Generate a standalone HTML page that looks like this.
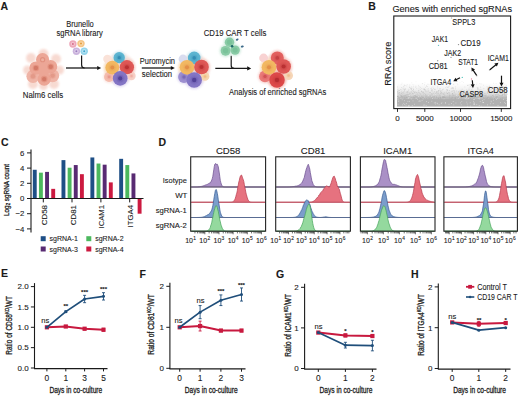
<!DOCTYPE html>
<html><head><meta charset="utf-8"><style>
html,body{margin:0;padding:0;background:#fff;}
svg{display:block;}
text{font-family:"Liberation Sans", sans-serif;fill:#1a1a1a;stroke:#1a1a1a;stroke-width:0.1px;}
.th{stroke:#222;stroke-width:0.3px;}
</style></head><body>
<svg width="520" height="396" viewBox="0 0 520 396">
<defs>
<filter id="soft" x="-50%" y="-50%" width="200%" height="200%"><feGaussianBlur stdDeviation="1.2"/></filter>
<filter id="soft1" x="-50%" y="-50%" width="200%" height="200%"><feGaussianBlur stdDeviation="0.45"/></filter>
<filter id="soft2" x="-50%" y="-50%" width="200%" height="200%"><feGaussianBlur stdDeviation="0.8"/></filter>
</defs>
<rect width="520" height="396" fill="#fff"/>
<text x="0.60" y="9.60" font-size="10.5" text-anchor="start" font-weight="bold" fill="#000">A</text>
<text x="368.30" y="10.20" font-size="10.5" text-anchor="start" font-weight="bold" fill="#000">B</text>
<text x="1.00" y="146.20" font-size="10.5" text-anchor="start" font-weight="bold" fill="#000">C</text>
<text x="158.60" y="145.60" font-size="10.5" text-anchor="start" font-weight="bold" fill="#000">D</text>
<text x="1.00" y="277.40" font-size="10.5" text-anchor="start" font-weight="bold" fill="#000">E</text>
<text x="139.60" y="278.30" font-size="10.5" text-anchor="start" font-weight="bold" fill="#000">F</text>
<text x="276.00" y="278.30" font-size="10.5" text-anchor="start" font-weight="bold" fill="#000">G</text>
<text x="411.00" y="278.30" font-size="10.5" text-anchor="start" font-weight="bold" fill="#000">H</text>
<circle cx="31" cy="58" r="5" fill="#f7d6cd" opacity="0.9" filter="url(#soft2)"/>
<circle cx="56" cy="59" r="5" fill="#f7d6cd" opacity="0.9" filter="url(#soft2)"/>
<circle cx="27.5" cy="70" r="4.5" fill="#f7d6cd" opacity="0.9" filter="url(#soft2)"/>
<circle cx="59.5" cy="70" r="4.5" fill="#f7d6cd" opacity="0.9" filter="url(#soft2)"/>
<circle cx="33" cy="84" r="5" fill="#f7d6cd" opacity="0.9" filter="url(#soft2)"/>
<circle cx="54" cy="84" r="5" fill="#f7d6cd" opacity="0.9" filter="url(#soft2)"/>
<circle cx="43.5" cy="54" r="5" fill="#f7d6cd" opacity="0.9" filter="url(#soft2)"/>
<circle cx="43.5" cy="85.5" r="4.5" fill="#f7d6cd" opacity="0.9" filter="url(#soft2)"/>
<circle cx="33.00" cy="76.30" r="6.60" fill="#efb4a6" filter="url(#soft1)"/>
<circle cx="52.60" cy="75.60" r="6.60" fill="#efb4a6" filter="url(#soft1)"/>
<circle cx="42.60" cy="59.70" r="6.60" fill="#eca696" filter="url(#soft1)"/>
<circle cx="35.90" cy="68.00" r="6.60" fill="#eca696" filter="url(#soft1)"/>
<circle cx="50.70" cy="66.70" r="6.60" fill="#eca696" filter="url(#soft1)"/>
<circle cx="44.20" cy="79.10" r="6.60" fill="#eca696" filter="url(#soft1)"/>
<circle cx="43.50" cy="69.50" r="6.60" fill="#eca696" filter="url(#soft1)"/>
<circle cx="42.60" cy="59.70" r="2.60" fill="#e08e7c" opacity="0.9"/>
<circle cx="42.60" cy="59.70" r="1.50" fill="#eeb0a0"/>
<circle cx="35.90" cy="68.00" r="3.30" fill="#e3907e" opacity="0.80" filter="url(#soft1)"/>
<circle cx="35.90" cy="68.00" r="2.20" fill="#d47a68" opacity="1.00"/>
<circle cx="50.70" cy="66.70" r="3.30" fill="#e3907e" opacity="0.80" filter="url(#soft1)"/>
<circle cx="50.70" cy="66.70" r="2.20" fill="#d47a68" opacity="1.00"/>
<circle cx="44.20" cy="79.10" r="3.30" fill="#e3907e" opacity="0.80" filter="url(#soft1)"/>
<circle cx="44.20" cy="79.10" r="2.20" fill="#d47a68" opacity="1.00"/>
<circle cx="33.00" cy="76.30" r="3.30" fill="#e3907e" opacity="0.28" filter="url(#soft1)"/>
<circle cx="33.00" cy="76.30" r="2.20" fill="#d47a68" opacity="0.35"/>
<circle cx="52.60" cy="75.60" r="3.30" fill="#e3907e" opacity="0.28" filter="url(#soft1)"/>
<circle cx="52.60" cy="75.60" r="2.20" fill="#d47a68" opacity="0.35"/>
<text x="43.00" y="97.80" font-size="8.4" text-anchor="middle" textLength="40.40" lengthAdjust="spacingAndGlyphs">Nalm6 cells</text>
<line x1="66.00" y1="68.00" x2="97.70" y2="68.00" stroke="#1a1a1a" stroke-width="1.3"/>
<path d="M101.20,68.00 L97.20,65.90 L97.20,70.10 Z" fill="#111"/>
<path d="M81.6,55.5 L81.6,65.0 Q81.6,68.0 84.6,68.0" fill="none" stroke="#1a1a1a" stroke-width="1.2"/>
<circle cx="72.90" cy="44.00" r="3.70" fill="#eda3b6" opacity="0.95" filter="url(#soft1)"/>
<circle cx="72.90" cy="44.00" r="2.10" fill="#ffffff" opacity="0.35"/>
<circle cx="72.90" cy="44.00" r="1.00" fill="#d56f8a"/>
<circle cx="81.00" cy="43.60" r="3.70" fill="#f6c27e" opacity="0.95" filter="url(#soft1)"/>
<circle cx="81.00" cy="43.60" r="2.10" fill="#ffffff" opacity="0.35"/>
<circle cx="81.00" cy="43.60" r="1.00" fill="#e39a3a"/>
<circle cx="76.40" cy="51.20" r="3.70" fill="#c9b0dc" opacity="0.95" filter="url(#soft1)"/>
<circle cx="76.40" cy="51.20" r="2.10" fill="#ffffff" opacity="0.35"/>
<circle cx="76.40" cy="51.20" r="1.00" fill="#9b7cc0"/>
<circle cx="84.20" cy="51.20" r="3.70" fill="#8fd3ea" opacity="0.95" filter="url(#soft1)"/>
<circle cx="84.20" cy="51.20" r="2.10" fill="#ffffff" opacity="0.35"/>
<circle cx="84.20" cy="51.20" r="1.00" fill="#44a9cf"/>
<text x="80.00" y="27.00" font-size="8.3" text-anchor="middle" textLength="27.60" lengthAdjust="spacingAndGlyphs">Brunello</text>
<text x="79.60" y="35.70" font-size="8.3" text-anchor="middle" textLength="46.20" lengthAdjust="spacingAndGlyphs">sgRNA library</text>
<circle cx="119.45" cy="68.55" r="15.5" fill="#f7e4dc" opacity="0.8" filter="url(#soft)"/>
<circle cx="109.10" cy="76.90" r="6.00" fill="#f9dcd4" opacity="0.7" filter="url(#soft2)"/>
<circle cx="119.20" cy="57.70" r="6.75" fill="#c0e4f0" opacity="0.7" filter="url(#soft2)"/>
<circle cx="112.30" cy="67.60" r="8.25" fill="#fadcae" opacity="0.7" filter="url(#soft2)"/>
<circle cx="126.90" cy="67.20" r="8.50" fill="#f5c4be" opacity="0.7" filter="url(#soft2)"/>
<circle cx="120.20" cy="78.40" r="8.75" fill="#d6cef0" opacity="0.7" filter="url(#soft2)"/>
<circle cx="107.40" cy="59.00" r="4.20" fill="#fae2d8" filter="url(#soft1)"/>
<circle cx="109.10" cy="76.90" r="5.04" fill="#f4bcae" filter="url(#soft1)"/>
<circle cx="109.10" cy="76.90" r="2.88" fill="#f4bcae" opacity="0.5" stroke="#e8958a" stroke-opacity="0.25" stroke-width="0.6"/>
<circle cx="109.10" cy="76.90" r="2.30" fill="#e8958a" opacity="0.25"/>
<circle cx="109.10" cy="76.90" r="1.44" fill="#e8958a" opacity="0.85"/>
<circle cx="131.50" cy="76.00" r="4.20" fill="#f7d0c6" filter="url(#soft1)"/>
<circle cx="131.50" cy="76.00" r="2.40" fill="#f7d0c6" opacity="0.5" stroke="#eeaaa0" stroke-opacity="0.25" stroke-width="0.6"/>
<circle cx="131.50" cy="76.00" r="1.92" fill="#eeaaa0" opacity="0.25"/>
<circle cx="131.50" cy="76.00" r="1.20" fill="#eeaaa0" opacity="0.85"/>
<circle cx="119.20" cy="57.70" r="5.67" fill="#5cb4d0" filter="url(#soft1)"/>
<circle cx="119.20" cy="57.70" r="3.24" fill="#5cb4d0" opacity="0.5" stroke="#2f88b0" stroke-opacity="0.25" stroke-width="0.6"/>
<circle cx="119.20" cy="57.70" r="2.59" fill="#2f88b0" opacity="0.25"/>
<circle cx="119.20" cy="57.70" r="1.62" fill="#2f88b0" opacity="0.85"/>
<circle cx="112.30" cy="67.60" r="6.93" fill="#f2b862" filter="url(#soft1)"/>
<circle cx="112.30" cy="67.60" r="3.96" fill="#f2b862" opacity="0.5" stroke="#e08a44" stroke-opacity="0.25" stroke-width="0.6"/>
<circle cx="112.30" cy="67.60" r="3.17" fill="#e08a44" opacity="0.25"/>
<circle cx="112.30" cy="67.60" r="1.98" fill="#e08a44" opacity="0.85"/>
<circle cx="126.90" cy="67.20" r="7.14" fill="#de5856" filter="url(#soft1)"/>
<circle cx="126.90" cy="67.20" r="4.08" fill="#de5856" opacity="0.5" stroke="#b52c2e" stroke-opacity="0.25" stroke-width="0.6"/>
<circle cx="126.90" cy="67.20" r="3.26" fill="#b52c2e" opacity="0.25"/>
<circle cx="126.90" cy="67.20" r="2.04" fill="#b52c2e" opacity="0.85"/>
<circle cx="120.20" cy="78.40" r="7.35" fill="#8374c4" filter="url(#soft1)"/>
<circle cx="120.20" cy="78.40" r="4.20" fill="#8374c4" opacity="0.5" stroke="#4b3b92" stroke-opacity="0.25" stroke-width="0.6"/>
<circle cx="120.20" cy="78.40" r="3.36" fill="#4b3b92" opacity="0.25"/>
<circle cx="120.20" cy="78.40" r="2.10" fill="#4b3b92" opacity="0.85"/>
<line x1="141.80" y1="68.00" x2="171.30" y2="68.00" stroke="#1a1a1a" stroke-width="1.3"/>
<path d="M174.80,68.00 L170.80,65.90 L170.80,70.10 Z" fill="#111"/>
<text x="157.40" y="63.90" font-size="8.5" text-anchor="middle" textLength="35.20" lengthAdjust="spacingAndGlyphs">Puromycin</text>
<text x="157.00" y="76.60" font-size="8.5" text-anchor="middle" textLength="30.30" lengthAdjust="spacingAndGlyphs">selection</text>
<circle cx="194.00" cy="69.45" r="15.5" fill="#f7e4dc" opacity="0.8" filter="url(#soft)"/>
<circle cx="184.00" cy="77.00" r="7.00" fill="#d6cfee" opacity="0.7" filter="url(#soft2)"/>
<circle cx="194.20" cy="57.90" r="7.50" fill="#c0e4f0" opacity="0.7" filter="url(#soft2)"/>
<circle cx="187.00" cy="67.30" r="8.75" fill="#fadcae" opacity="0.7" filter="url(#soft2)"/>
<circle cx="201.50" cy="67.00" r="8.75" fill="#f5c4be" opacity="0.7" filter="url(#soft2)"/>
<circle cx="194.20" cy="80.00" r="9.25" fill="#d6cef0" opacity="0.7" filter="url(#soft2)"/>
<circle cx="183.00" cy="59.00" r="4.41" fill="#d9dcef" filter="url(#soft1)"/>
<circle cx="205.00" cy="76.40" r="4.41" fill="#f6d6b0" filter="url(#soft1)"/>
<circle cx="205.00" cy="76.40" r="2.52" fill="#f6d6b0" opacity="0.5" stroke="#eebb80" stroke-opacity="0.25" stroke-width="0.6"/>
<circle cx="205.00" cy="76.40" r="2.02" fill="#eebb80" opacity="0.25"/>
<circle cx="205.00" cy="76.40" r="1.26" fill="#eebb80" opacity="0.85"/>
<circle cx="184.00" cy="77.00" r="5.88" fill="#9d8fd0" filter="url(#soft1)"/>
<circle cx="184.00" cy="77.00" r="3.36" fill="#9d8fd0" opacity="0.5" stroke="#7464b4" stroke-opacity="0.25" stroke-width="0.6"/>
<circle cx="184.00" cy="77.00" r="2.69" fill="#7464b4" opacity="0.25"/>
<circle cx="184.00" cy="77.00" r="1.68" fill="#7464b4" opacity="0.85"/>
<circle cx="194.20" cy="57.90" r="6.30" fill="#5cb4d0" filter="url(#soft1)"/>
<circle cx="194.20" cy="57.90" r="3.60" fill="#5cb4d0" opacity="0.5" stroke="#2f88b0" stroke-opacity="0.25" stroke-width="0.6"/>
<circle cx="194.20" cy="57.90" r="2.88" fill="#2f88b0" opacity="0.25"/>
<circle cx="194.20" cy="57.90" r="1.80" fill="#2f88b0" opacity="0.85"/>
<circle cx="187.00" cy="67.30" r="7.35" fill="#f2b862" filter="url(#soft1)"/>
<circle cx="187.00" cy="67.30" r="4.20" fill="#f2b862" opacity="0.5" stroke="#e08a44" stroke-opacity="0.25" stroke-width="0.6"/>
<circle cx="187.00" cy="67.30" r="3.36" fill="#e08a44" opacity="0.25"/>
<circle cx="187.00" cy="67.30" r="2.10" fill="#e08a44" opacity="0.85"/>
<circle cx="201.50" cy="67.00" r="7.35" fill="#de5856" filter="url(#soft1)"/>
<circle cx="201.50" cy="67.00" r="4.20" fill="#de5856" opacity="0.5" stroke="#b52c2e" stroke-opacity="0.25" stroke-width="0.6"/>
<circle cx="201.50" cy="67.00" r="3.36" fill="#b52c2e" opacity="0.25"/>
<circle cx="201.50" cy="67.00" r="2.10" fill="#b52c2e" opacity="0.85"/>
<circle cx="194.20" cy="80.00" r="7.77" fill="#8374c4" filter="url(#soft1)"/>
<circle cx="194.20" cy="80.00" r="4.44" fill="#8374c4" opacity="0.5" stroke="#4b3b92" stroke-opacity="0.25" stroke-width="0.6"/>
<circle cx="194.20" cy="80.00" r="3.55" fill="#4b3b92" opacity="0.25"/>
<circle cx="194.20" cy="80.00" r="2.22" fill="#4b3b92" opacity="0.85"/>
<line x1="215.30" y1="68.40" x2="247.70" y2="68.40" stroke="#1a1a1a" stroke-width="1.3"/>
<path d="M251.20,68.40 L247.20,66.30 L247.20,70.50 Z" fill="#111"/>
<path d="M231.2,55.8 L231.2,65.4 Q231.2,68.4 234.2,68.4" fill="none" stroke="#1a1a1a" stroke-width="1.2"/>
<circle cx="229.5" cy="42.2" r="5.88" fill="#cdeadb" opacity="0.9" filter="url(#soft2)"/>
<circle cx="225.6" cy="50.8" r="6.12" fill="#cdeadb" opacity="0.9" filter="url(#soft2)"/>
<circle cx="235.1" cy="50.1" r="5.88" fill="#cdeadb" opacity="0.9" filter="url(#soft2)"/>
<circle cx="229.50" cy="42.20" r="4.70" fill="#8acba6" filter="url(#soft1)"/>
<circle cx="229.50" cy="42.20" r="2.59" fill="#74bd96" opacity="0.7"/>
<circle cx="225.60" cy="50.80" r="4.90" fill="#8acba6" filter="url(#soft1)"/>
<circle cx="225.60" cy="50.80" r="2.70" fill="#74bd96" opacity="0.7"/>
<circle cx="235.10" cy="50.10" r="4.70" fill="#8acba6" filter="url(#soft1)"/>
<circle cx="235.10" cy="50.10" r="2.59" fill="#74bd96" opacity="0.7"/>
<circle cx="232.10" cy="46.20" r="1.30" fill="#1f6a6a"/>
<ellipse cx="237.2" cy="39.6" rx="1.5" ry="1.0" fill="#3d6a8a" transform="rotate(-30 237.2 39.6)"/>
<ellipse cx="242.3" cy="46.6" rx="1.5" ry="1.0" fill="#3d6a8a" transform="rotate(-10 242.3 46.6)"/>
<text x="235.00" y="36.20" font-size="8.3" text-anchor="middle" textLength="62.60" lengthAdjust="spacingAndGlyphs">CD19 CAR T cells</text>
<circle cx="276.10" cy="69.45" r="15.5" fill="#f7e4dc" opacity="0.8" filter="url(#soft)"/>
<circle cx="265.00" cy="76.40" r="7.00" fill="#f6c0bc" opacity="0.7" filter="url(#soft2)"/>
<circle cx="277.30" cy="57.90" r="7.75" fill="#f4b0aa" opacity="0.7" filter="url(#soft2)"/>
<circle cx="269.00" cy="67.30" r="8.75" fill="#fadcae" opacity="0.7" filter="url(#soft2)"/>
<circle cx="283.60" cy="66.50" r="8.75" fill="#f5c4be" opacity="0.7" filter="url(#soft2)"/>
<circle cx="277.00" cy="80.00" r="9.25" fill="#f2a8a0" opacity="0.7" filter="url(#soft2)"/>
<circle cx="263.60" cy="58.00" r="4.41" fill="#f8d2d2" filter="url(#soft1)"/>
<circle cx="288.60" cy="75.60" r="4.41" fill="#f6d6b8" filter="url(#soft1)"/>
<circle cx="288.60" cy="75.60" r="2.52" fill="#f6d6b8" opacity="0.5" stroke="#eebb88" stroke-opacity="0.25" stroke-width="0.6"/>
<circle cx="288.60" cy="75.60" r="2.02" fill="#eebb88" opacity="0.25"/>
<circle cx="288.60" cy="75.60" r="1.26" fill="#eebb88" opacity="0.85"/>
<circle cx="265.00" cy="76.40" r="5.88" fill="#e97a78" filter="url(#soft1)"/>
<circle cx="265.00" cy="76.40" r="3.36" fill="#e97a78" opacity="0.5" stroke="#cf4d50" stroke-opacity="0.25" stroke-width="0.6"/>
<circle cx="265.00" cy="76.40" r="2.69" fill="#cf4d50" opacity="0.25"/>
<circle cx="265.00" cy="76.40" r="1.68" fill="#cf4d50" opacity="0.85"/>
<circle cx="277.30" cy="57.90" r="6.51" fill="#e2605e" filter="url(#soft1)"/>
<circle cx="277.30" cy="57.90" r="3.72" fill="#e2605e" opacity="0.5" stroke="#c03c3e" stroke-opacity="0.25" stroke-width="0.6"/>
<circle cx="277.30" cy="57.90" r="2.98" fill="#c03c3e" opacity="0.25"/>
<circle cx="277.30" cy="57.90" r="1.86" fill="#c03c3e" opacity="0.85"/>
<circle cx="269.00" cy="67.30" r="7.35" fill="#f2b862" filter="url(#soft1)"/>
<circle cx="269.00" cy="67.30" r="4.20" fill="#f2b862" opacity="0.5" stroke="#e08a44" stroke-opacity="0.25" stroke-width="0.6"/>
<circle cx="269.00" cy="67.30" r="3.36" fill="#e08a44" opacity="0.25"/>
<circle cx="269.00" cy="67.30" r="2.10" fill="#e08a44" opacity="0.85"/>
<circle cx="283.60" cy="66.50" r="7.35" fill="#de5856" filter="url(#soft1)"/>
<circle cx="283.60" cy="66.50" r="4.20" fill="#de5856" opacity="0.5" stroke="#b52c2e" stroke-opacity="0.25" stroke-width="0.6"/>
<circle cx="283.60" cy="66.50" r="3.36" fill="#b52c2e" opacity="0.25"/>
<circle cx="283.60" cy="66.50" r="2.10" fill="#b52c2e" opacity="0.85"/>
<circle cx="277.00" cy="80.00" r="7.77" fill="#dc4a48" filter="url(#soft1)"/>
<circle cx="277.00" cy="80.00" r="4.44" fill="#dc4a48" opacity="0.5" stroke="#b02a2e" stroke-opacity="0.25" stroke-width="0.6"/>
<circle cx="277.00" cy="80.00" r="3.55" fill="#b02a2e" opacity="0.25"/>
<circle cx="277.00" cy="80.00" r="2.22" fill="#b02a2e" opacity="0.85"/>
<text x="277.70" y="95.30" font-size="8.3" text-anchor="middle" textLength="97.40" lengthAdjust="spacingAndGlyphs">Analysis of enriched sgRNAs</text>
<defs><linearGradient id="gsc" x1="0" y1="0" x2="0" y2="1"><stop offset="0" stop-color="#c4c4c4" stop-opacity="0"/><stop offset="0.4" stop-color="#c4c4c4" stop-opacity="0.22"/><stop offset="0.75" stop-color="#bcbcbc" stop-opacity="0.6"/><stop offset="1" stop-color="#b4b4b4" stop-opacity="1"/></linearGradient></defs>
<rect x="397.00" y="83.00" width="110.00" height="15.50" fill="url(#gsc)"/>
<rect x="397.00" y="98.30" width="110.00" height="8.30" fill="#b1b1b1"/>
<rect x="432.6" y="86.6" width="0.8" height="0.8" fill="#a8a8a8" opacity="0.31"/>
<rect x="468.6" y="84.6" width="0.8" height="0.8" fill="#a8a8a8" opacity="0.25"/>
<rect x="455.9" y="90.6" width="0.8" height="0.8" fill="#a8a8a8" opacity="0.42"/>
<rect x="403.4" y="92.6" width="0.8" height="0.8" fill="#a8a8a8" opacity="0.48"/>
<rect x="401.1" y="91.6" width="0.8" height="0.8" fill="#a8a8a8" opacity="0.45"/>
<rect x="404.7" y="85.1" width="0.8" height="0.8" fill="#a8a8a8" opacity="0.27"/>
<rect x="443.7" y="96.6" width="0.8" height="0.8" fill="#a8a8a8" opacity="0.60"/>
<rect x="410.6" y="88.1" width="0.8" height="0.8" fill="#a8a8a8" opacity="0.35"/>
<rect x="466.0" y="97.9" width="0.8" height="0.8" fill="#a8a8a8" opacity="0.63"/>
<rect x="460.5" y="91.0" width="0.8" height="0.8" fill="#a8a8a8" opacity="0.44"/>
<rect x="504.4" y="83.8" width="0.8" height="0.8" fill="#a8a8a8" opacity="0.23"/>
<rect x="491.4" y="89.3" width="0.8" height="0.8" fill="#a8a8a8" opacity="0.39"/>
<rect x="412.9" y="85.8" width="0.8" height="0.8" fill="#a8a8a8" opacity="0.29"/>
<rect x="430.9" y="96.5" width="0.8" height="0.8" fill="#a8a8a8" opacity="0.59"/>
<rect x="416.9" y="93.6" width="0.8" height="0.8" fill="#a8a8a8" opacity="0.51"/>
<rect x="467.3" y="90.7" width="0.8" height="0.8" fill="#a8a8a8" opacity="0.43"/>
<rect x="457.3" y="84.3" width="0.8" height="0.8" fill="#a8a8a8" opacity="0.24"/>
<rect x="403.6" y="87.8" width="0.8" height="0.8" fill="#a8a8a8" opacity="0.34"/>
<rect x="471.8" y="91.5" width="0.8" height="0.8" fill="#a8a8a8" opacity="0.45"/>
<rect x="431.6" y="93.7" width="0.8" height="0.8" fill="#a8a8a8" opacity="0.51"/>
<rect x="446.9" y="89.5" width="0.8" height="0.8" fill="#a8a8a8" opacity="0.39"/>
<rect x="484.4" y="95.1" width="0.8" height="0.8" fill="#a8a8a8" opacity="0.55"/>
<rect x="423.9" y="93.5" width="0.8" height="0.8" fill="#a8a8a8" opacity="0.51"/>
<rect x="454.8" y="97.2" width="0.8" height="0.8" fill="#a8a8a8" opacity="0.61"/>
<rect x="477.2" y="89.3" width="0.8" height="0.8" fill="#a8a8a8" opacity="0.39"/>
<rect x="504.8" y="85.9" width="0.8" height="0.8" fill="#a8a8a8" opacity="0.29"/>
<rect x="443.0" y="95.8" width="0.8" height="0.8" fill="#a8a8a8" opacity="0.57"/>
<rect x="413.7" y="92.4" width="0.8" height="0.8" fill="#a8a8a8" opacity="0.48"/>
<rect x="401.3" y="94.7" width="0.8" height="0.8" fill="#a8a8a8" opacity="0.54"/>
<rect x="481.1" y="93.5" width="0.8" height="0.8" fill="#a8a8a8" opacity="0.51"/>
<rect x="493.3" y="89.7" width="0.8" height="0.8" fill="#a8a8a8" opacity="0.40"/>
<rect x="473.5" y="93.8" width="0.8" height="0.8" fill="#a8a8a8" opacity="0.52"/>
<rect x="460.8" y="91.9" width="0.8" height="0.8" fill="#a8a8a8" opacity="0.46"/>
<rect x="489.4" y="97.9" width="0.8" height="0.8" fill="#a8a8a8" opacity="0.63"/>
<rect x="449.2" y="94.7" width="0.8" height="0.8" fill="#a8a8a8" opacity="0.54"/>
<rect x="403.7" y="95.1" width="0.8" height="0.8" fill="#a8a8a8" opacity="0.55"/>
<rect x="468.2" y="98.4" width="0.8" height="0.8" fill="#a8a8a8" opacity="0.65"/>
<rect x="487.4" y="89.2" width="0.8" height="0.8" fill="#a8a8a8" opacity="0.39"/>
<rect x="439.4" y="94.7" width="0.8" height="0.8" fill="#a8a8a8" opacity="0.54"/>
<rect x="399.5" y="92.0" width="0.8" height="0.8" fill="#a8a8a8" opacity="0.46"/>
<rect x="415.5" y="85.8" width="0.8" height="0.8" fill="#a8a8a8" opacity="0.29"/>
<rect x="403.5" y="95.9" width="0.8" height="0.8" fill="#a8a8a8" opacity="0.58"/>
<rect x="411.2" y="88.6" width="0.8" height="0.8" fill="#a8a8a8" opacity="0.37"/>
<rect x="440.0" y="97.1" width="0.8" height="0.8" fill="#a8a8a8" opacity="0.61"/>
<rect x="405.9" y="91.8" width="0.8" height="0.8" fill="#a8a8a8" opacity="0.46"/>
<rect x="457.4" y="97.2" width="0.8" height="0.8" fill="#a8a8a8" opacity="0.61"/>
<rect x="487.1" y="97.0" width="0.8" height="0.8" fill="#a8a8a8" opacity="0.61"/>
<rect x="427.6" y="91.3" width="0.8" height="0.8" fill="#a8a8a8" opacity="0.45"/>
<rect x="436.5" y="97.3" width="0.8" height="0.8" fill="#a8a8a8" opacity="0.61"/>
<rect x="502.4" y="86.6" width="0.8" height="0.8" fill="#a8a8a8" opacity="0.31"/>
<rect x="416.4" y="88.3" width="0.8" height="0.8" fill="#a8a8a8" opacity="0.36"/>
<rect x="422.7" y="92.3" width="0.8" height="0.8" fill="#a8a8a8" opacity="0.47"/>
<rect x="461.8" y="88.8" width="0.8" height="0.8" fill="#a8a8a8" opacity="0.37"/>
<rect x="397.5" y="91.4" width="0.8" height="0.8" fill="#a8a8a8" opacity="0.45"/>
<rect x="437.6" y="93.4" width="0.8" height="0.8" fill="#a8a8a8" opacity="0.51"/>
<rect x="501.8" y="95.0" width="0.8" height="0.8" fill="#a8a8a8" opacity="0.55"/>
<rect x="453.7" y="94.1" width="0.8" height="0.8" fill="#a8a8a8" opacity="0.52"/>
<rect x="471.4" y="84.0" width="0.8" height="0.8" fill="#a8a8a8" opacity="0.24"/>
<rect x="495.9" y="96.1" width="0.8" height="0.8" fill="#a8a8a8" opacity="0.58"/>
<rect x="493.2" y="96.3" width="0.8" height="0.8" fill="#a8a8a8" opacity="0.59"/>
<rect x="440.2" y="91.1" width="0.8" height="0.8" fill="#a8a8a8" opacity="0.44"/>
<rect x="408.4" y="94.3" width="0.8" height="0.8" fill="#a8a8a8" opacity="0.53"/>
<rect x="403.8" y="84.5" width="0.8" height="0.8" fill="#a8a8a8" opacity="0.25"/>
<rect x="420.0" y="86.9" width="0.8" height="0.8" fill="#a8a8a8" opacity="0.32"/>
<rect x="434.4" y="84.0" width="0.8" height="0.8" fill="#a8a8a8" opacity="0.24"/>
<rect x="397.0" y="86.6" width="0.8" height="0.8" fill="#a8a8a8" opacity="0.31"/>
<rect x="408.2" y="90.5" width="0.8" height="0.8" fill="#a8a8a8" opacity="0.42"/>
<rect x="399.8" y="97.1" width="0.8" height="0.8" fill="#a8a8a8" opacity="0.61"/>
<rect x="464.5" y="86.6" width="0.8" height="0.8" fill="#a8a8a8" opacity="0.31"/>
<rect x="424.7" y="90.3" width="0.8" height="0.8" fill="#a8a8a8" opacity="0.42"/>
<rect x="437.1" y="86.0" width="0.8" height="0.8" fill="#a8a8a8" opacity="0.29"/>
<rect x="490.4" y="98.4" width="0.8" height="0.8" fill="#a8a8a8" opacity="0.65"/>
<rect x="448.3" y="92.3" width="0.8" height="0.8" fill="#a8a8a8" opacity="0.47"/>
<rect x="406.4" y="85.5" width="0.8" height="0.8" fill="#a8a8a8" opacity="0.28"/>
<rect x="434.7" y="88.9" width="0.8" height="0.8" fill="#a8a8a8" opacity="0.38"/>
<rect x="488.2" y="86.9" width="0.8" height="0.8" fill="#a8a8a8" opacity="0.32"/>
<rect x="399.5" y="98.0" width="0.8" height="0.8" fill="#a8a8a8" opacity="0.64"/>
<rect x="455.1" y="86.5" width="0.8" height="0.8" fill="#a8a8a8" opacity="0.31"/>
<rect x="456.7" y="83.0" width="0.8" height="0.8" fill="#a8a8a8" opacity="0.21"/>
<rect x="455.1" y="98.3" width="0.8" height="0.8" fill="#a8a8a8" opacity="0.64"/>
<rect x="492.0" y="95.1" width="0.8" height="0.8" fill="#a8a8a8" opacity="0.55"/>
<rect x="425.7" y="90.6" width="0.8" height="0.8" fill="#a8a8a8" opacity="0.42"/>
<rect x="415.4" y="96.0" width="0.8" height="0.8" fill="#a8a8a8" opacity="0.58"/>
<rect x="455.6" y="96.1" width="0.8" height="0.8" fill="#a8a8a8" opacity="0.58"/>
<rect x="433.3" y="88.1" width="0.8" height="0.8" fill="#a8a8a8" opacity="0.35"/>
<rect x="486.3" y="98.3" width="0.8" height="0.8" fill="#a8a8a8" opacity="0.65"/>
<rect x="490.8" y="96.4" width="0.8" height="0.8" fill="#a8a8a8" opacity="0.59"/>
<rect x="487.0" y="95.6" width="0.8" height="0.8" fill="#a8a8a8" opacity="0.57"/>
<rect x="421.9" y="92.8" width="0.8" height="0.8" fill="#a8a8a8" opacity="0.49"/>
<rect x="436.1" y="83.1" width="0.8" height="0.8" fill="#a8a8a8" opacity="0.21"/>
<rect x="400.1" y="89.1" width="0.8" height="0.8" fill="#a8a8a8" opacity="0.38"/>
<rect x="425.5" y="95.0" width="0.8" height="0.8" fill="#a8a8a8" opacity="0.55"/>
<rect x="502.2" y="91.8" width="0.8" height="0.8" fill="#a8a8a8" opacity="0.46"/>
<rect x="500.1" y="98.4" width="0.8" height="0.8" fill="#a8a8a8" opacity="0.65"/>
<rect x="502.1" y="90.6" width="0.8" height="0.8" fill="#a8a8a8" opacity="0.42"/>
<rect x="421.3" y="88.2" width="0.8" height="0.8" fill="#a8a8a8" opacity="0.36"/>
<rect x="418.6" y="87.7" width="0.8" height="0.8" fill="#a8a8a8" opacity="0.34"/>
<rect x="465.6" y="97.4" width="0.8" height="0.8" fill="#a8a8a8" opacity="0.62"/>
<rect x="489.4" y="92.3" width="0.8" height="0.8" fill="#a8a8a8" opacity="0.47"/>
<rect x="468.8" y="96.3" width="0.8" height="0.8" fill="#a8a8a8" opacity="0.59"/>
<rect x="406.3" y="94.6" width="0.8" height="0.8" fill="#a8a8a8" opacity="0.54"/>
<rect x="497.1" y="96.1" width="0.8" height="0.8" fill="#a8a8a8" opacity="0.58"/>
<rect x="479.5" y="92.2" width="0.8" height="0.8" fill="#a8a8a8" opacity="0.47"/>
<rect x="416.6" y="96.2" width="0.8" height="0.8" fill="#a8a8a8" opacity="0.58"/>
<rect x="433.6" y="96.3" width="0.8" height="0.8" fill="#a8a8a8" opacity="0.59"/>
<rect x="503.9" y="91.0" width="0.8" height="0.8" fill="#a8a8a8" opacity="0.44"/>
<rect x="441.2" y="97.9" width="0.8" height="0.8" fill="#a8a8a8" opacity="0.63"/>
<rect x="476.7" y="87.0" width="0.8" height="0.8" fill="#a8a8a8" opacity="0.32"/>
<rect x="411.0" y="86.6" width="0.8" height="0.8" fill="#a8a8a8" opacity="0.31"/>
<rect x="496.5" y="96.4" width="0.8" height="0.8" fill="#a8a8a8" opacity="0.59"/>
<rect x="413.1" y="96.6" width="0.8" height="0.8" fill="#a8a8a8" opacity="0.60"/>
<rect x="504.8" y="94.6" width="0.8" height="0.8" fill="#a8a8a8" opacity="0.54"/>
<rect x="435.5" y="93.2" width="0.8" height="0.8" fill="#a8a8a8" opacity="0.50"/>
<rect x="411.4" y="82.4" width="0.8" height="0.8" fill="#a8a8a8" opacity="0.19"/>
<rect x="503.8" y="94.5" width="0.8" height="0.8" fill="#a8a8a8" opacity="0.54"/>
<rect x="454.9" y="97.8" width="0.8" height="0.8" fill="#a8a8a8" opacity="0.63"/>
<rect x="444.7" y="97.1" width="0.8" height="0.8" fill="#a8a8a8" opacity="0.61"/>
<rect x="487.9" y="87.9" width="0.8" height="0.8" fill="#a8a8a8" opacity="0.35"/>
<rect x="424.7" y="89.4" width="0.8" height="0.8" fill="#a8a8a8" opacity="0.39"/>
<rect x="423.5" y="93.7" width="0.8" height="0.8" fill="#a8a8a8" opacity="0.51"/>
<rect x="425.5" y="91.4" width="0.8" height="0.8" fill="#a8a8a8" opacity="0.45"/>
<rect x="411.4" y="97.5" width="0.8" height="0.8" fill="#a8a8a8" opacity="0.62"/>
<rect x="435.9" y="92.0" width="0.8" height="0.8" fill="#a8a8a8" opacity="0.46"/>
<rect x="461.2" y="97.5" width="0.8" height="0.8" fill="#a8a8a8" opacity="0.62"/>
<rect x="443.3" y="97.6" width="0.8" height="0.8" fill="#a8a8a8" opacity="0.62"/>
<rect x="452.2" y="93.0" width="0.8" height="0.8" fill="#a8a8a8" opacity="0.49"/>
<rect x="454.6" y="82.6" width="0.8" height="0.8" fill="#a8a8a8" opacity="0.20"/>
<rect x="445.4" y="87.3" width="0.8" height="0.8" fill="#a8a8a8" opacity="0.33"/>
<rect x="397.4" y="96.3" width="0.8" height="0.8" fill="#a8a8a8" opacity="0.59"/>
<rect x="416.0" y="92.2" width="0.8" height="0.8" fill="#a8a8a8" opacity="0.47"/>
<rect x="476.8" y="93.3" width="0.8" height="0.8" fill="#a8a8a8" opacity="0.50"/>
<rect x="432.9" y="92.8" width="0.8" height="0.8" fill="#a8a8a8" opacity="0.49"/>
<rect x="458.1" y="96.1" width="0.8" height="0.8" fill="#a8a8a8" opacity="0.58"/>
<rect x="408.7" y="93.4" width="0.8" height="0.8" fill="#a8a8a8" opacity="0.50"/>
<rect x="424.3" y="89.1" width="0.8" height="0.8" fill="#a8a8a8" opacity="0.38"/>
<rect x="481.9" y="92.7" width="0.8" height="0.8" fill="#a8a8a8" opacity="0.48"/>
<rect x="458.8" y="95.8" width="0.8" height="0.8" fill="#a8a8a8" opacity="0.57"/>
<rect x="497.4" y="91.7" width="0.8" height="0.8" fill="#a8a8a8" opacity="0.46"/>
<rect x="464.4" y="92.6" width="0.8" height="0.8" fill="#a8a8a8" opacity="0.48"/>
<rect x="453.3" y="95.0" width="0.8" height="0.8" fill="#a8a8a8" opacity="0.55"/>
<rect x="446.8" y="93.0" width="0.8" height="0.8" fill="#a8a8a8" opacity="0.49"/>
<rect x="449.6" y="97.9" width="0.8" height="0.8" fill="#a8a8a8" opacity="0.63"/>
<rect x="473.9" y="97.2" width="0.8" height="0.8" fill="#a8a8a8" opacity="0.61"/>
<rect x="500.6" y="88.8" width="0.8" height="0.8" fill="#a8a8a8" opacity="0.37"/>
<rect x="458.5" y="97.9" width="0.8" height="0.8" fill="#a8a8a8" opacity="0.63"/>
<rect x="489.4" y="86.3" width="0.8" height="0.8" fill="#a8a8a8" opacity="0.30"/>
<rect x="410.4" y="91.7" width="0.8" height="0.8" fill="#a8a8a8" opacity="0.46"/>
<rect x="405.0" y="88.4" width="0.8" height="0.8" fill="#a8a8a8" opacity="0.36"/>
<rect x="405.0" y="94.8" width="0.8" height="0.8" fill="#a8a8a8" opacity="0.54"/>
<rect x="483.2" y="97.4" width="0.8" height="0.8" fill="#a8a8a8" opacity="0.62"/>
<rect x="414.0" y="95.3" width="0.8" height="0.8" fill="#a8a8a8" opacity="0.56"/>
<rect x="469.6" y="86.4" width="0.8" height="0.8" fill="#a8a8a8" opacity="0.31"/>
<rect x="494.1" y="98.2" width="0.8" height="0.8" fill="#a8a8a8" opacity="0.64"/>
<rect x="421.2" y="98.0" width="0.8" height="0.8" fill="#a8a8a8" opacity="0.64"/>
<rect x="440.8" y="92.4" width="0.8" height="0.8" fill="#a8a8a8" opacity="0.47"/>
<rect x="505.9" y="96.7" width="0.8" height="0.8" fill="#a8a8a8" opacity="0.60"/>
<rect x="414.8" y="91.6" width="0.8" height="0.8" fill="#a8a8a8" opacity="0.45"/>
<rect x="453.7" y="90.1" width="0.8" height="0.8" fill="#a8a8a8" opacity="0.41"/>
<rect x="418.5" y="89.8" width="0.8" height="0.8" fill="#a8a8a8" opacity="0.40"/>
<rect x="476.4" y="82.6" width="0.8" height="0.8" fill="#a8a8a8" opacity="0.20"/>
<rect x="457.9" y="91.7" width="0.8" height="0.8" fill="#a8a8a8" opacity="0.46"/>
<rect x="399.0" y="90.0" width="0.8" height="0.8" fill="#a8a8a8" opacity="0.41"/>
<rect x="465.6" y="92.7" width="0.8" height="0.8" fill="#a8a8a8" opacity="0.48"/>
<rect x="404.1" y="98.3" width="0.8" height="0.8" fill="#a8a8a8" opacity="0.65"/>
<rect x="483.7" y="98.2" width="0.8" height="0.8" fill="#a8a8a8" opacity="0.64"/>
<rect x="408.5" y="88.9" width="0.8" height="0.8" fill="#a8a8a8" opacity="0.38"/>
<rect x="401.4" y="96.1" width="0.8" height="0.8" fill="#a8a8a8" opacity="0.58"/>
<rect x="426.7" y="86.1" width="0.8" height="0.8" fill="#a8a8a8" opacity="0.30"/>
<rect x="443.4" y="97.6" width="0.8" height="0.8" fill="#a8a8a8" opacity="0.62"/>
<rect x="487.1" y="88.8" width="0.8" height="0.8" fill="#a8a8a8" opacity="0.37"/>
<rect x="413.4" y="97.6" width="0.8" height="0.8" fill="#a8a8a8" opacity="0.63"/>
<rect x="459.8" y="95.1" width="0.8" height="0.8" fill="#a8a8a8" opacity="0.55"/>
<rect x="406.8" y="84.2" width="0.8" height="0.8" fill="#a8a8a8" opacity="0.24"/>
<rect x="472.7" y="91.5" width="0.8" height="0.8" fill="#a8a8a8" opacity="0.45"/>
<rect x="405.0" y="97.8" width="0.8" height="0.8" fill="#a8a8a8" opacity="0.63"/>
<rect x="466.8" y="96.3" width="0.8" height="0.8" fill="#a8a8a8" opacity="0.59"/>
<rect x="406.2" y="96.9" width="0.8" height="0.8" fill="#a8a8a8" opacity="0.61"/>
<rect x="404.3" y="97.0" width="0.8" height="0.8" fill="#a8a8a8" opacity="0.61"/>
<rect x="446.9" y="90.1" width="0.8" height="0.8" fill="#a8a8a8" opacity="0.41"/>
<rect x="457.8" y="97.7" width="0.8" height="0.8" fill="#a8a8a8" opacity="0.63"/>
<rect x="426.5" y="86.1" width="0.8" height="0.8" fill="#a8a8a8" opacity="0.30"/>
<rect x="455.0" y="88.4" width="0.8" height="0.8" fill="#a8a8a8" opacity="0.36"/>
<rect x="409.0" y="86.9" width="0.8" height="0.8" fill="#a8a8a8" opacity="0.32"/>
<rect x="402.5" y="87.7" width="0.8" height="0.8" fill="#a8a8a8" opacity="0.34"/>
<rect x="431.3" y="89.6" width="0.8" height="0.8" fill="#a8a8a8" opacity="0.40"/>
<rect x="480.5" y="89.3" width="0.8" height="0.8" fill="#a8a8a8" opacity="0.39"/>
<rect x="452.0" y="87.2" width="0.8" height="0.8" fill="#a8a8a8" opacity="0.33"/>
<rect x="435.2" y="82.6" width="0.8" height="0.8" fill="#a8a8a8" opacity="0.20"/>
<rect x="424.5" y="82.4" width="0.8" height="0.8" fill="#a8a8a8" opacity="0.19"/>
<rect x="477.6" y="93.2" width="0.8" height="0.8" fill="#a8a8a8" opacity="0.50"/>
<rect x="417.8" y="92.2" width="0.8" height="0.8" fill="#a8a8a8" opacity="0.47"/>
<rect x="499.8" y="85.6" width="0.8" height="0.8" fill="#a8a8a8" opacity="0.28"/>
<rect x="487.1" y="91.6" width="0.8" height="0.8" fill="#a8a8a8" opacity="0.45"/>
<rect x="451.5" y="96.7" width="0.8" height="0.8" fill="#a8a8a8" opacity="0.60"/>
<rect x="440.2" y="92.6" width="0.8" height="0.8" fill="#a8a8a8" opacity="0.48"/>
<rect x="472.7" y="98.3" width="0.8" height="0.8" fill="#a8a8a8" opacity="0.64"/>
<rect x="434.7" y="96.7" width="0.8" height="0.8" fill="#a8a8a8" opacity="0.60"/>
<rect x="474.7" y="94.3" width="0.8" height="0.8" fill="#a8a8a8" opacity="0.53"/>
<rect x="441.5" y="90.3" width="0.8" height="0.8" fill="#a8a8a8" opacity="0.42"/>
<rect x="403.0" y="86.1" width="0.8" height="0.8" fill="#a8a8a8" opacity="0.30"/>
<rect x="404.8" y="95.6" width="0.8" height="0.8" fill="#a8a8a8" opacity="0.57"/>
<rect x="425.1" y="86.9" width="0.8" height="0.8" fill="#a8a8a8" opacity="0.32"/>
<rect x="406.3" y="96.8" width="0.8" height="0.8" fill="#a8a8a8" opacity="0.60"/>
<rect x="492.8" y="94.8" width="0.8" height="0.8" fill="#a8a8a8" opacity="0.54"/>
<rect x="428.0" y="88.5" width="0.8" height="0.8" fill="#a8a8a8" opacity="0.36"/>
<rect x="429.2" y="92.0" width="0.8" height="0.8" fill="#a8a8a8" opacity="0.46"/>
<rect x="414.3" y="91.8" width="0.8" height="0.8" fill="#a8a8a8" opacity="0.46"/>
<rect x="426.0" y="98.1" width="0.8" height="0.8" fill="#a8a8a8" opacity="0.64"/>
<rect x="504.0" y="93.2" width="0.8" height="0.8" fill="#a8a8a8" opacity="0.50"/>
<rect x="423.9" y="98.1" width="0.8" height="0.8" fill="#a8a8a8" opacity="0.64"/>
<rect x="431.1" y="90.4" width="0.8" height="0.8" fill="#a8a8a8" opacity="0.42"/>
<rect x="397.1" y="90.8" width="0.8" height="0.8" fill="#a8a8a8" opacity="0.43"/>
<rect x="449.2" y="92.6" width="0.8" height="0.8" fill="#a8a8a8" opacity="0.48"/>
<rect x="419.1" y="92.6" width="0.8" height="0.8" fill="#a8a8a8" opacity="0.48"/>
<rect x="397.5" y="88.9" width="0.8" height="0.8" fill="#a8a8a8" opacity="0.37"/>
<rect x="406.9" y="91.1" width="0.8" height="0.8" fill="#a8a8a8" opacity="0.44"/>
<rect x="401.6" y="82.8" width="0.8" height="0.8" fill="#a8a8a8" opacity="0.20"/>
<rect x="430.5" y="88.3" width="0.8" height="0.8" fill="#a8a8a8" opacity="0.36"/>
<rect x="461.4" y="92.9" width="0.8" height="0.8" fill="#a8a8a8" opacity="0.49"/>
<rect x="479.6" y="94.6" width="0.8" height="0.8" fill="#a8a8a8" opacity="0.54"/>
<rect x="475.8" y="97.2" width="0.8" height="0.8" fill="#a8a8a8" opacity="0.61"/>
<rect x="439.8" y="89.9" width="0.8" height="0.8" fill="#a8a8a8" opacity="0.41"/>
<rect x="505.3" y="86.6" width="0.8" height="0.8" fill="#a8a8a8" opacity="0.31"/>
<rect x="476.7" y="94.4" width="0.8" height="0.8" fill="#a8a8a8" opacity="0.53"/>
<rect x="401.8" y="96.7" width="0.8" height="0.8" fill="#a8a8a8" opacity="0.60"/>
<rect x="495.1" y="94.2" width="0.8" height="0.8" fill="#a8a8a8" opacity="0.53"/>
<rect x="477.7" y="96.4" width="0.8" height="0.8" fill="#a8a8a8" opacity="0.59"/>
<rect x="412.3" y="92.9" width="0.8" height="0.8" fill="#a8a8a8" opacity="0.49"/>
<rect x="452.5" y="96.7" width="0.8" height="0.8" fill="#a8a8a8" opacity="0.60"/>
<rect x="485.5" y="96.6" width="0.8" height="0.8" fill="#a8a8a8" opacity="0.60"/>
<rect x="461.2" y="97.3" width="0.8" height="0.8" fill="#a8a8a8" opacity="0.62"/>
<rect x="472.1" y="95.0" width="0.8" height="0.8" fill="#a8a8a8" opacity="0.55"/>
<rect x="422.3" y="83.2" width="0.8" height="0.8" fill="#a8a8a8" opacity="0.21"/>
<rect x="411.6" y="90.5" width="0.8" height="0.8" fill="#a8a8a8" opacity="0.42"/>
<rect x="408.5" y="96.7" width="0.8" height="0.8" fill="#a8a8a8" opacity="0.60"/>
<rect x="458.4" y="94.2" width="0.8" height="0.8" fill="#a8a8a8" opacity="0.53"/>
<rect x="465.9" y="94.9" width="0.8" height="0.8" fill="#a8a8a8" opacity="0.55"/>
<rect x="450.8" y="81.6" width="0.8" height="0.8" fill="#a8a8a8" opacity="0.17"/>
<rect x="484.7" y="95.7" width="0.8" height="0.8" fill="#a8a8a8" opacity="0.57"/>
<rect x="452.3" y="93.0" width="0.8" height="0.8" fill="#a8a8a8" opacity="0.49"/>
<rect x="469.5" y="84.4" width="0.8" height="0.8" fill="#a8a8a8" opacity="0.25"/>
<rect x="478.0" y="88.7" width="0.8" height="0.8" fill="#a8a8a8" opacity="0.37"/>
<rect x="405.2" y="88.9" width="0.8" height="0.8" fill="#a8a8a8" opacity="0.38"/>
<rect x="477.2" y="87.8" width="0.8" height="0.8" fill="#a8a8a8" opacity="0.34"/>
<rect x="478.4" y="98.2" width="0.8" height="0.8" fill="#a8a8a8" opacity="0.64"/>
<rect x="451.3" y="90.8" width="0.8" height="0.8" fill="#a8a8a8" opacity="0.43"/>
<rect x="449.7" y="94.9" width="0.8" height="0.8" fill="#a8a8a8" opacity="0.55"/>
<rect x="481.4" y="94.1" width="0.8" height="0.8" fill="#a8a8a8" opacity="0.52"/>
<rect x="467.7" y="84.8" width="0.8" height="0.8" fill="#a8a8a8" opacity="0.26"/>
<rect x="413.2" y="88.7" width="0.8" height="0.8" fill="#a8a8a8" opacity="0.37"/>
<rect x="478.8" y="89.6" width="0.8" height="0.8" fill="#a8a8a8" opacity="0.39"/>
<rect x="459.5" y="82.3" width="0.8" height="0.8" fill="#a8a8a8" opacity="0.19"/>
<rect x="403.7" y="89.0" width="0.8" height="0.8" fill="#a8a8a8" opacity="0.38"/>
<rect x="470.9" y="95.0" width="0.8" height="0.8" fill="#a8a8a8" opacity="0.55"/>
<rect x="471.3" y="89.3" width="0.8" height="0.8" fill="#a8a8a8" opacity="0.39"/>
<rect x="453.8" y="92.0" width="0.8" height="0.8" fill="#a8a8a8" opacity="0.47"/>
<rect x="448.3" y="85.9" width="0.8" height="0.8" fill="#a8a8a8" opacity="0.29"/>
<rect x="495.3" y="87.6" width="0.8" height="0.8" fill="#a8a8a8" opacity="0.34"/>
<rect x="504.6" y="97.8" width="0.8" height="0.8" fill="#a8a8a8" opacity="0.63"/>
<rect x="398.9" y="92.0" width="0.8" height="0.8" fill="#a8a8a8" opacity="0.46"/>
<rect x="487.2" y="98.2" width="0.8" height="0.8" fill="#a8a8a8" opacity="0.64"/>
<rect x="446.4" y="89.0" width="0.8" height="0.8" fill="#a8a8a8" opacity="0.38"/>
<rect x="420.1" y="97.9" width="0.8" height="0.8" fill="#a8a8a8" opacity="0.63"/>
<rect x="420.2" y="93.6" width="0.8" height="0.8" fill="#a8a8a8" opacity="0.51"/>
<rect x="412.6" y="92.9" width="0.8" height="0.8" fill="#a8a8a8" opacity="0.49"/>
<rect x="501.8" y="86.2" width="0.8" height="0.8" fill="#a8a8a8" opacity="0.30"/>
<rect x="487.2" y="92.7" width="0.8" height="0.8" fill="#a8a8a8" opacity="0.48"/>
<rect x="494.6" y="95.2" width="0.8" height="0.8" fill="#a8a8a8" opacity="0.55"/>
<rect x="422.5" y="97.4" width="0.8" height="0.8" fill="#a8a8a8" opacity="0.62"/>
<rect x="450.5" y="82.9" width="0.8" height="0.8" fill="#a8a8a8" opacity="0.20"/>
<rect x="397.4" y="92.4" width="0.8" height="0.8" fill="#a8a8a8" opacity="0.48"/>
<rect x="446.6" y="89.5" width="0.8" height="0.8" fill="#a8a8a8" opacity="0.39"/>
<rect x="412.5" y="90.2" width="0.8" height="0.8" fill="#a8a8a8" opacity="0.41"/>
<rect x="431.8" y="96.8" width="0.8" height="0.8" fill="#a8a8a8" opacity="0.60"/>
<rect x="397.2" y="95.7" width="0.8" height="0.8" fill="#a8a8a8" opacity="0.57"/>
<rect x="489.3" y="85.9" width="0.8" height="0.8" fill="#a8a8a8" opacity="0.29"/>
<rect x="498.9" y="95.3" width="0.8" height="0.8" fill="#a8a8a8" opacity="0.56"/>
<rect x="496.2" y="89.3" width="0.8" height="0.8" fill="#a8a8a8" opacity="0.39"/>
<rect x="437.9" y="91.0" width="0.8" height="0.8" fill="#a8a8a8" opacity="0.44"/>
<rect x="506.9" y="93.7" width="0.8" height="0.8" fill="#a8a8a8" opacity="0.51"/>
<rect x="436.7" y="91.5" width="0.8" height="0.8" fill="#a8a8a8" opacity="0.45"/>
<rect x="427.3" y="83.8" width="0.8" height="0.8" fill="#a8a8a8" opacity="0.23"/>
<rect x="408.2" y="96.7" width="0.8" height="0.8" fill="#a8a8a8" opacity="0.60"/>
<rect x="428.4" y="97.8" width="0.8" height="0.8" fill="#a8a8a8" opacity="0.63"/>
<rect x="424.4" y="88.9" width="0.8" height="0.8" fill="#a8a8a8" opacity="0.38"/>
<rect x="453.2" y="87.5" width="0.8" height="0.8" fill="#a8a8a8" opacity="0.33"/>
<rect x="438.1" y="98.0" width="0.8" height="0.8" fill="#a8a8a8" opacity="0.64"/>
<rect x="494.3" y="96.4" width="0.8" height="0.8" fill="#a8a8a8" opacity="0.59"/>
<rect x="466.4" y="97.6" width="0.8" height="0.8" fill="#a8a8a8" opacity="0.62"/>
<rect x="500.5" y="93.2" width="0.8" height="0.8" fill="#a8a8a8" opacity="0.50"/>
<rect x="476.2" y="83.9" width="0.8" height="0.8" fill="#a8a8a8" opacity="0.23"/>
<rect x="477.6" y="91.9" width="0.8" height="0.8" fill="#a8a8a8" opacity="0.46"/>
<rect x="479.8" y="94.4" width="0.8" height="0.8" fill="#a8a8a8" opacity="0.53"/>
<rect x="428.5" y="83.9" width="0.8" height="0.8" fill="#a8a8a8" opacity="0.23"/>
<rect x="498.9" y="86.1" width="0.8" height="0.8" fill="#a8a8a8" opacity="0.30"/>
<rect x="448.9" y="90.2" width="0.8" height="0.8" fill="#a8a8a8" opacity="0.41"/>
<rect x="429.8" y="95.6" width="0.8" height="0.8" fill="#a8a8a8" opacity="0.57"/>
<rect x="504.4" y="88.8" width="0.8" height="0.8" fill="#a8a8a8" opacity="0.37"/>
<rect x="469.2" y="89.5" width="0.8" height="0.8" fill="#a8a8a8" opacity="0.39"/>
<rect x="458.3" y="91.0" width="0.8" height="0.8" fill="#a8a8a8" opacity="0.44"/>
<rect x="415.4" y="86.9" width="0.8" height="0.8" fill="#a8a8a8" opacity="0.32"/>
<rect x="419.9" y="97.5" width="0.8" height="0.8" fill="#a8a8a8" opacity="0.62"/>
<rect x="451.7" y="88.1" width="0.8" height="0.8" fill="#a8a8a8" opacity="0.35"/>
<rect x="496.7" y="98.5" width="0.8" height="0.8" fill="#a8a8a8" opacity="0.65"/>
<rect x="446.5" y="86.4" width="0.8" height="0.8" fill="#a8a8a8" opacity="0.30"/>
<rect x="418.2" y="85.1" width="0.8" height="0.8" fill="#a8a8a8" opacity="0.27"/>
<rect x="434.6" y="85.2" width="0.8" height="0.8" fill="#a8a8a8" opacity="0.27"/>
<rect x="423.3" y="88.8" width="0.8" height="0.8" fill="#a8a8a8" opacity="0.37"/>
<rect x="459.7" y="97.3" width="0.8" height="0.8" fill="#a8a8a8" opacity="0.62"/>
<rect x="479.5" y="91.3" width="0.8" height="0.8" fill="#a8a8a8" opacity="0.44"/>
<rect x="442.5" y="92.9" width="0.8" height="0.8" fill="#a8a8a8" opacity="0.49"/>
<rect x="438.5" y="90.1" width="0.8" height="0.8" fill="#a8a8a8" opacity="0.41"/>
<rect x="403.8" y="89.1" width="0.8" height="0.8" fill="#a8a8a8" opacity="0.38"/>
<rect x="503.4" y="86.0" width="0.8" height="0.8" fill="#a8a8a8" opacity="0.29"/>
<rect x="452.4" y="94.3" width="0.8" height="0.8" fill="#a8a8a8" opacity="0.53"/>
<rect x="491.9" y="88.0" width="0.8" height="0.8" fill="#a8a8a8" opacity="0.35"/>
<rect x="426.8" y="88.6" width="0.8" height="0.8" fill="#a8a8a8" opacity="0.37"/>
<rect x="441.0" y="91.8" width="0.8" height="0.8" fill="#a8a8a8" opacity="0.46"/>
<rect x="501.9" y="96.9" width="0.8" height="0.8" fill="#a8a8a8" opacity="0.60"/>
<rect x="493.0" y="82.8" width="0.8" height="0.8" fill="#a8a8a8" opacity="0.20"/>
<rect x="400.5" y="95.2" width="0.8" height="0.8" fill="#a8a8a8" opacity="0.56"/>
<rect x="495.5" y="92.2" width="0.8" height="0.8" fill="#a8a8a8" opacity="0.47"/>
<rect x="461.6" y="81.1" width="0.8" height="0.8" fill="#a8a8a8" opacity="0.15"/>
<rect x="440.1" y="97.7" width="0.8" height="0.8" fill="#a8a8a8" opacity="0.63"/>
<rect x="487.8" y="96.9" width="0.8" height="0.8" fill="#a8a8a8" opacity="0.61"/>
<rect x="503.9" y="88.6" width="0.8" height="0.8" fill="#a8a8a8" opacity="0.37"/>
<rect x="409.0" y="86.7" width="0.8" height="0.8" fill="#a8a8a8" opacity="0.31"/>
<rect x="454.5" y="94.9" width="0.8" height="0.8" fill="#a8a8a8" opacity="0.55"/>
<rect x="500.6" y="95.4" width="0.8" height="0.8" fill="#a8a8a8" opacity="0.56"/>
<rect x="468.2" y="95.9" width="0.8" height="0.8" fill="#a8a8a8" opacity="0.58"/>
<rect x="447.3" y="93.2" width="0.8" height="0.8" fill="#a8a8a8" opacity="0.50"/>
<rect x="401.4" y="96.1" width="0.8" height="0.8" fill="#a8a8a8" opacity="0.58"/>
<rect x="422.6" y="97.6" width="0.8" height="0.8" fill="#a8a8a8" opacity="0.63"/>
<rect x="468.0" y="89.6" width="0.8" height="0.8" fill="#a8a8a8" opacity="0.39"/>
<rect x="411.1" y="88.7" width="0.8" height="0.8" fill="#a8a8a8" opacity="0.37"/>
<rect x="467.0" y="95.1" width="0.8" height="0.8" fill="#a8a8a8" opacity="0.55"/>
<rect x="409.3" y="84.6" width="0.8" height="0.8" fill="#a8a8a8" opacity="0.25"/>
<rect x="454.7" y="93.7" width="0.8" height="0.8" fill="#a8a8a8" opacity="0.51"/>
<rect x="439.7" y="88.1" width="0.8" height="0.8" fill="#a8a8a8" opacity="0.35"/>
<rect x="463.1" y="82.1" width="0.8" height="0.8" fill="#a8a8a8" opacity="0.18"/>
<rect x="430.2" y="92.0" width="0.8" height="0.8" fill="#a8a8a8" opacity="0.46"/>
<rect x="502.5" y="94.4" width="0.8" height="0.8" fill="#a8a8a8" opacity="0.53"/>
<rect x="494.2" y="92.2" width="0.8" height="0.8" fill="#a8a8a8" opacity="0.47"/>
<rect x="422.8" y="88.6" width="0.8" height="0.8" fill="#a8a8a8" opacity="0.37"/>
<rect x="502.7" y="95.2" width="0.8" height="0.8" fill="#a8a8a8" opacity="0.56"/>
<rect x="430.8" y="82.8" width="0.8" height="0.8" fill="#a8a8a8" opacity="0.20"/>
<rect x="451.8" y="94.8" width="0.8" height="0.8" fill="#a8a8a8" opacity="0.54"/>
<rect x="443.2" y="88.7" width="0.8" height="0.8" fill="#a8a8a8" opacity="0.37"/>
<rect x="470.4" y="97.7" width="0.8" height="0.8" fill="#a8a8a8" opacity="0.63"/>
<rect x="421.9" y="83.3" width="0.8" height="0.8" fill="#a8a8a8" opacity="0.22"/>
<rect x="434.2" y="91.4" width="0.8" height="0.8" fill="#a8a8a8" opacity="0.45"/>
<rect x="472.1" y="87.6" width="0.8" height="0.8" fill="#a8a8a8" opacity="0.34"/>
<rect x="484.7" y="95.6" width="0.8" height="0.8" fill="#a8a8a8" opacity="0.57"/>
<rect x="452.5" y="87.8" width="0.8" height="0.8" fill="#a8a8a8" opacity="0.34"/>
<rect x="503.7" y="89.7" width="0.8" height="0.8" fill="#a8a8a8" opacity="0.40"/>
<rect x="487.2" y="88.3" width="0.8" height="0.8" fill="#a8a8a8" opacity="0.36"/>
<rect x="421.4" y="95.8" width="0.8" height="0.8" fill="#a8a8a8" opacity="0.57"/>
<rect x="429.4" y="98.0" width="0.8" height="0.8" fill="#a8a8a8" opacity="0.64"/>
<rect x="451.5" y="87.4" width="0.8" height="0.8" fill="#a8a8a8" opacity="0.33"/>
<rect x="421.6" y="91.4" width="0.8" height="0.8" fill="#a8a8a8" opacity="0.45"/>
<rect x="470.2" y="98.0" width="0.8" height="0.8" fill="#a8a8a8" opacity="0.63"/>
<rect x="413.1" y="91.0" width="0.8" height="0.8" fill="#a8a8a8" opacity="0.44"/>
<rect x="420.4" y="98.2" width="0.8" height="0.8" fill="#a8a8a8" opacity="0.64"/>
<rect x="412.6" y="84.0" width="0.8" height="0.8" fill="#a8a8a8" opacity="0.23"/>
<rect x="403.6" y="91.0" width="0.8" height="0.8" fill="#a8a8a8" opacity="0.44"/>
<rect x="495.8" y="97.2" width="0.8" height="0.8" fill="#a8a8a8" opacity="0.61"/>
<rect x="477.6" y="98.5" width="0.8" height="0.8" fill="#a8a8a8" opacity="0.65"/>
<rect x="499.5" y="90.0" width="0.8" height="0.8" fill="#a8a8a8" opacity="0.41"/>
<rect x="417.4" y="97.8" width="0.8" height="0.8" fill="#a8a8a8" opacity="0.63"/>
<rect x="479.1" y="83.2" width="0.8" height="0.8" fill="#a8a8a8" opacity="0.21"/>
<rect x="470.1" y="90.8" width="0.8" height="0.8" fill="#a8a8a8" opacity="0.43"/>
<rect x="438.1" y="90.0" width="0.8" height="0.8" fill="#a8a8a8" opacity="0.41"/>
<rect x="415.6" y="81.5" width="0.8" height="0.8" fill="#a8a8a8" opacity="0.16"/>
<rect x="427.8" y="90.3" width="0.8" height="0.8" fill="#a8a8a8" opacity="0.42"/>
<rect x="502.1" y="86.0" width="0.8" height="0.8" fill="#a8a8a8" opacity="0.29"/>
<rect x="503.1" y="87.8" width="0.8" height="0.8" fill="#a8a8a8" opacity="0.34"/>
<rect x="436.2" y="96.6" width="0.8" height="0.8" fill="#a8a8a8" opacity="0.59"/>
<rect x="487.4" y="91.6" width="0.8" height="0.8" fill="#a8a8a8" opacity="0.45"/>
<rect x="402.4" y="92.2" width="0.8" height="0.8" fill="#a8a8a8" opacity="0.47"/>
<rect x="438.0" y="97.6" width="0.8" height="0.8" fill="#a8a8a8" opacity="0.63"/>
<rect x="418.2" y="90.5" width="0.8" height="0.8" fill="#a8a8a8" opacity="0.42"/>
<rect x="495.7" y="83.1" width="0.8" height="0.8" fill="#a8a8a8" opacity="0.21"/>
<rect x="442.2" y="96.4" width="0.8" height="0.8" fill="#a8a8a8" opacity="0.59"/>
<rect x="481.3" y="83.6" width="0.8" height="0.8" fill="#a8a8a8" opacity="0.22"/>
<rect x="400.8" y="84.3" width="0.8" height="0.8" fill="#a8a8a8" opacity="0.24"/>
<rect x="498.2" y="88.7" width="0.8" height="0.8" fill="#a8a8a8" opacity="0.37"/>
<rect x="479.2" y="97.4" width="0.8" height="0.8" fill="#a8a8a8" opacity="0.62"/>
<rect x="434.3" y="89.0" width="0.8" height="0.8" fill="#a8a8a8" opacity="0.38"/>
<rect x="502.3" y="94.1" width="0.8" height="0.8" fill="#a8a8a8" opacity="0.52"/>
<rect x="425.8" y="95.3" width="0.8" height="0.8" fill="#a8a8a8" opacity="0.56"/>
<rect x="431.8" y="89.1" width="0.8" height="0.8" fill="#a8a8a8" opacity="0.38"/>
<rect x="397.4" y="95.8" width="0.8" height="0.8" fill="#a8a8a8" opacity="0.57"/>
<rect x="497.8" y="94.3" width="0.8" height="0.8" fill="#a8a8a8" opacity="0.53"/>
<rect x="500.8" y="82.9" width="0.8" height="0.8" fill="#a8a8a8" opacity="0.20"/>
<rect x="422.7" y="92.2" width="0.8" height="0.8" fill="#a8a8a8" opacity="0.47"/>
<rect x="502.2" y="98.0" width="0.8" height="0.8" fill="#a8a8a8" opacity="0.64"/>
<rect x="439.5" y="88.6" width="0.8" height="0.8" fill="#a8a8a8" opacity="0.37"/>
<rect x="444.3" y="92.5" width="0.8" height="0.8" fill="#a8a8a8" opacity="0.48"/>
<rect x="499.1" y="87.3" width="0.8" height="0.8" fill="#a8a8a8" opacity="0.33"/>
<rect x="485.3" y="95.6" width="0.8" height="0.8" fill="#a8a8a8" opacity="0.57"/>
<rect x="487.5" y="96.0" width="0.8" height="0.8" fill="#a8a8a8" opacity="0.58"/>
<rect x="463.8" y="90.0" width="0.8" height="0.8" fill="#a8a8a8" opacity="0.41"/>
<rect x="432.2" y="90.5" width="0.8" height="0.8" fill="#a8a8a8" opacity="0.42"/>
<rect x="483.0" y="84.8" width="0.8" height="0.8" fill="#a8a8a8" opacity="0.26"/>
<rect x="418.7" y="95.8" width="0.8" height="0.8" fill="#a8a8a8" opacity="0.57"/>
<rect x="424.2" y="84.4" width="0.8" height="0.8" fill="#a8a8a8" opacity="0.25"/>
<rect x="400.7" y="93.3" width="0.8" height="0.8" fill="#a8a8a8" opacity="0.50"/>
<rect x="432.8" y="98.3" width="0.8" height="0.8" fill="#a8a8a8" opacity="0.64"/>
<rect x="494.2" y="98.4" width="0.8" height="0.8" fill="#a8a8a8" opacity="0.65"/>
<rect x="426.1" y="85.0" width="0.8" height="0.8" fill="#a8a8a8" opacity="0.26"/>
<rect x="407.6" y="92.5" width="0.8" height="0.8" fill="#a8a8a8" opacity="0.48"/>
<rect x="475.1" y="91.8" width="0.8" height="0.8" fill="#a8a8a8" opacity="0.46"/>
<rect x="422.8" y="91.4" width="0.8" height="0.8" fill="#a8a8a8" opacity="0.45"/>
<rect x="465.2" y="94.8" width="0.8" height="0.8" fill="#a8a8a8" opacity="0.54"/>
<rect x="479.3" y="96.8" width="0.8" height="0.8" fill="#a8a8a8" opacity="0.60"/>
<rect x="470.1" y="85.9" width="0.8" height="0.8" fill="#a8a8a8" opacity="0.29"/>
<rect x="489.5" y="89.4" width="0.8" height="0.8" fill="#a8a8a8" opacity="0.39"/>
<rect x="459.4" y="90.7" width="0.8" height="0.8" fill="#a8a8a8" opacity="0.43"/>
<rect x="478.2" y="87.6" width="0.8" height="0.8" fill="#a8a8a8" opacity="0.34"/>
<rect x="424.2" y="88.5" width="0.8" height="0.8" fill="#a8a8a8" opacity="0.37"/>
<rect x="413.9" y="97.3" width="0.8" height="0.8" fill="#a8a8a8" opacity="0.61"/>
<rect x="460.6" y="89.9" width="0.8" height="0.8" fill="#a8a8a8" opacity="0.41"/>
<rect x="440.6" y="98.4" width="0.8" height="0.8" fill="#a8a8a8" opacity="0.65"/>
<rect x="452.8" y="88.3" width="0.8" height="0.8" fill="#a8a8a8" opacity="0.36"/>
<rect x="485.9" y="94.6" width="0.8" height="0.8" fill="#a8a8a8" opacity="0.54"/>
<rect x="506.0" y="85.5" width="0.8" height="0.8" fill="#a8a8a8" opacity="0.28"/>
<rect x="449.2" y="96.5" width="0.8" height="0.8" fill="#a8a8a8" opacity="0.59"/>
<rect x="489.5" y="97.6" width="0.8" height="0.8" fill="#a8a8a8" opacity="0.62"/>
<rect x="401.4" y="89.4" width="0.8" height="0.8" fill="#a8a8a8" opacity="0.39"/>
<rect x="410.1" y="87.5" width="0.8" height="0.8" fill="#a8a8a8" opacity="0.33"/>
<rect x="504.0" y="93.7" width="0.8" height="0.8" fill="#a8a8a8" opacity="0.51"/>
<rect x="499.3" y="90.7" width="0.8" height="0.8" fill="#a8a8a8" opacity="0.43"/>
<rect x="492.3" y="91.8" width="0.8" height="0.8" fill="#a8a8a8" opacity="0.46"/>
<rect x="425.6" y="96.1" width="0.8" height="0.8" fill="#a8a8a8" opacity="0.58"/>
<rect x="501.0" y="85.5" width="0.8" height="0.8" fill="#a8a8a8" opacity="0.28"/>
<rect x="462.6" y="94.1" width="0.8" height="0.8" fill="#a8a8a8" opacity="0.53"/>
<rect x="420.9" y="90.6" width="0.8" height="0.8" fill="#a8a8a8" opacity="0.42"/>
<rect x="412.6" y="87.7" width="0.8" height="0.8" fill="#a8a8a8" opacity="0.34"/>
<rect x="425.0" y="93.9" width="0.8" height="0.8" fill="#a8a8a8" opacity="0.52"/>
<rect x="468.7" y="87.7" width="0.8" height="0.8" fill="#a8a8a8" opacity="0.34"/>
<rect x="398.3" y="90.0" width="0.8" height="0.8" fill="#a8a8a8" opacity="0.41"/>
<rect x="471.6" y="87.4" width="0.8" height="0.8" fill="#a8a8a8" opacity="0.33"/>
<rect x="431.3" y="87.7" width="0.8" height="0.8" fill="#a8a8a8" opacity="0.34"/>
<rect x="484.5" y="93.2" width="0.8" height="0.8" fill="#a8a8a8" opacity="0.50"/>
<rect x="404.0" y="85.4" width="0.8" height="0.8" fill="#a8a8a8" opacity="0.28"/>
<rect x="440.5" y="93.2" width="0.8" height="0.8" fill="#a8a8a8" opacity="0.50"/>
<rect x="467.3" y="85.2" width="0.8" height="0.8" fill="#a8a8a8" opacity="0.27"/>
<rect x="415.0" y="95.1" width="0.8" height="0.8" fill="#a8a8a8" opacity="0.55"/>
<rect x="442.1" y="89.2" width="0.8" height="0.8" fill="#a8a8a8" opacity="0.38"/>
<rect x="430.8" y="98.0" width="0.8" height="0.8" fill="#a8a8a8" opacity="0.64"/>
<rect x="431.4" y="93.4" width="0.8" height="0.8" fill="#a8a8a8" opacity="0.51"/>
<rect x="436.3" y="91.3" width="0.8" height="0.8" fill="#a8a8a8" opacity="0.45"/>
<rect x="492.1" y="98.5" width="0.8" height="0.8" fill="#a8a8a8" opacity="0.65"/>
<rect x="437.0" y="87.6" width="0.8" height="0.8" fill="#a8a8a8" opacity="0.34"/>
<rect x="477.1" y="87.7" width="0.8" height="0.8" fill="#a8a8a8" opacity="0.34"/>
<rect x="397.6" y="97.4" width="0.8" height="0.8" fill="#a8a8a8" opacity="0.62"/>
<rect x="443.6" y="96.5" width="0.8" height="0.8" fill="#a8a8a8" opacity="0.59"/>
<rect x="441.7" y="97.2" width="0.8" height="0.8" fill="#a8a8a8" opacity="0.61"/>
<rect x="447.7" y="86.9" width="0.8" height="0.8" fill="#a8a8a8" opacity="0.32"/>
<rect x="398.6" y="93.2" width="0.8" height="0.8" fill="#a8a8a8" opacity="0.50"/>
<rect x="467.5" y="97.5" width="0.8" height="0.8" fill="#a8a8a8" opacity="0.62"/>
<rect x="406.8" y="94.2" width="0.8" height="0.8" fill="#a8a8a8" opacity="0.53"/>
<rect x="437.8" y="92.6" width="0.8" height="0.8" fill="#a8a8a8" opacity="0.48"/>
<rect x="413.0" y="89.2" width="0.8" height="0.8" fill="#a8a8a8" opacity="0.38"/>
<rect x="454.3" y="97.7" width="0.8" height="0.8" fill="#a8a8a8" opacity="0.63"/>
<rect x="409.0" y="92.4" width="0.8" height="0.8" fill="#a8a8a8" opacity="0.48"/>
<rect x="485.5" y="98.1" width="0.8" height="0.8" fill="#a8a8a8" opacity="0.64"/>
<rect x="418.7" y="86.1" width="0.8" height="0.8" fill="#a8a8a8" opacity="0.29"/>
<rect x="500.7" y="98.2" width="0.8" height="0.8" fill="#a8a8a8" opacity="0.64"/>
<rect x="450.1" y="84.0" width="0.8" height="0.8" fill="#a8a8a8" opacity="0.24"/>
<rect x="498.9" y="90.9" width="0.8" height="0.8" fill="#a8a8a8" opacity="0.43"/>
<rect x="496.5" y="94.1" width="0.8" height="0.8" fill="#a8a8a8" opacity="0.53"/>
<rect x="487.7" y="86.8" width="0.8" height="0.8" fill="#a8a8a8" opacity="0.32"/>
<rect x="483.4" y="88.1" width="0.8" height="0.8" fill="#a8a8a8" opacity="0.35"/>
<rect x="441.5" y="96.8" width="0.8" height="0.8" fill="#a8a8a8" opacity="0.60"/>
<rect x="488.2" y="87.3" width="0.8" height="0.8" fill="#a8a8a8" opacity="0.33"/>
<rect x="421.0" y="91.1" width="0.8" height="0.8" fill="#a8a8a8" opacity="0.44"/>
<rect x="454.0" y="90.8" width="0.8" height="0.8" fill="#a8a8a8" opacity="0.43"/>
<rect x="410.5" y="88.6" width="0.8" height="0.8" fill="#a8a8a8" opacity="0.37"/>
<rect x="476.7" y="97.4" width="0.8" height="0.8" fill="#a8a8a8" opacity="0.62"/>
<rect x="401.5" y="93.4" width="0.8" height="0.8" fill="#a8a8a8" opacity="0.50"/>
<rect x="480.3" y="83.5" width="0.8" height="0.8" fill="#a8a8a8" opacity="0.22"/>
<rect x="489.2" y="85.8" width="0.8" height="0.8" fill="#a8a8a8" opacity="0.29"/>
<rect x="462.9" y="93.2" width="0.8" height="0.8" fill="#a8a8a8" opacity="0.50"/>
<rect x="466.0" y="89.6" width="0.8" height="0.8" fill="#a8a8a8" opacity="0.40"/>
<rect x="443.2" y="93.7" width="0.8" height="0.8" fill="#a8a8a8" opacity="0.51"/>
<rect x="443.8" y="94.6" width="0.8" height="0.8" fill="#a8a8a8" opacity="0.54"/>
<rect x="446.1" y="91.7" width="0.8" height="0.8" fill="#a8a8a8" opacity="0.45"/>
<rect x="399.6" y="94.1" width="0.8" height="0.8" fill="#a8a8a8" opacity="0.52"/>
<rect x="450.8" y="88.3" width="0.8" height="0.8" fill="#a8a8a8" opacity="0.36"/>
<rect x="481.0" y="96.1" width="0.8" height="0.8" fill="#a8a8a8" opacity="0.58"/>
<rect x="447.4" y="87.2" width="0.8" height="0.8" fill="#a8a8a8" opacity="0.33"/>
<rect x="449.1" y="85.6" width="0.8" height="0.8" fill="#a8a8a8" opacity="0.28"/>
<rect x="411.1" y="91.6" width="0.8" height="0.8" fill="#a8a8a8" opacity="0.45"/>
<rect x="407.1" y="91.7" width="0.8" height="0.8" fill="#a8a8a8" opacity="0.46"/>
<rect x="453.1" y="83.6" width="0.8" height="0.8" fill="#a8a8a8" opacity="0.22"/>
<rect x="467.0" y="84.9" width="0.8" height="0.8" fill="#a8a8a8" opacity="0.26"/>
<rect x="477.7" y="96.0" width="0.8" height="0.8" fill="#a8a8a8" opacity="0.58"/>
<rect x="453.3" y="84.0" width="0.8" height="0.8" fill="#a8a8a8" opacity="0.24"/>
<rect x="452.4" y="90.8" width="0.8" height="0.8" fill="#a8a8a8" opacity="0.43"/>
<rect x="501.6" y="86.3" width="0.8" height="0.8" fill="#a8a8a8" opacity="0.30"/>
<rect x="491.3" y="98.5" width="0.8" height="0.8" fill="#a8a8a8" opacity="0.65"/>
<rect x="477.5" y="96.5" width="0.8" height="0.8" fill="#a8a8a8" opacity="0.59"/>
<rect x="418.3" y="98.3" width="0.8" height="0.8" fill="#a8a8a8" opacity="0.64"/>
<rect x="451.1" y="98.0" width="0.8" height="0.8" fill="#a8a8a8" opacity="0.64"/>
<rect x="497.8" y="86.9" width="0.8" height="0.8" fill="#a8a8a8" opacity="0.32"/>
<rect x="483.7" y="97.8" width="0.8" height="0.8" fill="#a8a8a8" opacity="0.63"/>
<rect x="404.2" y="90.3" width="0.8" height="0.8" fill="#a8a8a8" opacity="0.42"/>
<rect x="480.2" y="86.8" width="0.8" height="0.8" fill="#a8a8a8" opacity="0.32"/>
<rect x="495.6" y="89.1" width="0.8" height="0.8" fill="#a8a8a8" opacity="0.38"/>
<rect x="486.7" y="86.5" width="0.8" height="0.8" fill="#a8a8a8" opacity="0.31"/>
<rect x="452.2" y="97.6" width="0.8" height="0.8" fill="#a8a8a8" opacity="0.63"/>
<rect x="419.9" y="88.9" width="0.8" height="0.8" fill="#a8a8a8" opacity="0.37"/>
<rect x="452.7" y="89.8" width="0.8" height="0.8" fill="#a8a8a8" opacity="0.40"/>
<rect x="401.1" y="87.3" width="0.8" height="0.8" fill="#a8a8a8" opacity="0.33"/>
<rect x="414.7" y="97.8" width="0.8" height="0.8" fill="#a8a8a8" opacity="0.63"/>
<rect x="471.8" y="97.4" width="0.8" height="0.8" fill="#a8a8a8" opacity="0.62"/>
<rect x="415.6" y="96.1" width="0.8" height="0.8" fill="#a8a8a8" opacity="0.58"/>
<rect x="409.7" y="93.0" width="0.8" height="0.8" fill="#a8a8a8" opacity="0.49"/>
<rect x="467.0" y="90.5" width="0.8" height="0.8" fill="#a8a8a8" opacity="0.42"/>
<rect x="493.0" y="99.8" width="0.8" height="0.8" fill="#eeeeee" opacity="0.7"/>
<rect x="460.8" y="104.4" width="0.8" height="0.8" fill="#eeeeee" opacity="0.7"/>
<rect x="408.5" y="105.9" width="0.8" height="0.8" fill="#eeeeee" opacity="0.7"/>
<rect x="466.3" y="97.5" width="0.8" height="0.8" fill="#eeeeee" opacity="0.7"/>
<rect x="484.7" y="95.7" width="0.8" height="0.8" fill="#eeeeee" opacity="0.7"/>
<rect x="506.0" y="100.1" width="0.8" height="0.8" fill="#eeeeee" opacity="0.7"/>
<rect x="436.6" y="102.7" width="0.8" height="0.8" fill="#eeeeee" opacity="0.7"/>
<rect x="445.7" y="94.5" width="0.8" height="0.8" fill="#eeeeee" opacity="0.7"/>
<rect x="478.8" y="92.7" width="0.8" height="0.8" fill="#eeeeee" opacity="0.7"/>
<rect x="487.2" y="95.6" width="0.8" height="0.8" fill="#eeeeee" opacity="0.7"/>
<rect x="467.3" y="105.8" width="0.8" height="0.8" fill="#eeeeee" opacity="0.7"/>
<rect x="461.4" y="101.3" width="0.8" height="0.8" fill="#eeeeee" opacity="0.7"/>
<rect x="431.4" y="92.0" width="0.8" height="0.8" fill="#eeeeee" opacity="0.7"/>
<rect x="400.7" y="94.1" width="0.8" height="0.8" fill="#eeeeee" opacity="0.7"/>
<rect x="464.8" y="98.1" width="0.8" height="0.8" fill="#eeeeee" opacity="0.7"/>
<rect x="453.4" y="104.5" width="0.8" height="0.8" fill="#eeeeee" opacity="0.7"/>
<rect x="411.5" y="95.2" width="0.8" height="0.8" fill="#eeeeee" opacity="0.7"/>
<rect x="468.8" y="92.3" width="0.8" height="0.8" fill="#eeeeee" opacity="0.7"/>
<rect x="397.3" y="97.0" width="0.8" height="0.8" fill="#eeeeee" opacity="0.7"/>
<rect x="408.7" y="97.0" width="0.8" height="0.8" fill="#eeeeee" opacity="0.7"/>
<rect x="421.7" y="100.2" width="0.8" height="0.8" fill="#eeeeee" opacity="0.7"/>
<rect x="461.8" y="94.9" width="0.8" height="0.8" fill="#eeeeee" opacity="0.7"/>
<rect x="465.6" y="98.6" width="0.8" height="0.8" fill="#eeeeee" opacity="0.7"/>
<rect x="411.8" y="105.1" width="0.8" height="0.8" fill="#eeeeee" opacity="0.7"/>
<rect x="423.8" y="94.1" width="0.8" height="0.8" fill="#eeeeee" opacity="0.7"/>
<rect x="407.5" y="100.9" width="0.8" height="0.8" fill="#eeeeee" opacity="0.7"/>
<rect x="492.8" y="103.0" width="0.8" height="0.8" fill="#eeeeee" opacity="0.7"/>
<rect x="441.2" y="95.7" width="0.8" height="0.8" fill="#eeeeee" opacity="0.7"/>
<rect x="398.3" y="101.0" width="0.8" height="0.8" fill="#eeeeee" opacity="0.7"/>
<rect x="458.9" y="96.9" width="0.8" height="0.8" fill="#eeeeee" opacity="0.7"/>
<rect x="468.0" y="98.2" width="0.8" height="0.8" fill="#eeeeee" opacity="0.7"/>
<rect x="500.1" y="102.3" width="0.8" height="0.8" fill="#eeeeee" opacity="0.7"/>
<rect x="424.3" y="104.6" width="0.8" height="0.8" fill="#eeeeee" opacity="0.7"/>
<rect x="401.8" y="99.4" width="0.8" height="0.8" fill="#eeeeee" opacity="0.7"/>
<rect x="441.7" y="95.3" width="0.8" height="0.8" fill="#eeeeee" opacity="0.7"/>
<rect x="403.4" y="102.9" width="0.8" height="0.8" fill="#eeeeee" opacity="0.7"/>
<rect x="398.4" y="99.7" width="0.8" height="0.8" fill="#eeeeee" opacity="0.7"/>
<rect x="500.5" y="94.0" width="0.8" height="0.8" fill="#eeeeee" opacity="0.7"/>
<rect x="418.9" y="100.5" width="0.8" height="0.8" fill="#eeeeee" opacity="0.7"/>
<rect x="452.8" y="101.0" width="0.8" height="0.8" fill="#eeeeee" opacity="0.7"/>
<rect x="486.5" y="94.4" width="0.8" height="0.8" fill="#eeeeee" opacity="0.7"/>
<rect x="431.0" y="96.2" width="0.8" height="0.8" fill="#eeeeee" opacity="0.7"/>
<rect x="402.3" y="104.5" width="0.8" height="0.8" fill="#eeeeee" opacity="0.7"/>
<rect x="483.1" y="102.0" width="0.8" height="0.8" fill="#eeeeee" opacity="0.7"/>
<rect x="397.7" y="103.8" width="0.8" height="0.8" fill="#eeeeee" opacity="0.7"/>
<rect x="479.0" y="98.5" width="0.8" height="0.8" fill="#eeeeee" opacity="0.7"/>
<rect x="478.6" y="98.3" width="0.8" height="0.8" fill="#eeeeee" opacity="0.7"/>
<rect x="421.9" y="93.5" width="0.8" height="0.8" fill="#eeeeee" opacity="0.7"/>
<rect x="422.6" y="92.5" width="0.8" height="0.8" fill="#eeeeee" opacity="0.7"/>
<rect x="433.9" y="102.5" width="0.8" height="0.8" fill="#eeeeee" opacity="0.7"/>
<rect x="473.5" y="103.8" width="0.8" height="0.8" fill="#eeeeee" opacity="0.7"/>
<rect x="475.3" y="95.7" width="0.8" height="0.8" fill="#eeeeee" opacity="0.7"/>
<rect x="457.9" y="98.1" width="0.8" height="0.8" fill="#eeeeee" opacity="0.7"/>
<rect x="483.7" y="99.3" width="0.8" height="0.8" fill="#eeeeee" opacity="0.7"/>
<rect x="426.2" y="101.0" width="0.8" height="0.8" fill="#eeeeee" opacity="0.7"/>
<rect x="503.2" y="95.0" width="0.8" height="0.8" fill="#eeeeee" opacity="0.7"/>
<rect x="493.8" y="92.2" width="0.8" height="0.8" fill="#eeeeee" opacity="0.7"/>
<rect x="425.6" y="95.3" width="0.8" height="0.8" fill="#eeeeee" opacity="0.7"/>
<rect x="478.8" y="105.2" width="0.8" height="0.8" fill="#eeeeee" opacity="0.7"/>
<rect x="479.1" y="96.6" width="0.8" height="0.8" fill="#eeeeee" opacity="0.7"/>
<rect x="493.8" y="96.6" width="0.8" height="0.8" fill="#eeeeee" opacity="0.7"/>
<rect x="423.3" y="104.7" width="0.8" height="0.8" fill="#eeeeee" opacity="0.7"/>
<rect x="466.4" y="101.7" width="0.8" height="0.8" fill="#eeeeee" opacity="0.7"/>
<rect x="470.2" y="105.7" width="0.8" height="0.8" fill="#eeeeee" opacity="0.7"/>
<rect x="448.6" y="103.8" width="0.8" height="0.8" fill="#eeeeee" opacity="0.7"/>
<rect x="473.7" y="104.0" width="0.8" height="0.8" fill="#eeeeee" opacity="0.7"/>
<rect x="445.1" y="102.1" width="0.8" height="0.8" fill="#eeeeee" opacity="0.7"/>
<rect x="459.7" y="96.3" width="0.8" height="0.8" fill="#eeeeee" opacity="0.7"/>
<rect x="420.3" y="100.7" width="0.8" height="0.8" fill="#eeeeee" opacity="0.7"/>
<rect x="405.6" y="104.8" width="0.8" height="0.8" fill="#eeeeee" opacity="0.7"/>
<rect x="412.9" y="92.4" width="0.8" height="0.8" fill="#eeeeee" opacity="0.7"/>
<rect x="408.7" y="105.0" width="0.8" height="0.8" fill="#eeeeee" opacity="0.7"/>
<rect x="434.9" y="94.0" width="0.8" height="0.8" fill="#eeeeee" opacity="0.7"/>
<rect x="400.2" y="92.6" width="0.8" height="0.8" fill="#eeeeee" opacity="0.7"/>
<rect x="473.2" y="100.9" width="0.8" height="0.8" fill="#eeeeee" opacity="0.7"/>
<rect x="473.7" y="102.3" width="0.8" height="0.8" fill="#eeeeee" opacity="0.7"/>
<rect x="404.2" y="100.3" width="0.8" height="0.8" fill="#eeeeee" opacity="0.7"/>
<rect x="437.0" y="103.4" width="0.8" height="0.8" fill="#eeeeee" opacity="0.7"/>
<rect x="487.2" y="104.5" width="0.8" height="0.8" fill="#eeeeee" opacity="0.7"/>
<rect x="404.3" y="104.1" width="0.8" height="0.8" fill="#eeeeee" opacity="0.7"/>
<rect x="497.6" y="105.2" width="0.8" height="0.8" fill="#eeeeee" opacity="0.7"/>
<rect x="408.8" y="94.9" width="0.8" height="0.8" fill="#eeeeee" opacity="0.7"/>
<rect x="409.3" y="92.5" width="0.8" height="0.8" fill="#eeeeee" opacity="0.7"/>
<rect x="490.2" y="103.4" width="0.8" height="0.8" fill="#eeeeee" opacity="0.7"/>
<rect x="466.8" y="103.6" width="0.8" height="0.8" fill="#eeeeee" opacity="0.7"/>
<rect x="466.5" y="96.0" width="0.8" height="0.8" fill="#eeeeee" opacity="0.7"/>
<rect x="408.0" y="93.4" width="0.8" height="0.8" fill="#eeeeee" opacity="0.7"/>
<rect x="480.3" y="94.9" width="0.8" height="0.8" fill="#eeeeee" opacity="0.7"/>
<rect x="432.1" y="97.9" width="0.8" height="0.8" fill="#eeeeee" opacity="0.7"/>
<rect x="399.3" y="95.6" width="0.8" height="0.8" fill="#eeeeee" opacity="0.7"/>
<rect x="428.1" y="102.0" width="0.8" height="0.8" fill="#eeeeee" opacity="0.7"/>
<rect x="437.5" y="96.5" width="0.8" height="0.8" fill="#eeeeee" opacity="0.7"/>
<rect x="503.0" y="99.1" width="0.8" height="0.8" fill="#eeeeee" opacity="0.7"/>
<rect x="490.7" y="100.7" width="0.8" height="0.8" fill="#eeeeee" opacity="0.7"/>
<rect x="400.4" y="97.8" width="0.8" height="0.8" fill="#eeeeee" opacity="0.7"/>
<rect x="445.0" y="102.8" width="0.8" height="0.8" fill="#eeeeee" opacity="0.7"/>
<rect x="435.1" y="101.9" width="0.8" height="0.8" fill="#eeeeee" opacity="0.7"/>
<rect x="456.2" y="95.0" width="0.8" height="0.8" fill="#eeeeee" opacity="0.7"/>
<rect x="491.8" y="93.3" width="0.8" height="0.8" fill="#eeeeee" opacity="0.7"/>
<rect x="487.2" y="94.4" width="0.8" height="0.8" fill="#eeeeee" opacity="0.7"/>
<rect x="397.1" y="94.8" width="0.8" height="0.8" fill="#eeeeee" opacity="0.7"/>
<rect x="480.8" y="105.7" width="0.8" height="0.8" fill="#eeeeee" opacity="0.7"/>
<rect x="397.5" y="98.9" width="0.8" height="0.8" fill="#eeeeee" opacity="0.7"/>
<rect x="451.1" y="103.2" width="0.8" height="0.8" fill="#eeeeee" opacity="0.7"/>
<rect x="417.3" y="98.9" width="0.8" height="0.8" fill="#eeeeee" opacity="0.7"/>
<rect x="435.2" y="103.6" width="0.8" height="0.8" fill="#eeeeee" opacity="0.7"/>
<rect x="425.7" y="105.2" width="0.8" height="0.8" fill="#eeeeee" opacity="0.7"/>
<rect x="428.2" y="95.0" width="0.8" height="0.8" fill="#eeeeee" opacity="0.7"/>
<rect x="473.9" y="99.0" width="0.8" height="0.8" fill="#eeeeee" opacity="0.7"/>
<rect x="409.1" y="100.9" width="0.8" height="0.8" fill="#eeeeee" opacity="0.7"/>
<rect x="405.9" y="103.0" width="0.8" height="0.8" fill="#eeeeee" opacity="0.7"/>
<rect x="473.7" y="103.0" width="0.8" height="0.8" fill="#eeeeee" opacity="0.7"/>
<rect x="466.1" y="97.0" width="0.8" height="0.8" fill="#eeeeee" opacity="0.7"/>
<rect x="441.1" y="97.5" width="0.8" height="0.8" fill="#eeeeee" opacity="0.7"/>
<rect x="494.9" y="93.2" width="0.8" height="0.8" fill="#eeeeee" opacity="0.7"/>
<rect x="494.7" y="92.4" width="0.8" height="0.8" fill="#eeeeee" opacity="0.7"/>
<rect x="419.7" y="95.7" width="0.8" height="0.8" fill="#eeeeee" opacity="0.7"/>
<rect x="496.1" y="99.0" width="0.8" height="0.8" fill="#eeeeee" opacity="0.7"/>
<rect x="438.7" y="104.4" width="0.8" height="0.8" fill="#eeeeee" opacity="0.7"/>
<rect x="422.7" y="98.5" width="0.8" height="0.8" fill="#eeeeee" opacity="0.7"/>
<rect x="455.5" y="102.6" width="0.8" height="0.8" fill="#eeeeee" opacity="0.7"/>
<rect x="479.8" y="101.0" width="0.8" height="0.8" fill="#eeeeee" opacity="0.7"/>
<rect x="435.3" y="96.6" width="0.8" height="0.8" fill="#eeeeee" opacity="0.7"/>
<rect x="414.1" y="103.8" width="0.8" height="0.8" fill="#eeeeee" opacity="0.7"/>
<rect x="469.8" y="102.4" width="0.8" height="0.8" fill="#eeeeee" opacity="0.7"/>
<rect x="415.7" y="98.1" width="0.8" height="0.8" fill="#eeeeee" opacity="0.7"/>
<rect x="482.1" y="100.1" width="0.8" height="0.8" fill="#eeeeee" opacity="0.7"/>
<rect x="410.9" y="98.5" width="0.8" height="0.8" fill="#eeeeee" opacity="0.7"/>
<rect x="494.4" y="95.3" width="0.8" height="0.8" fill="#eeeeee" opacity="0.7"/>
<rect x="418.1" y="96.2" width="0.8" height="0.8" fill="#eeeeee" opacity="0.7"/>
<rect x="474.3" y="103.8" width="0.8" height="0.8" fill="#eeeeee" opacity="0.7"/>
<rect x="414.0" y="94.2" width="0.8" height="0.8" fill="#eeeeee" opacity="0.7"/>
<rect x="424.2" y="96.6" width="0.8" height="0.8" fill="#eeeeee" opacity="0.7"/>
<rect x="454.4" y="94.3" width="0.8" height="0.8" fill="#eeeeee" opacity="0.7"/>
<rect x="433.1" y="94.6" width="0.8" height="0.8" fill="#eeeeee" opacity="0.7"/>
<rect x="504.3" y="102.2" width="0.8" height="0.8" fill="#eeeeee" opacity="0.7"/>
<rect x="408.2" y="105.5" width="0.8" height="0.8" fill="#eeeeee" opacity="0.7"/>
<rect x="408.2" y="97.4" width="0.8" height="0.8" fill="#eeeeee" opacity="0.7"/>
<rect x="505.2" y="103.1" width="0.8" height="0.8" fill="#eeeeee" opacity="0.7"/>
<rect x="477.7" y="98.1" width="0.8" height="0.8" fill="#eeeeee" opacity="0.7"/>
<rect x="418.6" y="100.9" width="0.8" height="0.8" fill="#eeeeee" opacity="0.7"/>
<rect x="408.8" y="94.9" width="0.8" height="0.8" fill="#eeeeee" opacity="0.7"/>
<rect x="439.7" y="92.5" width="0.8" height="0.8" fill="#eeeeee" opacity="0.7"/>
<rect x="440.9" y="103.1" width="0.8" height="0.8" fill="#eeeeee" opacity="0.7"/>
<rect x="473.3" y="99.0" width="0.8" height="0.8" fill="#eeeeee" opacity="0.7"/>
<rect x="466.6" y="98.5" width="0.8" height="0.8" fill="#eeeeee" opacity="0.7"/>
<rect x="412.6" y="100.5" width="0.8" height="0.8" fill="#eeeeee" opacity="0.7"/>
<rect x="441.5" y="102.4" width="0.8" height="0.8" fill="#eeeeee" opacity="0.7"/>
<rect x="496.9" y="98.0" width="0.8" height="0.8" fill="#eeeeee" opacity="0.7"/>
<rect x="460.1" y="102.5" width="0.8" height="0.8" fill="#eeeeee" opacity="0.7"/>
<rect x="443.3" y="95.2" width="0.8" height="0.8" fill="#eeeeee" opacity="0.7"/>
<rect x="476.4" y="104.3" width="0.8" height="0.8" fill="#eeeeee" opacity="0.7"/>
<rect x="482.1" y="101.8" width="0.8" height="0.8" fill="#eeeeee" opacity="0.7"/>
<rect x="490.8" y="101.5" width="0.8" height="0.8" fill="#eeeeee" opacity="0.7"/>
<rect x="467.6" y="98.4" width="0.8" height="0.8" fill="#eeeeee" opacity="0.7"/>
<rect x="431.4" y="100.8" width="0.8" height="0.8" fill="#eeeeee" opacity="0.7"/>
<rect x="407.8" y="97.9" width="0.8" height="0.8" fill="#eeeeee" opacity="0.7"/>
<rect x="483.1" y="102.0" width="0.8" height="0.8" fill="#eeeeee" opacity="0.7"/>
<rect x="466.3" y="95.5" width="0.8" height="0.8" fill="#eeeeee" opacity="0.7"/>
<rect x="443.6" y="98.4" width="0.8" height="0.8" fill="#eeeeee" opacity="0.7"/>
<rect x="393.80" y="16.00" width="116.80" height="92.60" fill="none" stroke="#1a1a1a" stroke-width="1.1"/>
<line x1="397.50" y1="108.60" x2="397.50" y2="111.90" stroke="#1a1a1a" stroke-width="0.9"/>
<text x="397.50" y="121.00" font-size="8.0" text-anchor="middle">0</text>
<line x1="424.80" y1="108.60" x2="424.80" y2="111.90" stroke="#1a1a1a" stroke-width="0.9"/>
<text x="424.80" y="121.00" font-size="8.0" text-anchor="middle">5000</text>
<line x1="460.50" y1="108.60" x2="460.50" y2="111.90" stroke="#1a1a1a" stroke-width="0.9"/>
<text x="460.50" y="121.00" font-size="8.0" text-anchor="middle">10000</text>
<line x1="501.30" y1="108.60" x2="501.30" y2="111.90" stroke="#1a1a1a" stroke-width="0.9"/>
<text x="501.30" y="121.00" font-size="8.0" text-anchor="middle">15000</text>
<text x="452.20" y="12.20" font-size="9.6" text-anchor="middle" textLength="119.60" lengthAdjust="spacingAndGlyphs">Genes with enriched sgRNAs</text>
<text x="390.70" y="63.70" font-size="9.8" text-anchor="middle" textLength="44.30" lengthAdjust="spacingAndGlyphs" transform="rotate(-90 390.70 63.70)">RRA score</text>
<text x="463.80" y="24.60" font-size="8.2" text-anchor="middle" textLength="23.00" lengthAdjust="spacingAndGlyphs">SPPL3</text>
<text x="439.85" y="42.40" font-size="8.2" text-anchor="middle" textLength="16.30" lengthAdjust="spacingAndGlyphs">JAK1</text>
<text x="470.55" y="46.30" font-size="8.2" text-anchor="middle" textLength="20.10" lengthAdjust="spacingAndGlyphs">CD19</text>
<text x="452.70" y="56.00" font-size="8.2" text-anchor="middle" textLength="16.80" lengthAdjust="spacingAndGlyphs">JAK2</text>
<text x="438.20" y="69.20" font-size="8.2" text-anchor="middle" textLength="19.00" lengthAdjust="spacingAndGlyphs">CD81</text>
<text x="468.10" y="65.40" font-size="8.2" text-anchor="middle" textLength="19.80" lengthAdjust="spacingAndGlyphs">STAT1</text>
<text x="498.25" y="60.80" font-size="8.2" text-anchor="middle" textLength="21.10" lengthAdjust="spacingAndGlyphs">ICAM1</text>
<text x="440.80" y="84.60" font-size="8.2" text-anchor="middle" textLength="20.60" lengthAdjust="spacingAndGlyphs">ITGA4</text>
<text x="471.25" y="96.60" font-size="8.2" text-anchor="middle" textLength="23.70" lengthAdjust="spacingAndGlyphs">CASP8</text>
<text x="497.70" y="93.10" font-size="8.2" text-anchor="middle" textLength="20.00" lengthAdjust="spacingAndGlyphs">CD58</text>
<circle cx="438.50" cy="45.40" r="0.70" fill="#6fc3c8"/>
<circle cx="458.50" cy="44.60" r="0.70" fill="#888"/>
<circle cx="451.00" cy="57.40" r="0.70" fill="#999"/>
<circle cx="437.70" cy="60.80" r="0.70" fill="#999"/>
<circle cx="462.30" cy="77.40" r="0.70" fill="#5cc8c0"/>
<circle cx="471.50" cy="79.00" r="0.70" fill="#e58aa0"/>
<circle cx="489.50" cy="70.00" r="0.70" fill="#aaa"/>
<circle cx="476.80" cy="75.80" r="0.70" fill="#aaa"/>
<circle cx="501.50" cy="75.60" r="0.70" fill="#aaa"/>
<circle cx="451.50" cy="18.00" r="0.70" fill="#bbb"/>
<line x1="460.00" y1="77.70" x2="456.03" y2="79.83" stroke="#111" stroke-width="1.2"/>
<path d="M453.30,81.30 L455.53,77.85 L457.41,81.34 Z" fill="#111"/>
<line x1="476.60" y1="75.40" x2="473.10" y2="70.09" stroke="#111" stroke-width="1.2"/>
<path d="M471.40,67.50 L475.03,69.42 L471.73,71.60 Z" fill="#111"/>
<line x1="472.30" y1="80.20" x2="472.72" y2="84.81" stroke="#111" stroke-width="1.2"/>
<path d="M473.00,87.90 L470.70,84.49 L474.65,84.14 Z" fill="#111"/>
<line x1="489.80" y1="69.80" x2="496.00" y2="64.76" stroke="#111" stroke-width="1.2"/>
<path d="M498.40,62.80 L496.86,66.61 L494.36,63.54 Z" fill="#111"/>
<line x1="501.50" y1="76.00" x2="501.50" y2="83.30" stroke="#111" stroke-width="1.2"/>
<path d="M501.50,86.40 L499.52,82.80 L503.48,82.80 Z" fill="#111"/>
<rect x="32.80" y="169.77" width="3.90" height="28.73" fill="#1e4f86"/>
<rect x="38.95" y="172.66" width="3.90" height="25.84" fill="#4cb85e"/>
<rect x="45.10" y="171.90" width="3.90" height="26.60" fill="#582a72"/>
<rect x="51.25" y="188.85" width="3.90" height="9.65" fill="#cc1a40"/>
<rect x="61.50" y="160.12" width="3.90" height="38.38" fill="#1e4f86"/>
<rect x="67.65" y="167.72" width="3.90" height="30.78" fill="#4cb85e"/>
<rect x="73.80" y="165.06" width="3.90" height="33.44" fill="#582a72"/>
<rect x="79.95" y="174.18" width="3.90" height="24.32" fill="#cc1a40"/>
<rect x="90.40" y="157.46" width="3.90" height="41.04" fill="#1e4f86"/>
<rect x="96.55" y="163.54" width="3.90" height="34.96" fill="#4cb85e"/>
<rect x="102.70" y="164.68" width="3.90" height="33.82" fill="#582a72"/>
<rect x="108.85" y="182.39" width="3.90" height="16.11" fill="#cc1a40"/>
<rect x="119.20" y="158.83" width="3.90" height="39.67" fill="#1e4f86"/>
<rect x="125.35" y="165.06" width="3.90" height="33.44" fill="#4cb85e"/>
<rect x="131.50" y="173.42" width="3.90" height="25.08" fill="#582a72"/>
<rect x="137.65" y="198.50" width="3.90" height="15.20" fill="#cc1a40"/>
<line x1="31.00" y1="149.40" x2="31.00" y2="232.60" stroke="#1a1a1a" stroke-width="1.1"/>
<line x1="30.50" y1="198.50" x2="143.50" y2="198.50" stroke="#1a1a1a" stroke-width="1.1"/>
<line x1="27.00" y1="152.90" x2="31.00" y2="152.90" stroke="#1a1a1a" stroke-width="1.0"/>
<text x="24.40" y="155.60" font-size="7.8" text-anchor="end">6</text>
<line x1="27.00" y1="168.10" x2="31.00" y2="168.10" stroke="#1a1a1a" stroke-width="1.0"/>
<text x="24.40" y="170.80" font-size="7.8" text-anchor="end">4</text>
<line x1="27.00" y1="183.30" x2="31.00" y2="183.30" stroke="#1a1a1a" stroke-width="1.0"/>
<text x="24.40" y="186.00" font-size="7.8" text-anchor="end">2</text>
<line x1="27.00" y1="198.50" x2="31.00" y2="198.50" stroke="#1a1a1a" stroke-width="1.0"/>
<text x="24.40" y="201.20" font-size="7.8" text-anchor="end">0</text>
<line x1="27.00" y1="213.70" x2="31.00" y2="213.70" stroke="#1a1a1a" stroke-width="1.0"/>
<text x="24.40" y="216.40" font-size="7.8" text-anchor="end">−2</text>
<line x1="27.00" y1="228.90" x2="31.00" y2="228.90" stroke="#1a1a1a" stroke-width="1.0"/>
<text x="24.40" y="231.60" font-size="7.8" text-anchor="end">−4</text>
<line x1="43.30" y1="198.50" x2="43.30" y2="202.40" stroke="#1a1a1a" stroke-width="1.0"/>
<text x="46.80" y="205.00" font-size="8.0" text-anchor="end" textLength="20.30" lengthAdjust="spacingAndGlyphs" transform="rotate(-90 46.80 205.00)">CD58</text>
<line x1="72.00" y1="198.50" x2="72.00" y2="202.40" stroke="#1a1a1a" stroke-width="1.0"/>
<text x="75.50" y="205.00" font-size="8.0" text-anchor="end" textLength="20.30" lengthAdjust="spacingAndGlyphs" transform="rotate(-90 75.50 205.00)">CD81</text>
<line x1="100.90" y1="198.50" x2="100.90" y2="202.40" stroke="#1a1a1a" stroke-width="1.0"/>
<text x="104.40" y="205.00" font-size="8.0" text-anchor="end" textLength="23.50" lengthAdjust="spacingAndGlyphs" transform="rotate(-90 104.40 205.00)">ICAM1</text>
<line x1="129.70" y1="198.50" x2="129.70" y2="202.40" stroke="#1a1a1a" stroke-width="1.0"/>
<text x="133.20" y="205.00" font-size="8.0" text-anchor="end" textLength="22.50" lengthAdjust="spacingAndGlyphs" transform="rotate(-90 133.20 205.00)">ITGA4</text>
<text x="8.60" y="190.00" font-size="7.4" text-anchor="middle" textLength="52.00" lengthAdjust="spacingAndGlyphs" transform="rotate(-90 8.60 190.00)" class="th">Log<tspan font-size="5.0" dy="1.8">2</tspan><tspan dy="-1.8"> sgRNA count</tspan></text>
<rect x="40.70" y="236.20" width="5.00" height="5.00" fill="#1e4f86"/>
<text x="49.60" y="241.40" font-size="7.4" text-anchor="start" textLength="28.40" lengthAdjust="spacingAndGlyphs">sgRNA-1</text>
<rect x="86.30" y="236.20" width="5.00" height="5.00" fill="#4cb85e"/>
<text x="95.20" y="241.40" font-size="7.4" text-anchor="start" textLength="28.40" lengthAdjust="spacingAndGlyphs">sgRNA-2</text>
<rect x="40.70" y="246.50" width="5.00" height="5.00" fill="#582a72"/>
<text x="49.60" y="251.70" font-size="7.4" text-anchor="start" textLength="28.40" lengthAdjust="spacingAndGlyphs">sgRNA-3</text>
<rect x="86.30" y="246.50" width="5.00" height="5.00" fill="#cc1a40"/>
<text x="95.20" y="251.70" font-size="7.4" text-anchor="start" textLength="28.40" lengthAdjust="spacingAndGlyphs">sgRNA-4</text>
<rect x="190.70" y="156.80" width="74.90" height="74.40" fill="#ffffff"/>
<path d="M191.30,187.00 L191.30,187.00 L191.80,187.00 L192.30,187.00 L192.80,187.00 L193.30,186.99 L193.80,186.99 L194.30,186.99 L194.80,186.98 L195.30,186.97 L195.80,186.96 L196.30,186.95 L196.80,186.93 L197.30,186.91 L197.80,186.88 L198.30,186.84 L198.80,186.80 L199.30,186.74 L199.80,186.67 L200.30,186.57 L200.80,186.48 L201.30,186.40 L201.80,186.29 L202.30,186.12 L202.80,185.99 L203.30,185.76 L203.80,185.68 L204.30,185.46 L204.80,185.25 L205.30,184.96 L205.80,184.90 L206.30,184.80 L206.80,184.43 L207.30,184.29 L207.80,184.27 L208.30,183.74 L208.80,183.44 L209.30,183.25 L209.80,182.87 L210.30,182.88 L210.80,182.03 L211.30,181.04 L211.80,180.02 L212.30,178.44 L212.80,176.36 L213.30,173.01 L213.80,169.61 L214.30,166.39 L214.80,164.23 L215.30,163.72 L215.80,163.57 L216.30,164.65 L216.80,164.11 L217.30,164.22 L217.80,165.42 L218.30,166.72 L218.80,169.92 L219.30,172.92 L219.80,176.59 L220.30,180.39 L220.80,182.38 L221.30,183.98 L221.80,185.40 L222.30,186.08 L222.80,186.45 L223.30,186.72 L223.80,186.85 L224.30,186.92 L224.80,186.96 L225.30,186.98 L225.80,186.99 L226.30,187.00 L226.80,187.00 L227.30,187.00 L227.80,187.00 L228.30,187.00 L228.80,187.00 L229.30,187.00 L229.80,187.00 L230.30,187.00 L230.80,187.00 L231.30,187.00 L231.80,187.00 L232.30,187.00 L232.80,187.00 L233.30,187.00 L233.80,187.00 L234.30,187.00 L234.80,187.00 L235.30,187.00 L235.80,187.00 L236.30,187.00 L236.80,187.00 L237.30,187.00 L237.80,187.00 L238.30,187.00 L238.80,187.00 L239.30,187.00 L239.80,187.00 L240.30,187.00 L240.80,187.00 L241.30,187.00 L241.80,187.00 L242.30,187.00 L242.80,187.00 L243.30,187.00 L243.80,187.00 L244.30,187.00 L244.80,187.00 L245.30,187.00 L245.80,187.00 L246.30,187.00 L246.80,187.00 L247.30,187.00 L247.80,187.00 L248.30,187.00 L248.80,187.00 L249.30,187.00 L249.80,187.00 L250.30,187.00 L250.80,187.00 L251.30,187.00 L251.80,187.00 L252.30,187.00 L252.80,187.00 L253.30,187.00 L253.80,187.00 L254.30,187.00 L254.80,187.00 L255.30,187.00 L255.80,187.00 L256.30,187.00 L256.80,187.00 L257.30,187.00 L257.80,187.00 L258.30,187.00 L258.80,187.00 L259.30,187.00 L259.80,187.00 L260.30,187.00 L260.80,187.00 L261.30,187.00 L261.80,187.00 L262.30,187.00 L262.80,187.00 L263.30,187.00 L263.80,187.00 L264.30,187.00 L264.80,187.00 L265.00,187.00 Z" fill="#aa90c6" stroke="#6a4e8c" stroke-width="0.7" stroke-linejoin="round"/>
<line x1="190.70" y1="187.00" x2="265.60" y2="187.00" stroke="#5d5866" stroke-width="0.9"/>
<path d="M191.30,202.30 L191.30,202.30 L191.80,202.30 L192.30,202.30 L192.80,202.30 L193.30,202.30 L193.80,202.30 L194.30,202.30 L194.80,202.30 L195.30,202.30 L195.80,202.30 L196.30,202.30 L196.80,202.30 L197.30,202.30 L197.80,202.30 L198.30,202.30 L198.80,202.30 L199.30,202.30 L199.80,202.30 L200.30,202.30 L200.80,202.30 L201.30,202.30 L201.80,202.30 L202.30,202.30 L202.80,202.30 L203.30,202.30 L203.80,202.30 L204.30,202.30 L204.80,202.30 L205.30,202.30 L205.80,202.30 L206.30,202.30 L206.80,202.30 L207.30,202.30 L207.80,202.30 L208.30,202.30 L208.80,202.30 L209.30,202.30 L209.80,202.30 L210.30,202.30 L210.80,202.30 L211.30,202.30 L211.80,202.30 L212.30,202.30 L212.80,202.30 L213.30,202.30 L213.80,202.30 L214.30,202.30 L214.80,202.30 L215.30,202.30 L215.80,202.30 L216.30,202.30 L216.80,202.30 L217.30,202.30 L217.80,202.30 L218.30,202.30 L218.80,202.30 L219.30,202.30 L219.80,202.30 L220.30,202.30 L220.80,202.30 L221.30,202.30 L221.80,202.30 L222.30,202.30 L222.80,202.30 L223.30,202.30 L223.80,202.30 L224.30,202.30 L224.80,202.30 L225.30,202.30 L225.80,202.30 L226.30,202.30 L226.80,202.30 L227.30,202.30 L227.80,202.30 L228.30,202.30 L228.80,202.30 L229.30,202.29 L229.80,202.28 L230.30,202.27 L230.80,202.24 L231.30,202.19 L231.80,202.11 L232.30,201.98 L232.80,201.81 L233.30,201.41 L233.80,200.94 L234.30,200.43 L234.80,199.45 L235.30,198.30 L235.80,196.61 L236.30,194.61 L236.80,193.12 L237.30,190.72 L237.80,187.25 L238.30,184.92 L238.80,181.94 L239.30,180.31 L239.80,177.88 L240.30,176.17 L240.80,175.85 L241.30,174.95 L241.80,175.37 L242.30,177.13 L242.80,178.48 L243.30,179.71 L243.80,181.38 L244.30,184.27 L244.80,186.92 L245.30,189.27 L245.80,192.15 L246.30,194.26 L246.80,196.09 L247.30,197.75 L247.80,199.25 L248.30,200.25 L248.80,200.97 L249.30,201.42 L249.80,201.78 L250.30,201.98 L250.80,202.11 L251.30,202.19 L251.80,202.24 L252.30,202.27 L252.80,202.28 L253.30,202.29 L253.80,202.30 L254.30,202.30 L254.80,202.30 L255.30,202.30 L255.80,202.30 L256.30,202.30 L256.80,202.30 L257.30,202.30 L257.80,202.30 L258.30,202.30 L258.80,202.30 L259.30,202.30 L259.80,202.30 L260.30,202.30 L260.80,202.30 L261.30,202.30 L261.80,202.30 L262.30,202.30 L262.80,202.30 L263.30,202.30 L263.80,202.30 L264.30,202.30 L264.80,202.30 L265.00,202.30 Z" fill="#e6727f" stroke="#b83a4c" stroke-width="0.7" stroke-linejoin="round"/>
<line x1="190.70" y1="202.30" x2="265.60" y2="202.30" stroke="#c4606e" stroke-width="0.9"/>
<path d="M191.30,217.50 L191.30,217.50 L191.80,217.50 L192.30,217.50 L192.80,217.50 L193.30,217.50 L193.80,217.50 L194.30,217.50 L194.80,217.50 L195.30,217.50 L195.80,217.50 L196.30,217.50 L196.80,217.49 L197.30,217.49 L197.80,217.48 L198.30,217.48 L198.80,217.46 L199.30,217.45 L199.80,217.42 L200.30,217.39 L200.80,217.35 L201.30,217.30 L201.80,217.23 L202.30,217.14 L202.80,217.00 L203.30,216.86 L203.80,216.80 L204.30,216.63 L204.80,216.29 L205.30,216.07 L205.80,215.82 L206.30,215.65 L206.80,215.27 L207.30,214.96 L207.80,214.67 L208.30,214.58 L208.80,214.12 L209.30,213.80 L209.80,213.15 L210.30,212.36 L210.80,211.57 L211.30,210.87 L211.80,209.54 L212.30,207.83 L212.80,205.69 L213.30,202.89 L213.80,199.34 L214.30,196.32 L214.80,193.38 L215.30,190.62 L215.80,189.70 L216.30,189.54 L216.80,190.96 L217.30,193.36 L217.80,196.09 L218.30,199.79 L218.80,203.04 L219.30,205.98 L219.80,209.30 L220.30,212.23 L220.80,213.57 L221.30,215.05 L221.80,216.04 L222.30,216.64 L222.80,217.04 L223.30,217.27 L223.80,217.38 L224.30,217.44 L224.80,217.47 L225.30,217.49 L225.80,217.50 L226.30,217.50 L226.80,217.50 L227.30,217.50 L227.80,217.50 L228.30,217.50 L228.80,217.50 L229.30,217.50 L229.80,217.50 L230.30,217.50 L230.80,217.50 L231.30,217.50 L231.80,217.50 L232.30,217.50 L232.80,217.50 L233.30,217.50 L233.80,217.50 L234.30,217.50 L234.80,217.50 L235.30,217.50 L235.80,217.50 L236.30,217.50 L236.80,217.50 L237.30,217.50 L237.80,217.50 L238.30,217.50 L238.80,217.50 L239.30,217.50 L239.80,217.50 L240.30,217.50 L240.80,217.50 L241.30,217.50 L241.80,217.50 L242.30,217.50 L242.80,217.50 L243.30,217.50 L243.80,217.50 L244.30,217.50 L244.80,217.50 L245.30,217.50 L245.80,217.50 L246.30,217.50 L246.80,217.50 L247.30,217.50 L247.80,217.50 L248.30,217.50 L248.80,217.50 L249.30,217.50 L249.80,217.50 L250.30,217.50 L250.80,217.50 L251.30,217.50 L251.80,217.50 L252.30,217.50 L252.80,217.50 L253.30,217.50 L253.80,217.50 L254.30,217.50 L254.80,217.50 L255.30,217.50 L255.80,217.50 L256.30,217.50 L256.80,217.50 L257.30,217.50 L257.80,217.50 L258.30,217.50 L258.80,217.50 L259.30,217.50 L259.80,217.50 L260.30,217.50 L260.80,217.50 L261.30,217.50 L261.80,217.50 L262.30,217.50 L262.80,217.50 L263.30,217.50 L263.80,217.50 L264.30,217.50 L264.80,217.50 L265.00,217.50 Z" fill="#7b9dcb" stroke="#365c94" stroke-width="0.7" stroke-linejoin="round"/>
<line x1="190.70" y1="217.50" x2="265.60" y2="217.50" stroke="#5a6c92" stroke-width="0.9"/>
<path d="M191.30,231.20 L191.30,231.20 L191.80,231.20 L192.30,231.20 L192.80,231.20 L193.30,231.20 L193.80,231.20 L194.30,231.20 L194.80,231.20 L195.30,231.20 L195.80,231.20 L196.30,231.20 L196.80,231.20 L197.30,231.20 L197.80,231.20 L198.30,231.20 L198.80,231.20 L199.30,231.20 L199.80,231.20 L200.30,231.20 L200.80,231.20 L201.30,231.20 L201.80,231.20 L202.30,231.20 L202.80,231.20 L203.30,231.20 L203.80,231.19 L204.30,231.18 L204.80,231.17 L205.30,231.15 L205.80,231.11 L206.30,231.05 L206.80,230.94 L207.30,230.81 L207.80,230.55 L208.30,230.24 L208.80,229.71 L209.30,229.03 L209.80,228.41 L210.30,227.40 L210.80,225.34 L211.30,224.18 L211.80,222.22 L212.30,219.23 L212.80,217.36 L213.30,214.52 L213.80,212.46 L214.30,210.08 L214.80,208.69 L215.30,206.79 L215.80,205.73 L216.30,205.88 L216.80,206.18 L217.30,207.47 L217.80,209.89 L218.30,211.47 L218.80,214.17 L219.30,217.10 L219.80,219.95 L220.30,221.52 L220.80,224.03 L221.30,225.61 L221.80,227.03 L222.30,228.33 L222.80,229.17 L223.30,229.96 L223.80,230.34 L224.30,230.69 L224.80,230.89 L225.30,231.02 L225.80,231.09 L226.30,231.14 L226.80,231.17 L227.30,231.18 L227.80,231.19 L228.30,231.20 L228.80,231.20 L229.30,231.20 L229.80,231.20 L230.30,231.20 L230.80,231.20 L231.30,231.20 L231.80,231.20 L232.30,231.20 L232.80,231.20 L233.30,231.20 L233.80,231.20 L234.30,231.20 L234.80,231.20 L235.30,231.20 L235.80,231.20 L236.30,231.20 L236.80,231.20 L237.30,231.20 L237.80,231.20 L238.30,231.20 L238.80,231.20 L239.30,231.20 L239.80,231.20 L240.30,231.20 L240.80,231.20 L241.30,231.20 L241.80,231.20 L242.30,231.20 L242.80,231.20 L243.30,231.20 L243.80,231.20 L244.30,231.20 L244.80,231.20 L245.30,231.20 L245.80,231.20 L246.30,231.20 L246.80,231.20 L247.30,231.20 L247.80,231.20 L248.30,231.20 L248.80,231.20 L249.30,231.20 L249.80,231.20 L250.30,231.20 L250.80,231.20 L251.30,231.20 L251.80,231.20 L252.30,231.20 L252.80,231.20 L253.30,231.20 L253.80,231.20 L254.30,231.20 L254.80,231.20 L255.30,231.20 L255.80,231.20 L256.30,231.20 L256.80,231.20 L257.30,231.20 L257.80,231.20 L258.30,231.20 L258.80,231.20 L259.30,231.20 L259.80,231.20 L260.30,231.20 L260.80,231.20 L261.30,231.20 L261.80,231.20 L262.30,231.20 L262.80,231.20 L263.30,231.20 L263.80,231.20 L264.30,231.20 L264.80,231.20 L265.00,231.20 Z" fill="#94d99e" stroke="#45a45a" stroke-width="0.7" stroke-linejoin="round"/>
<rect x="190.70" y="156.80" width="74.90" height="74.40" fill="none" stroke="#222" stroke-width="1.1"/>
<text x="228.15" y="154.00" font-size="9.8" text-anchor="middle" fill="#111" textLength="24.50" lengthAdjust="spacingAndGlyphs">CD58</text>
<rect x="275.70" y="156.80" width="74.70" height="74.40" fill="#ffffff"/>
<path d="M276.30,187.00 L276.30,187.00 L276.80,187.00 L277.30,187.00 L277.80,187.00 L278.30,187.00 L278.80,187.00 L279.30,187.00 L279.80,187.00 L280.30,187.00 L280.80,187.00 L281.30,187.00 L281.80,187.00 L282.30,187.00 L282.80,187.00 L283.30,187.00 L283.80,187.00 L284.30,187.00 L284.80,187.00 L285.30,186.99 L285.80,186.99 L286.30,186.99 L286.80,186.98 L287.30,186.98 L287.80,186.97 L288.30,186.95 L288.80,186.94 L289.30,186.92 L289.80,186.89 L290.30,186.86 L290.80,186.83 L291.30,186.79 L291.80,186.74 L292.30,186.68 L292.80,186.62 L293.30,186.55 L293.80,186.49 L294.30,186.40 L294.80,186.36 L295.30,186.20 L295.80,186.10 L296.30,186.02 L296.80,186.00 L297.30,185.81 L297.80,185.71 L298.30,185.56 L298.80,185.16 L299.30,184.87 L299.80,184.90 L300.30,184.19 L300.80,183.84 L301.30,183.42 L301.80,182.85 L302.30,181.78 L302.80,181.05 L303.30,179.72 L303.80,178.42 L304.30,177.39 L304.80,174.97 L305.30,172.77 L305.80,170.69 L306.30,168.99 L306.80,167.69 L307.30,166.22 L307.80,165.18 L308.30,164.26 L308.80,165.71 L309.30,167.32 L309.80,169.13 L310.30,172.45 L310.80,175.05 L311.30,177.82 L311.80,180.50 L312.30,181.87 L312.80,183.17 L313.30,184.60 L313.80,185.32 L314.30,185.82 L314.80,186.26 L315.30,186.48 L315.80,186.67 L316.30,186.80 L316.80,186.88 L317.30,186.93 L317.80,186.96 L318.30,186.98 L318.80,186.99 L319.30,186.99 L319.80,187.00 L320.30,187.00 L320.80,187.00 L321.30,187.00 L321.80,187.00 L322.30,187.00 L322.80,187.00 L323.30,187.00 L323.80,187.00 L324.30,187.00 L324.80,187.00 L325.30,187.00 L325.80,187.00 L326.30,187.00 L326.80,187.00 L327.30,187.00 L327.80,187.00 L328.30,187.00 L328.80,187.00 L329.30,187.00 L329.80,187.00 L330.30,187.00 L330.80,187.00 L331.30,187.00 L331.80,187.00 L332.30,187.00 L332.80,187.00 L333.30,187.00 L333.80,187.00 L334.30,187.00 L334.80,187.00 L335.30,187.00 L335.80,187.00 L336.30,187.00 L336.80,187.00 L337.30,187.00 L337.80,187.00 L338.30,187.00 L338.80,187.00 L339.30,187.00 L339.80,187.00 L340.30,187.00 L340.80,187.00 L341.30,187.00 L341.80,187.00 L342.30,187.00 L342.80,187.00 L343.30,187.00 L343.80,187.00 L344.30,187.00 L344.80,187.00 L345.30,187.00 L345.80,187.00 L346.30,187.00 L346.80,187.00 L347.30,187.00 L347.80,187.00 L348.30,187.00 L348.80,187.00 L349.30,187.00 L349.80,187.00 Z" fill="#aa90c6" stroke="#6a4e8c" stroke-width="0.7" stroke-linejoin="round"/>
<line x1="275.70" y1="187.00" x2="350.40" y2="187.00" stroke="#5d5866" stroke-width="0.9"/>
<path d="M276.30,202.30 L276.30,202.30 L276.80,202.30 L277.30,202.30 L277.80,202.30 L278.30,202.30 L278.80,202.30 L279.30,202.30 L279.80,202.30 L280.30,202.30 L280.80,202.30 L281.30,202.30 L281.80,202.30 L282.30,202.30 L282.80,202.30 L283.30,202.30 L283.80,202.30 L284.30,202.30 L284.80,202.30 L285.30,202.30 L285.80,202.30 L286.30,202.30 L286.80,202.30 L287.30,202.30 L287.80,202.30 L288.30,202.30 L288.80,202.30 L289.30,202.30 L289.80,202.30 L290.30,202.30 L290.80,202.30 L291.30,202.30 L291.80,202.30 L292.30,202.30 L292.80,202.30 L293.30,202.30 L293.80,202.30 L294.30,202.30 L294.80,202.30 L295.30,202.30 L295.80,202.30 L296.30,202.30 L296.80,202.30 L297.30,202.30 L297.80,202.30 L298.30,202.30 L298.80,202.30 L299.30,202.30 L299.80,202.30 L300.30,202.30 L300.80,202.30 L301.30,202.30 L301.80,202.30 L302.30,202.30 L302.80,202.30 L303.30,202.30 L303.80,202.30 L304.30,202.30 L304.80,202.30 L305.30,202.30 L305.80,202.30 L306.30,202.30 L306.80,202.30 L307.30,202.29 L307.80,202.29 L308.30,202.28 L308.80,202.26 L309.30,202.24 L309.80,202.21 L310.30,202.17 L310.80,202.11 L311.30,202.02 L311.80,201.91 L312.30,201.76 L312.80,201.56 L313.30,201.25 L313.80,201.03 L314.30,200.67 L314.80,200.22 L315.30,199.91 L315.80,199.24 L316.30,198.59 L316.80,197.86 L317.30,197.76 L317.80,196.96 L318.30,196.55 L318.80,195.18 L319.30,194.66 L319.80,194.69 L320.30,193.11 L320.80,192.49 L321.30,192.13 L321.80,191.47 L322.30,191.20 L322.80,190.58 L323.30,189.29 L323.80,188.99 L324.30,188.13 L324.80,187.43 L325.30,187.12 L325.80,186.33 L326.30,186.17 L326.80,185.77 L327.30,186.25 L327.80,186.39 L328.30,186.80 L328.80,186.82 L329.30,186.98 L329.80,186.77 L330.30,185.24 L330.80,183.99 L331.30,182.50 L331.80,180.76 L332.30,179.26 L332.80,177.72 L333.30,176.57 L333.80,176.43 L334.30,176.17 L334.80,177.53 L335.30,178.50 L335.80,180.65 L336.30,181.84 L336.80,183.61 L337.30,185.92 L337.80,186.94 L338.30,187.30 L338.80,188.75 L339.30,189.33 L339.80,191.23 L340.30,193.32 L340.80,194.81 L341.30,196.74 L341.80,198.92 L342.30,200.31 L342.80,201.15 L343.30,201.65 L343.80,202.02 L344.30,202.18 L344.80,202.25 L345.30,202.28 L345.80,202.29 L346.30,202.30 L346.80,202.30 L347.30,202.30 L347.80,202.30 L348.30,202.30 L348.80,202.30 L349.30,202.30 L349.80,202.30 Z" fill="#e6727f" stroke="#b83a4c" stroke-width="0.7" stroke-linejoin="round"/>
<line x1="275.70" y1="202.30" x2="350.40" y2="202.30" stroke="#c4606e" stroke-width="0.9"/>
<path d="M276.30,217.50 L276.30,217.50 L276.80,217.50 L277.30,217.50 L277.80,217.50 L278.30,217.50 L278.80,217.50 L279.30,217.50 L279.80,217.50 L280.30,217.50 L280.80,217.50 L281.30,217.50 L281.80,217.50 L282.30,217.50 L282.80,217.50 L283.30,217.50 L283.80,217.50 L284.30,217.50 L284.80,217.50 L285.30,217.50 L285.80,217.50 L286.30,217.50 L286.80,217.50 L287.30,217.50 L287.80,217.50 L288.30,217.50 L288.80,217.50 L289.30,217.50 L289.80,217.50 L290.30,217.49 L290.80,217.49 L291.30,217.48 L291.80,217.47 L292.30,217.46 L292.80,217.44 L293.30,217.41 L293.80,217.37 L294.30,217.32 L294.80,217.24 L295.30,217.14 L295.80,217.00 L296.30,216.80 L296.80,216.56 L297.30,216.36 L297.80,216.04 L298.30,215.49 L298.80,214.99 L299.30,214.07 L299.80,213.34 L300.30,212.51 L300.80,211.55 L301.30,210.36 L301.80,209.71 L302.30,208.19 L302.80,207.21 L303.30,205.21 L303.80,204.83 L304.30,202.93 L304.80,202.65 L305.30,201.17 L305.80,200.84 L306.30,200.32 L306.80,199.66 L307.30,200.52 L307.80,200.85 L308.30,200.67 L308.80,202.03 L309.30,203.62 L309.80,204.07 L310.30,205.54 L310.80,207.85 L311.30,208.99 L311.80,210.66 L312.30,211.76 L312.80,212.62 L313.30,213.92 L313.80,214.46 L314.30,215.43 L314.80,215.92 L315.30,216.21 L315.80,216.63 L316.30,216.89 L316.80,217.06 L317.30,217.21 L317.80,217.30 L318.30,217.37 L318.80,217.42 L319.30,217.44 L319.80,217.46 L320.30,217.46 L320.80,217.44 L321.30,217.42 L321.80,217.37 L322.30,217.30 L322.80,217.22 L323.30,217.12 L323.80,217.01 L324.30,216.93 L324.80,216.89 L325.30,216.78 L325.80,216.75 L326.30,216.80 L326.80,216.92 L327.30,217.04 L327.80,217.14 L328.30,217.24 L328.80,217.32 L329.30,217.38 L329.80,217.43 L330.30,217.46 L330.80,217.48 L331.30,217.49 L331.80,217.50 L332.30,217.50 L332.80,217.50 L333.30,217.50 L333.80,217.50 L334.30,217.50 L334.80,217.50 L335.30,217.50 L335.80,217.50 L336.30,217.50 L336.80,217.50 L337.30,217.50 L337.80,217.50 L338.30,217.50 L338.80,217.50 L339.30,217.50 L339.80,217.50 L340.30,217.50 L340.80,217.50 L341.30,217.50 L341.80,217.50 L342.30,217.50 L342.80,217.50 L343.30,217.50 L343.80,217.50 L344.30,217.50 L344.80,217.50 L345.30,217.50 L345.80,217.50 L346.30,217.50 L346.80,217.50 L347.30,217.50 L347.80,217.50 L348.30,217.50 L348.80,217.50 L349.30,217.50 L349.80,217.50 Z" fill="#7b9dcb" stroke="#365c94" stroke-width="0.7" stroke-linejoin="round"/>
<line x1="275.70" y1="217.50" x2="350.40" y2="217.50" stroke="#5a6c92" stroke-width="0.9"/>
<path d="M276.30,231.20 L276.30,231.20 L276.80,231.20 L277.30,231.20 L277.80,231.20 L278.30,231.20 L278.80,231.20 L279.30,231.20 L279.80,231.20 L280.30,231.20 L280.80,231.20 L281.30,231.20 L281.80,231.20 L282.30,231.20 L282.80,231.20 L283.30,231.20 L283.80,231.20 L284.30,231.20 L284.80,231.20 L285.30,231.20 L285.80,231.20 L286.30,231.20 L286.80,231.20 L287.30,231.20 L287.80,231.20 L288.30,231.20 L288.80,231.20 L289.30,231.20 L289.80,231.20 L290.30,231.20 L290.80,231.20 L291.30,231.20 L291.80,231.19 L292.30,231.19 L292.80,231.18 L293.30,231.17 L293.80,231.16 L294.30,231.13 L294.80,231.10 L295.30,231.06 L295.80,230.99 L296.30,230.90 L296.80,230.80 L297.30,230.60 L297.80,230.38 L298.30,230.06 L298.80,229.84 L299.30,229.40 L299.80,228.89 L300.30,228.21 L300.80,227.08 L301.30,226.56 L301.80,225.09 L302.30,224.11 L302.80,222.58 L303.30,220.84 L303.80,218.72 L304.30,217.13 L304.80,215.85 L305.30,213.71 L305.80,212.00 L306.30,209.54 L306.80,208.02 L307.30,206.65 L307.80,205.53 L308.30,204.81 L308.80,204.14 L309.30,204.21 L309.80,205.61 L310.30,207.01 L310.80,210.23 L311.30,213.33 L311.80,217.03 L312.30,220.49 L312.80,223.48 L313.30,225.81 L313.80,227.70 L314.30,229.06 L314.80,229.75 L315.30,230.37 L315.80,230.73 L316.30,230.97 L316.80,231.09 L317.30,231.15 L317.80,231.18 L318.30,231.19 L318.80,231.20 L319.30,231.20 L319.80,231.20 L320.30,231.20 L320.80,231.20 L321.30,231.20 L321.80,231.20 L322.30,231.20 L322.80,231.20 L323.30,231.20 L323.80,231.20 L324.30,231.20 L324.80,231.20 L325.30,231.20 L325.80,231.20 L326.30,231.20 L326.80,231.20 L327.30,231.20 L327.80,231.20 L328.30,231.20 L328.80,231.20 L329.30,231.20 L329.80,231.20 L330.30,231.20 L330.80,231.20 L331.30,231.20 L331.80,231.20 L332.30,231.20 L332.80,231.20 L333.30,231.20 L333.80,231.20 L334.30,231.20 L334.80,231.20 L335.30,231.20 L335.80,231.20 L336.30,231.20 L336.80,231.20 L337.30,231.20 L337.80,231.20 L338.30,231.20 L338.80,231.20 L339.30,231.20 L339.80,231.20 L340.30,231.20 L340.80,231.20 L341.30,231.20 L341.80,231.20 L342.30,231.20 L342.80,231.20 L343.30,231.20 L343.80,231.20 L344.30,231.20 L344.80,231.20 L345.30,231.20 L345.80,231.20 L346.30,231.20 L346.80,231.20 L347.30,231.20 L347.80,231.20 L348.30,231.20 L348.80,231.20 L349.30,231.20 L349.80,231.20 Z" fill="#94d99e" stroke="#45a45a" stroke-width="0.7" stroke-linejoin="round"/>
<rect x="275.70" y="156.80" width="74.70" height="74.40" fill="none" stroke="#222" stroke-width="1.1"/>
<text x="313.05" y="154.00" font-size="9.8" text-anchor="middle" fill="#111" textLength="24.50" lengthAdjust="spacingAndGlyphs">CD81</text>
<rect x="360.40" y="156.80" width="74.60" height="74.40" fill="#ffffff"/>
<path d="M361.00,187.00 L361.00,187.00 L361.50,187.00 L362.00,187.00 L362.50,187.00 L363.00,187.00 L363.50,187.00 L364.00,187.00 L364.50,187.00 L365.00,187.00 L365.50,187.00 L366.00,186.99 L366.50,186.99 L367.00,186.99 L367.50,186.98 L368.00,186.98 L368.50,186.97 L369.00,186.95 L369.50,186.94 L370.00,186.91 L370.50,186.89 L371.00,186.85 L371.50,186.80 L372.00,186.75 L372.50,186.67 L373.00,186.56 L373.50,186.46 L374.00,186.32 L374.50,186.14 L375.00,186.05 L375.50,185.77 L376.00,185.44 L376.50,185.12 L377.00,184.83 L377.50,184.53 L378.00,183.85 L378.50,182.72 L379.00,182.39 L379.50,180.99 L380.00,178.78 L380.50,177.34 L381.00,175.27 L381.50,172.54 L382.00,169.13 L382.50,166.84 L383.00,164.07 L383.50,161.61 L384.00,159.81 L384.50,159.31 L385.00,159.81 L385.50,160.30 L386.00,162.60 L386.50,164.90 L387.00,167.52 L387.50,169.87 L388.00,173.05 L388.50,175.17 L389.00,177.88 L389.50,179.73 L390.00,181.25 L390.50,181.68 L391.00,182.39 L391.50,183.40 L392.00,183.77 L392.50,184.15 L393.00,184.02 L393.50,184.32 L394.00,184.50 L394.50,184.37 L395.00,184.50 L395.50,184.69 L396.00,184.94 L396.50,184.94 L397.00,185.16 L397.50,185.41 L398.00,185.68 L398.50,185.74 L399.00,185.97 L399.50,186.19 L400.00,186.34 L400.50,186.52 L401.00,186.65 L401.50,186.75 L402.00,186.82 L402.50,186.88 L403.00,186.92 L403.50,186.95 L404.00,186.97 L404.50,186.98 L405.00,186.99 L405.50,186.99 L406.00,187.00 L406.50,187.00 L407.00,187.00 L407.50,187.00 L408.00,187.00 L408.50,187.00 L409.00,187.00 L409.50,187.00 L410.00,187.00 L410.50,187.00 L411.00,187.00 L411.50,187.00 L412.00,187.00 L412.50,187.00 L413.00,187.00 L413.50,187.00 L414.00,187.00 L414.50,187.00 L415.00,187.00 L415.50,187.00 L416.00,187.00 L416.50,187.00 L417.00,187.00 L417.50,187.00 L418.00,187.00 L418.50,187.00 L419.00,187.00 L419.50,187.00 L420.00,187.00 L420.50,187.00 L421.00,187.00 L421.50,187.00 L422.00,187.00 L422.50,187.00 L423.00,187.00 L423.50,187.00 L424.00,187.00 L424.50,187.00 L425.00,187.00 L425.50,187.00 L426.00,187.00 L426.50,187.00 L427.00,187.00 L427.50,187.00 L428.00,187.00 L428.50,187.00 L429.00,187.00 L429.50,187.00 L430.00,187.00 L430.50,187.00 L431.00,187.00 L431.50,187.00 L432.00,187.00 L432.50,187.00 L433.00,187.00 L433.50,187.00 L434.00,187.00 L434.40,187.00 Z" fill="#aa90c6" stroke="#6a4e8c" stroke-width="0.7" stroke-linejoin="round"/>
<line x1="360.40" y1="187.00" x2="435.00" y2="187.00" stroke="#5d5866" stroke-width="0.9"/>
<path d="M361.00,202.30 L361.00,202.30 L361.50,202.30 L362.00,202.30 L362.50,202.30 L363.00,202.30 L363.50,202.30 L364.00,202.30 L364.50,202.30 L365.00,202.30 L365.50,202.30 L366.00,202.30 L366.50,202.30 L367.00,202.30 L367.50,202.30 L368.00,202.30 L368.50,202.30 L369.00,202.30 L369.50,202.30 L370.00,202.30 L370.50,202.30 L371.00,202.30 L371.50,202.30 L372.00,202.30 L372.50,202.30 L373.00,202.30 L373.50,202.30 L374.00,202.30 L374.50,202.30 L375.00,202.30 L375.50,202.30 L376.00,202.30 L376.50,202.30 L377.00,202.30 L377.50,202.30 L378.00,202.30 L378.50,202.30 L379.00,202.30 L379.50,202.30 L380.00,202.30 L380.50,202.30 L381.00,202.30 L381.50,202.30 L382.00,202.30 L382.50,202.30 L383.00,202.30 L383.50,202.30 L384.00,202.30 L384.50,202.30 L385.00,202.30 L385.50,202.30 L386.00,202.30 L386.50,202.30 L387.00,202.30 L387.50,202.30 L388.00,202.30 L388.50,202.30 L389.00,202.30 L389.50,202.30 L390.00,202.30 L390.50,202.30 L391.00,202.30 L391.50,202.30 L392.00,202.30 L392.50,202.30 L393.00,202.30 L393.50,202.30 L394.00,202.30 L394.50,202.30 L395.00,202.30 L395.50,202.30 L396.00,202.30 L396.50,202.30 L397.00,202.30 L397.50,202.30 L398.00,202.30 L398.50,202.30 L399.00,202.30 L399.50,202.30 L400.00,202.30 L400.50,202.30 L401.00,202.30 L401.50,202.30 L402.00,202.30 L402.50,202.30 L403.00,202.30 L403.50,202.30 L404.00,202.29 L404.50,202.29 L405.00,202.28 L405.50,202.27 L406.00,202.25 L406.50,202.22 L407.00,202.17 L407.50,202.10 L408.00,201.99 L408.50,201.87 L409.00,201.61 L409.50,201.32 L410.00,200.93 L410.50,200.45 L411.00,199.45 L411.50,198.34 L412.00,197.14 L412.50,195.38 L413.00,193.48 L413.50,191.19 L414.00,188.01 L414.50,184.85 L415.00,182.46 L415.50,179.07 L416.00,177.39 L416.50,175.81 L417.00,175.26 L417.50,174.41 L418.00,175.53 L418.50,176.95 L419.00,179.18 L419.50,181.96 L420.00,183.97 L420.50,186.12 L421.00,188.73 L421.50,189.96 L422.00,192.37 L422.50,194.16 L423.00,194.81 L423.50,196.58 L424.00,196.73 L424.50,197.86 L425.00,198.40 L425.50,199.04 L426.00,199.40 L426.50,199.91 L427.00,200.27 L427.50,200.27 L428.00,200.70 L428.50,200.77 L429.00,201.09 L429.50,201.10 L430.00,201.26 L430.50,201.42 L431.00,201.53 L431.50,201.65 L432.00,201.72 L432.50,201.85 L433.00,201.89 L433.50,201.95 L434.00,202.01 L434.40,202.30 Z" fill="#e6727f" stroke="#b83a4c" stroke-width="0.7" stroke-linejoin="round"/>
<line x1="360.40" y1="202.30" x2="435.00" y2="202.30" stroke="#c4606e" stroke-width="0.9"/>
<path d="M361.00,217.50 L361.00,217.50 L361.50,217.50 L362.00,217.50 L362.50,217.50 L363.00,217.50 L363.50,217.50 L364.00,217.50 L364.50,217.50 L365.00,217.50 L365.50,217.50 L366.00,217.49 L366.50,217.49 L367.00,217.49 L367.50,217.48 L368.00,217.47 L368.50,217.46 L369.00,217.45 L369.50,217.43 L370.00,217.41 L370.50,217.38 L371.00,217.34 L371.50,217.30 L372.00,217.24 L372.50,217.17 L373.00,217.05 L373.50,217.01 L374.00,216.90 L374.50,216.63 L375.00,216.57 L375.50,216.37 L376.00,215.99 L376.50,215.73 L377.00,215.10 L377.50,214.81 L378.00,213.68 L378.50,213.14 L379.00,211.69 L379.50,209.82 L380.00,208.20 L380.50,205.75 L381.00,203.47 L381.50,201.45 L382.00,197.89 L382.50,195.62 L383.00,193.71 L383.50,192.20 L384.00,190.63 L384.50,190.82 L385.00,191.21 L385.50,192.87 L386.00,194.78 L386.50,197.68 L387.00,200.25 L387.50,203.04 L388.00,205.94 L388.50,207.51 L389.00,210.10 L389.50,211.23 L390.00,212.43 L390.50,213.69 L391.00,214.73 L391.50,215.02 L392.00,215.55 L392.50,216.04 L393.00,216.34 L393.50,216.47 L394.00,216.73 L394.50,216.78 L395.00,216.95 L395.50,217.06 L396.00,217.15 L396.50,217.23 L397.00,217.29 L397.50,217.34 L398.00,217.38 L398.50,217.41 L399.00,217.43 L399.50,217.45 L400.00,217.46 L400.50,217.47 L401.00,217.48 L401.50,217.49 L402.00,217.49 L402.50,217.49 L403.00,217.50 L403.50,217.50 L404.00,217.50 L404.50,217.50 L405.00,217.50 L405.50,217.50 L406.00,217.50 L406.50,217.50 L407.00,217.50 L407.50,217.50 L408.00,217.50 L408.50,217.50 L409.00,217.50 L409.50,217.50 L410.00,217.50 L410.50,217.50 L411.00,217.50 L411.50,217.50 L412.00,217.50 L412.50,217.50 L413.00,217.50 L413.50,217.50 L414.00,217.50 L414.50,217.50 L415.00,217.50 L415.50,217.50 L416.00,217.50 L416.50,217.50 L417.00,217.50 L417.50,217.50 L418.00,217.50 L418.50,217.50 L419.00,217.50 L419.50,217.50 L420.00,217.50 L420.50,217.50 L421.00,217.50 L421.50,217.50 L422.00,217.50 L422.50,217.50 L423.00,217.50 L423.50,217.50 L424.00,217.50 L424.50,217.50 L425.00,217.50 L425.50,217.50 L426.00,217.50 L426.50,217.50 L427.00,217.50 L427.50,217.50 L428.00,217.50 L428.50,217.50 L429.00,217.50 L429.50,217.50 L430.00,217.50 L430.50,217.50 L431.00,217.50 L431.50,217.50 L432.00,217.50 L432.50,217.50 L433.00,217.50 L433.50,217.50 L434.00,217.50 L434.40,217.50 Z" fill="#7b9dcb" stroke="#365c94" stroke-width="0.7" stroke-linejoin="round"/>
<line x1="360.40" y1="217.50" x2="435.00" y2="217.50" stroke="#5a6c92" stroke-width="0.9"/>
<path d="M361.00,231.20 L361.00,231.20 L361.50,231.20 L362.00,231.20 L362.50,231.20 L363.00,231.20 L363.50,231.20 L364.00,231.20 L364.50,231.20 L365.00,231.20 L365.50,231.20 L366.00,231.20 L366.50,231.20 L367.00,231.20 L367.50,231.20 L368.00,231.20 L368.50,231.19 L369.00,231.19 L369.50,231.18 L370.00,231.17 L370.50,231.15 L371.00,231.12 L371.50,231.08 L372.00,231.01 L372.50,230.92 L373.00,230.76 L373.50,230.56 L374.00,230.29 L374.50,230.10 L375.00,229.55 L375.50,229.03 L376.00,228.27 L376.50,227.63 L377.00,226.58 L377.50,225.13 L378.00,223.90 L378.50,222.02 L379.00,220.65 L379.50,218.67 L380.00,216.04 L380.50,214.32 L381.00,212.27 L381.50,210.23 L382.00,209.00 L382.50,207.99 L383.00,206.31 L383.50,205.94 L384.00,205.74 L384.50,206.18 L385.00,206.79 L385.50,208.83 L386.00,210.27 L386.50,212.77 L387.00,214.85 L387.50,217.08 L388.00,219.69 L388.50,222.03 L389.00,223.56 L389.50,224.98 L390.00,226.55 L390.50,227.80 L391.00,228.64 L391.50,229.51 L392.00,230.02 L392.50,230.38 L393.00,230.61 L393.50,230.83 L394.00,230.97 L394.50,231.05 L395.00,231.11 L395.50,231.15 L396.00,231.17 L396.50,231.18 L397.00,231.19 L397.50,231.19 L398.00,231.20 L398.50,231.20 L399.00,231.20 L399.50,231.20 L400.00,231.20 L400.50,231.20 L401.00,231.20 L401.50,231.20 L402.00,231.20 L402.50,231.20 L403.00,231.20 L403.50,231.20 L404.00,231.20 L404.50,231.20 L405.00,231.20 L405.50,231.20 L406.00,231.20 L406.50,231.20 L407.00,231.20 L407.50,231.20 L408.00,231.20 L408.50,231.20 L409.00,231.20 L409.50,231.20 L410.00,231.20 L410.50,231.20 L411.00,231.20 L411.50,231.20 L412.00,231.20 L412.50,231.20 L413.00,231.20 L413.50,231.20 L414.00,231.20 L414.50,231.20 L415.00,231.20 L415.50,231.20 L416.00,231.20 L416.50,231.20 L417.00,231.20 L417.50,231.20 L418.00,231.20 L418.50,231.20 L419.00,231.20 L419.50,231.20 L420.00,231.20 L420.50,231.20 L421.00,231.20 L421.50,231.20 L422.00,231.20 L422.50,231.20 L423.00,231.20 L423.50,231.20 L424.00,231.20 L424.50,231.20 L425.00,231.20 L425.50,231.20 L426.00,231.20 L426.50,231.20 L427.00,231.20 L427.50,231.20 L428.00,231.20 L428.50,231.20 L429.00,231.20 L429.50,231.20 L430.00,231.20 L430.50,231.20 L431.00,231.20 L431.50,231.20 L432.00,231.20 L432.50,231.20 L433.00,231.20 L433.50,231.20 L434.00,231.20 L434.40,231.20 Z" fill="#94d99e" stroke="#45a45a" stroke-width="0.7" stroke-linejoin="round"/>
<rect x="360.40" y="156.80" width="74.60" height="74.40" fill="none" stroke="#222" stroke-width="1.1"/>
<text x="397.70" y="154.00" font-size="9.8" text-anchor="middle" fill="#111" textLength="29.00" lengthAdjust="spacingAndGlyphs">ICAM1</text>
<rect x="443.90" y="156.80" width="73.50" height="74.40" fill="#ffffff"/>
<path d="M444.50,187.00 L444.50,187.00 L445.00,187.00 L445.50,187.00 L446.00,187.00 L446.50,187.00 L447.00,187.00 L447.50,187.00 L448.00,187.00 L448.50,187.00 L449.00,187.00 L449.50,187.00 L450.00,187.00 L450.50,187.00 L451.00,187.00 L451.50,187.00 L452.00,187.00 L452.50,187.00 L453.00,187.00 L453.50,187.00 L454.00,187.00 L454.50,187.00 L455.00,187.00 L455.50,187.00 L456.00,187.00 L456.50,187.00 L457.00,187.00 L457.50,187.00 L458.00,187.00 L458.50,187.00 L459.00,187.00 L459.50,187.00 L460.00,187.00 L460.50,187.00 L461.00,186.99 L461.50,186.99 L462.00,186.99 L462.50,186.98 L463.00,186.98 L463.50,186.97 L464.00,186.96 L464.50,186.94 L465.00,186.93 L465.50,186.91 L466.00,186.88 L466.50,186.84 L467.00,186.80 L467.50,186.75 L468.00,186.69 L468.50,186.62 L469.00,186.53 L469.50,186.45 L470.00,186.37 L470.50,186.17 L471.00,186.08 L471.50,185.91 L472.00,185.70 L472.50,185.43 L473.00,185.10 L473.50,185.00 L474.00,184.52 L474.50,184.17 L475.00,184.15 L475.50,183.82 L476.00,183.27 L476.50,182.10 L477.00,181.42 L477.50,180.02 L478.00,178.63 L478.50,177.35 L479.00,175.61 L479.50,174.04 L480.00,171.96 L480.50,169.13 L481.00,167.47 L481.50,166.03 L482.00,165.48 L482.50,165.33 L483.00,166.11 L483.50,167.35 L484.00,170.20 L484.50,172.24 L485.00,174.96 L485.50,176.86 L486.00,178.99 L486.50,181.44 L487.00,182.97 L487.50,183.93 L488.00,184.71 L488.50,185.17 L489.00,185.71 L489.50,185.97 L490.00,186.27 L490.50,186.42 L491.00,186.58 L491.50,186.66 L492.00,186.74 L492.50,186.81 L493.00,186.86 L493.50,186.89 L494.00,186.92 L494.50,186.94 L495.00,186.96 L495.50,186.97 L496.00,186.98 L496.50,186.99 L497.00,186.99 L497.50,186.99 L498.00,187.00 L498.50,187.00 L499.00,187.00 L499.50,187.00 L500.00,187.00 L500.50,187.00 L501.00,187.00 L501.50,187.00 L502.00,187.00 L502.50,187.00 L503.00,187.00 L503.50,187.00 L504.00,187.00 L504.50,187.00 L505.00,187.00 L505.50,187.00 L506.00,187.00 L506.50,187.00 L507.00,187.00 L507.50,187.00 L508.00,187.00 L508.50,187.00 L509.00,187.00 L509.50,187.00 L510.00,187.00 L510.50,187.00 L511.00,187.00 L511.50,187.00 L512.00,187.00 L512.50,187.00 L513.00,187.00 L513.50,187.00 L514.00,187.00 L514.50,187.00 L515.00,187.00 L515.50,187.00 L516.00,187.00 L516.50,187.00 L516.80,187.00 Z" fill="#aa90c6" stroke="#6a4e8c" stroke-width="0.7" stroke-linejoin="round"/>
<line x1="443.90" y1="187.00" x2="517.40" y2="187.00" stroke="#5d5866" stroke-width="0.9"/>
<path d="M444.50,202.30 L444.50,202.30 L445.00,202.30 L445.50,202.30 L446.00,202.30 L446.50,202.30 L447.00,202.30 L447.50,202.30 L448.00,202.30 L448.50,202.30 L449.00,202.30 L449.50,202.30 L450.00,202.30 L450.50,202.30 L451.00,202.30 L451.50,202.30 L452.00,202.30 L452.50,202.30 L453.00,202.30 L453.50,202.30 L454.00,202.30 L454.50,202.30 L455.00,202.30 L455.50,202.30 L456.00,202.30 L456.50,202.30 L457.00,202.30 L457.50,202.30 L458.00,202.30 L458.50,202.30 L459.00,202.30 L459.50,202.30 L460.00,202.30 L460.50,202.30 L461.00,202.30 L461.50,202.30 L462.00,202.30 L462.50,202.30 L463.00,202.30 L463.50,202.30 L464.00,202.30 L464.50,202.30 L465.00,202.30 L465.50,202.30 L466.00,202.30 L466.50,202.30 L467.00,202.30 L467.50,202.30 L468.00,202.30 L468.50,202.30 L469.00,202.30 L469.50,202.30 L470.00,202.30 L470.50,202.30 L471.00,202.30 L471.50,202.30 L472.00,202.30 L472.50,202.30 L473.00,202.30 L473.50,202.30 L474.00,202.30 L474.50,202.30 L475.00,202.30 L475.50,202.30 L476.00,202.30 L476.50,202.30 L477.00,202.30 L477.50,202.30 L478.00,202.30 L478.50,202.30 L479.00,202.30 L479.50,202.30 L480.00,202.30 L480.50,202.30 L481.00,202.30 L481.50,202.30 L482.00,202.30 L482.50,202.30 L483.00,202.30 L483.50,202.30 L484.00,202.30 L484.50,202.30 L485.00,202.30 L485.50,202.30 L486.00,202.30 L486.50,202.30 L487.00,202.30 L487.50,202.30 L488.00,202.30 L488.50,202.30 L489.00,202.30 L489.50,202.30 L490.00,202.30 L490.50,202.30 L491.00,202.30 L491.50,202.30 L492.00,202.30 L492.50,202.30 L493.00,202.30 L493.50,202.29 L494.00,202.28 L494.50,202.26 L495.00,202.23 L495.50,202.16 L496.00,202.04 L496.50,201.87 L497.00,201.54 L497.50,200.97 L498.00,200.08 L498.50,199.19 L499.00,197.74 L499.50,195.66 L500.00,192.64 L500.50,190.36 L501.00,186.62 L501.50,183.50 L502.00,181.05 L502.50,178.19 L503.00,176.58 L503.50,175.89 L504.00,175.62 L504.50,177.85 L505.00,180.11 L505.50,181.99 L506.00,185.67 L506.50,189.07 L507.00,191.95 L507.50,194.58 L508.00,196.24 L508.50,198.60 L509.00,199.85 L509.50,200.64 L510.00,201.29 L510.50,201.67 L511.00,201.97 L511.50,202.12 L512.00,202.21 L512.50,202.25 L513.00,202.28 L513.50,202.29 L514.00,202.30 L514.50,202.30 L515.00,202.30 L515.50,202.30 L516.00,202.30 L516.50,202.30 L516.80,202.30 Z" fill="#e6727f" stroke="#b83a4c" stroke-width="0.7" stroke-linejoin="round"/>
<line x1="443.90" y1="202.30" x2="517.40" y2="202.30" stroke="#c4606e" stroke-width="0.9"/>
<path d="M444.50,217.50 L444.50,217.50 L445.00,217.50 L445.50,217.50 L446.00,217.50 L446.50,217.50 L447.00,217.50 L447.50,217.50 L448.00,217.50 L448.50,217.50 L449.00,217.50 L449.50,217.50 L450.00,217.50 L450.50,217.50 L451.00,217.50 L451.50,217.50 L452.00,217.50 L452.50,217.50 L453.00,217.50 L453.50,217.50 L454.00,217.50 L454.50,217.50 L455.00,217.50 L455.50,217.50 L456.00,217.50 L456.50,217.50 L457.00,217.50 L457.50,217.50 L458.00,217.50 L458.50,217.50 L459.00,217.50 L459.50,217.50 L460.00,217.50 L460.50,217.50 L461.00,217.50 L461.50,217.50 L462.00,217.50 L462.50,217.50 L463.00,217.50 L463.50,217.50 L464.00,217.50 L464.50,217.50 L465.00,217.50 L465.50,217.50 L466.00,217.50 L466.50,217.50 L467.00,217.50 L467.50,217.50 L468.00,217.50 L468.50,217.50 L469.00,217.50 L469.50,217.49 L470.00,217.49 L470.50,217.49 L471.00,217.48 L471.50,217.47 L472.00,217.46 L472.50,217.44 L473.00,217.42 L473.50,217.39 L474.00,217.35 L474.50,217.29 L475.00,217.22 L475.50,217.13 L476.00,217.05 L476.50,216.92 L477.00,216.75 L477.50,216.47 L478.00,216.31 L478.50,216.01 L479.00,215.89 L479.50,215.45 L480.00,214.94 L480.50,214.61 L481.00,213.74 L481.50,212.83 L482.00,211.91 L482.50,210.33 L483.00,206.86 L483.50,204.04 L484.00,200.24 L484.50,195.68 L485.00,192.52 L485.50,190.96 L486.00,191.17 L486.50,194.09 L487.00,197.72 L487.50,201.84 L488.00,205.06 L488.50,209.43 L489.00,212.06 L489.50,213.95 L490.00,215.10 L490.50,215.85 L491.00,216.27 L491.50,216.64 L492.00,216.85 L492.50,216.98 L493.00,217.15 L493.50,217.25 L494.00,217.33 L494.50,217.38 L495.00,217.42 L495.50,217.45 L496.00,217.47 L496.50,217.48 L497.00,217.49 L497.50,217.49 L498.00,217.50 L498.50,217.50 L499.00,217.50 L499.50,217.50 L500.00,217.50 L500.50,217.50 L501.00,217.50 L501.50,217.50 L502.00,217.50 L502.50,217.50 L503.00,217.50 L503.50,217.50 L504.00,217.50 L504.50,217.50 L505.00,217.50 L505.50,217.50 L506.00,217.50 L506.50,217.50 L507.00,217.50 L507.50,217.50 L508.00,217.50 L508.50,217.50 L509.00,217.50 L509.50,217.50 L510.00,217.50 L510.50,217.50 L511.00,217.50 L511.50,217.50 L512.00,217.50 L512.50,217.50 L513.00,217.50 L513.50,217.50 L514.00,217.50 L514.50,217.50 L515.00,217.50 L515.50,217.50 L516.00,217.50 L516.50,217.50 L516.80,217.50 Z" fill="#7b9dcb" stroke="#365c94" stroke-width="0.7" stroke-linejoin="round"/>
<line x1="443.90" y1="217.50" x2="517.40" y2="217.50" stroke="#5a6c92" stroke-width="0.9"/>
<path d="M444.50,231.20 L444.50,231.20 L445.00,231.20 L445.50,231.20 L446.00,231.20 L446.50,231.20 L447.00,231.20 L447.50,231.20 L448.00,231.20 L448.50,231.20 L449.00,231.20 L449.50,231.20 L450.00,231.20 L450.50,231.20 L451.00,231.20 L451.50,231.20 L452.00,231.20 L452.50,231.20 L453.00,231.20 L453.50,231.20 L454.00,231.20 L454.50,231.20 L455.00,231.20 L455.50,231.20 L456.00,231.20 L456.50,231.20 L457.00,231.20 L457.50,231.20 L458.00,231.20 L458.50,231.20 L459.00,231.20 L459.50,231.20 L460.00,231.20 L460.50,231.20 L461.00,231.20 L461.50,231.20 L462.00,231.20 L462.50,231.20 L463.00,231.20 L463.50,231.20 L464.00,231.20 L464.50,231.20 L465.00,231.20 L465.50,231.20 L466.00,231.20 L466.50,231.20 L467.00,231.20 L467.50,231.20 L468.00,231.20 L468.50,231.20 L469.00,231.20 L469.50,231.20 L470.00,231.20 L470.50,231.20 L471.00,231.20 L471.50,231.20 L472.00,231.20 L472.50,231.20 L473.00,231.20 L473.50,231.19 L474.00,231.19 L474.50,231.17 L475.00,231.15 L475.50,231.12 L476.00,231.06 L476.50,230.96 L477.00,230.81 L477.50,230.58 L478.00,230.23 L478.50,229.70 L479.00,229.19 L479.50,228.15 L480.00,226.81 L480.50,225.28 L481.00,224.26 L481.50,221.81 L482.00,219.64 L482.50,217.41 L483.00,214.58 L483.50,212.77 L484.00,210.86 L484.50,208.77 L485.00,208.02 L485.50,207.90 L486.00,208.09 L486.50,208.73 L487.00,210.56 L487.50,211.85 L488.00,213.89 L488.50,216.54 L489.00,218.48 L489.50,220.67 L490.00,223.12 L490.50,224.82 L491.00,226.84 L491.50,228.05 L492.00,228.59 L492.50,229.59 L493.00,230.13 L493.50,230.42 L494.00,230.71 L494.50,230.91 L495.00,231.03 L495.50,231.10 L496.00,231.14 L496.50,231.17 L497.00,231.18 L497.50,231.19 L498.00,231.20 L498.50,231.20 L499.00,231.20 L499.50,231.20 L500.00,231.20 L500.50,231.20 L501.00,231.20 L501.50,231.20 L502.00,231.20 L502.50,231.20 L503.00,231.20 L503.50,231.20 L504.00,231.20 L504.50,231.20 L505.00,231.20 L505.50,231.20 L506.00,231.20 L506.50,231.20 L507.00,231.20 L507.50,231.20 L508.00,231.20 L508.50,231.20 L509.00,231.20 L509.50,231.20 L510.00,231.20 L510.50,231.20 L511.00,231.20 L511.50,231.20 L512.00,231.20 L512.50,231.20 L513.00,231.20 L513.50,231.20 L514.00,231.20 L514.50,231.20 L515.00,231.20 L515.50,231.20 L516.00,231.20 L516.50,231.20 L516.80,231.20 Z" fill="#94d99e" stroke="#45a45a" stroke-width="0.7" stroke-linejoin="round"/>
<rect x="443.90" y="156.80" width="73.50" height="74.40" fill="none" stroke="#222" stroke-width="1.1"/>
<text x="480.65" y="154.00" font-size="9.8" text-anchor="middle" fill="#111" textLength="26.20" lengthAdjust="spacingAndGlyphs">ITGA4</text>
<text x="186.80" y="183.10" font-size="7.4" text-anchor="end" textLength="24.00" lengthAdjust="spacingAndGlyphs">Isotype</text>
<text x="187.40" y="197.90" font-size="8.0" text-anchor="end" textLength="12.20" lengthAdjust="spacingAndGlyphs">WT</text>
<text x="186.80" y="213.20" font-size="7.4" text-anchor="end" textLength="31.10" lengthAdjust="spacingAndGlyphs">sgRNA-1</text>
<text x="186.80" y="227.80" font-size="7.4" text-anchor="end" textLength="31.10" lengthAdjust="spacingAndGlyphs">sgRNA-2</text>
<text x="185.20" y="243.00" font-size="7">10<tspan font-size="4.8" dy="-3.0" dx="0.3">1</tspan></text>
<text x="199.35" y="243.00" font-size="7">10<tspan font-size="4.8" dy="-3.0" dx="0.3">2</tspan></text>
<text x="213.50" y="243.00" font-size="7">10<tspan font-size="4.8" dy="-3.0" dx="0.3">3</tspan></text>
<text x="227.65" y="243.00" font-size="7">10<tspan font-size="4.8" dy="-3.0" dx="0.3">4</tspan></text>
<text x="241.80" y="243.00" font-size="7">10<tspan font-size="4.8" dy="-3.0" dx="0.3">5</tspan></text>
<text x="255.95" y="243.00" font-size="7">10<tspan font-size="4.8" dy="-3.0" dx="0.3">6</tspan></text>
<text x="270.30" y="243.00" font-size="7">10<tspan font-size="4.8" dy="-3.0" dx="0.3">1</tspan></text>
<text x="283.15" y="243.00" font-size="7">10<tspan font-size="4.8" dy="-3.0" dx="0.3">2</tspan></text>
<text x="296.00" y="243.00" font-size="7">10<tspan font-size="4.8" dy="-3.0" dx="0.3">3</tspan></text>
<text x="308.85" y="243.00" font-size="7">10<tspan font-size="4.8" dy="-3.0" dx="0.3">4</tspan></text>
<text x="321.70" y="243.00" font-size="7">10<tspan font-size="4.8" dy="-3.0" dx="0.3">5</tspan></text>
<text x="334.55" y="243.00" font-size="7">10<tspan font-size="4.8" dy="-3.0" dx="0.3">6</tspan></text>
<text x="362.10" y="243.00" font-size="7">10<tspan font-size="4.8" dy="-3.0" dx="0.3">2</tspan></text>
<text x="378.10" y="243.00" font-size="7">10<tspan font-size="4.8" dy="-3.0" dx="0.3">3</tspan></text>
<text x="394.10" y="243.00" font-size="7">10<tspan font-size="4.8" dy="-3.0" dx="0.3">4</tspan></text>
<text x="410.10" y="243.00" font-size="7">10<tspan font-size="4.8" dy="-3.0" dx="0.3">5</tspan></text>
<text x="426.10" y="243.00" font-size="7">10<tspan font-size="4.8" dy="-3.0" dx="0.3">6</tspan></text>
<text x="443.80" y="243.00" font-size="7">10<tspan font-size="4.8" dy="-3.0" dx="0.3">1</tspan></text>
<text x="456.00" y="243.00" font-size="7">10<tspan font-size="4.8" dy="-3.0" dx="0.3">2</tspan></text>
<text x="468.20" y="243.00" font-size="7">10<tspan font-size="4.8" dy="-3.0" dx="0.3">3</tspan></text>
<text x="480.40" y="243.00" font-size="7">10<tspan font-size="4.8" dy="-3.0" dx="0.3">4</tspan></text>
<text x="492.60" y="243.00" font-size="7">10<tspan font-size="4.8" dy="-3.0" dx="0.3">5</tspan></text>
<text x="504.80" y="243.00" font-size="7">10<tspan font-size="4.8" dy="-3.0" dx="0.3">6</tspan></text>
<line x1="194.96" y1="231.70" x2="194.96" y2="233.40" stroke="#333" stroke-width="0.7"/>
<line x1="197.45" y1="231.70" x2="197.45" y2="233.40" stroke="#333" stroke-width="0.7"/>
<line x1="199.22" y1="231.70" x2="199.22" y2="233.40" stroke="#333" stroke-width="0.7"/>
<line x1="200.59" y1="231.70" x2="200.59" y2="233.40" stroke="#333" stroke-width="0.7"/>
<line x1="201.71" y1="231.70" x2="201.71" y2="233.40" stroke="#333" stroke-width="0.7"/>
<line x1="202.66" y1="231.70" x2="202.66" y2="233.40" stroke="#333" stroke-width="0.7"/>
<line x1="203.48" y1="231.70" x2="203.48" y2="233.40" stroke="#333" stroke-width="0.7"/>
<line x1="204.20" y1="231.70" x2="204.20" y2="233.40" stroke="#333" stroke-width="0.7"/>
<line x1="204.85" y1="231.70" x2="204.85" y2="234.30" stroke="#333" stroke-width="0.7"/>
<line x1="209.11" y1="231.70" x2="209.11" y2="233.40" stroke="#333" stroke-width="0.7"/>
<line x1="211.60" y1="231.70" x2="211.60" y2="233.40" stroke="#333" stroke-width="0.7"/>
<line x1="213.37" y1="231.70" x2="213.37" y2="233.40" stroke="#333" stroke-width="0.7"/>
<line x1="214.74" y1="231.70" x2="214.74" y2="233.40" stroke="#333" stroke-width="0.7"/>
<line x1="215.86" y1="231.70" x2="215.86" y2="233.40" stroke="#333" stroke-width="0.7"/>
<line x1="216.81" y1="231.70" x2="216.81" y2="233.40" stroke="#333" stroke-width="0.7"/>
<line x1="217.63" y1="231.70" x2="217.63" y2="233.40" stroke="#333" stroke-width="0.7"/>
<line x1="218.35" y1="231.70" x2="218.35" y2="233.40" stroke="#333" stroke-width="0.7"/>
<line x1="219.00" y1="231.70" x2="219.00" y2="234.30" stroke="#333" stroke-width="0.7"/>
<line x1="223.26" y1="231.70" x2="223.26" y2="233.40" stroke="#333" stroke-width="0.7"/>
<line x1="225.75" y1="231.70" x2="225.75" y2="233.40" stroke="#333" stroke-width="0.7"/>
<line x1="227.52" y1="231.70" x2="227.52" y2="233.40" stroke="#333" stroke-width="0.7"/>
<line x1="228.89" y1="231.70" x2="228.89" y2="233.40" stroke="#333" stroke-width="0.7"/>
<line x1="230.01" y1="231.70" x2="230.01" y2="233.40" stroke="#333" stroke-width="0.7"/>
<line x1="230.96" y1="231.70" x2="230.96" y2="233.40" stroke="#333" stroke-width="0.7"/>
<line x1="231.78" y1="231.70" x2="231.78" y2="233.40" stroke="#333" stroke-width="0.7"/>
<line x1="232.50" y1="231.70" x2="232.50" y2="233.40" stroke="#333" stroke-width="0.7"/>
<line x1="233.15" y1="231.70" x2="233.15" y2="234.30" stroke="#333" stroke-width="0.7"/>
<line x1="237.41" y1="231.70" x2="237.41" y2="233.40" stroke="#333" stroke-width="0.7"/>
<line x1="239.90" y1="231.70" x2="239.90" y2="233.40" stroke="#333" stroke-width="0.7"/>
<line x1="241.67" y1="231.70" x2="241.67" y2="233.40" stroke="#333" stroke-width="0.7"/>
<line x1="243.04" y1="231.70" x2="243.04" y2="233.40" stroke="#333" stroke-width="0.7"/>
<line x1="244.16" y1="231.70" x2="244.16" y2="233.40" stroke="#333" stroke-width="0.7"/>
<line x1="245.11" y1="231.70" x2="245.11" y2="233.40" stroke="#333" stroke-width="0.7"/>
<line x1="245.93" y1="231.70" x2="245.93" y2="233.40" stroke="#333" stroke-width="0.7"/>
<line x1="246.65" y1="231.70" x2="246.65" y2="233.40" stroke="#333" stroke-width="0.7"/>
<line x1="247.30" y1="231.70" x2="247.30" y2="234.30" stroke="#333" stroke-width="0.7"/>
<line x1="251.56" y1="231.70" x2="251.56" y2="233.40" stroke="#333" stroke-width="0.7"/>
<line x1="254.05" y1="231.70" x2="254.05" y2="233.40" stroke="#333" stroke-width="0.7"/>
<line x1="255.82" y1="231.70" x2="255.82" y2="233.40" stroke="#333" stroke-width="0.7"/>
<line x1="257.19" y1="231.70" x2="257.19" y2="233.40" stroke="#333" stroke-width="0.7"/>
<line x1="258.31" y1="231.70" x2="258.31" y2="233.40" stroke="#333" stroke-width="0.7"/>
<line x1="259.26" y1="231.70" x2="259.26" y2="233.40" stroke="#333" stroke-width="0.7"/>
<line x1="260.08" y1="231.70" x2="260.08" y2="233.40" stroke="#333" stroke-width="0.7"/>
<line x1="260.80" y1="231.70" x2="260.80" y2="233.40" stroke="#333" stroke-width="0.7"/>
<line x1="261.45" y1="231.70" x2="261.45" y2="234.30" stroke="#333" stroke-width="0.7"/>
<line x1="279.57" y1="231.70" x2="279.57" y2="233.40" stroke="#333" stroke-width="0.7"/>
<line x1="281.83" y1="231.70" x2="281.83" y2="233.40" stroke="#333" stroke-width="0.7"/>
<line x1="283.44" y1="231.70" x2="283.44" y2="233.40" stroke="#333" stroke-width="0.7"/>
<line x1="284.68" y1="231.70" x2="284.68" y2="233.40" stroke="#333" stroke-width="0.7"/>
<line x1="285.70" y1="231.70" x2="285.70" y2="233.40" stroke="#333" stroke-width="0.7"/>
<line x1="286.56" y1="231.70" x2="286.56" y2="233.40" stroke="#333" stroke-width="0.7"/>
<line x1="287.30" y1="231.70" x2="287.30" y2="233.40" stroke="#333" stroke-width="0.7"/>
<line x1="287.96" y1="231.70" x2="287.96" y2="233.40" stroke="#333" stroke-width="0.7"/>
<line x1="288.55" y1="231.70" x2="288.55" y2="234.30" stroke="#333" stroke-width="0.7"/>
<line x1="292.42" y1="231.70" x2="292.42" y2="233.40" stroke="#333" stroke-width="0.7"/>
<line x1="294.68" y1="231.70" x2="294.68" y2="233.40" stroke="#333" stroke-width="0.7"/>
<line x1="296.29" y1="231.70" x2="296.29" y2="233.40" stroke="#333" stroke-width="0.7"/>
<line x1="297.53" y1="231.70" x2="297.53" y2="233.40" stroke="#333" stroke-width="0.7"/>
<line x1="298.55" y1="231.70" x2="298.55" y2="233.40" stroke="#333" stroke-width="0.7"/>
<line x1="299.41" y1="231.70" x2="299.41" y2="233.40" stroke="#333" stroke-width="0.7"/>
<line x1="300.15" y1="231.70" x2="300.15" y2="233.40" stroke="#333" stroke-width="0.7"/>
<line x1="300.81" y1="231.70" x2="300.81" y2="233.40" stroke="#333" stroke-width="0.7"/>
<line x1="301.40" y1="231.70" x2="301.40" y2="234.30" stroke="#333" stroke-width="0.7"/>
<line x1="305.27" y1="231.70" x2="305.27" y2="233.40" stroke="#333" stroke-width="0.7"/>
<line x1="307.53" y1="231.70" x2="307.53" y2="233.40" stroke="#333" stroke-width="0.7"/>
<line x1="309.14" y1="231.70" x2="309.14" y2="233.40" stroke="#333" stroke-width="0.7"/>
<line x1="310.38" y1="231.70" x2="310.38" y2="233.40" stroke="#333" stroke-width="0.7"/>
<line x1="311.40" y1="231.70" x2="311.40" y2="233.40" stroke="#333" stroke-width="0.7"/>
<line x1="312.26" y1="231.70" x2="312.26" y2="233.40" stroke="#333" stroke-width="0.7"/>
<line x1="313.00" y1="231.70" x2="313.00" y2="233.40" stroke="#333" stroke-width="0.7"/>
<line x1="313.66" y1="231.70" x2="313.66" y2="233.40" stroke="#333" stroke-width="0.7"/>
<line x1="314.25" y1="231.70" x2="314.25" y2="234.30" stroke="#333" stroke-width="0.7"/>
<line x1="318.12" y1="231.70" x2="318.12" y2="233.40" stroke="#333" stroke-width="0.7"/>
<line x1="320.38" y1="231.70" x2="320.38" y2="233.40" stroke="#333" stroke-width="0.7"/>
<line x1="321.99" y1="231.70" x2="321.99" y2="233.40" stroke="#333" stroke-width="0.7"/>
<line x1="323.23" y1="231.70" x2="323.23" y2="233.40" stroke="#333" stroke-width="0.7"/>
<line x1="324.25" y1="231.70" x2="324.25" y2="233.40" stroke="#333" stroke-width="0.7"/>
<line x1="325.11" y1="231.70" x2="325.11" y2="233.40" stroke="#333" stroke-width="0.7"/>
<line x1="325.85" y1="231.70" x2="325.85" y2="233.40" stroke="#333" stroke-width="0.7"/>
<line x1="326.51" y1="231.70" x2="326.51" y2="233.40" stroke="#333" stroke-width="0.7"/>
<line x1="327.10" y1="231.70" x2="327.10" y2="234.30" stroke="#333" stroke-width="0.7"/>
<line x1="330.97" y1="231.70" x2="330.97" y2="233.40" stroke="#333" stroke-width="0.7"/>
<line x1="333.23" y1="231.70" x2="333.23" y2="233.40" stroke="#333" stroke-width="0.7"/>
<line x1="334.84" y1="231.70" x2="334.84" y2="233.40" stroke="#333" stroke-width="0.7"/>
<line x1="336.08" y1="231.70" x2="336.08" y2="233.40" stroke="#333" stroke-width="0.7"/>
<line x1="337.10" y1="231.70" x2="337.10" y2="233.40" stroke="#333" stroke-width="0.7"/>
<line x1="337.96" y1="231.70" x2="337.96" y2="233.40" stroke="#333" stroke-width="0.7"/>
<line x1="338.70" y1="231.70" x2="338.70" y2="233.40" stroke="#333" stroke-width="0.7"/>
<line x1="339.36" y1="231.70" x2="339.36" y2="233.40" stroke="#333" stroke-width="0.7"/>
<line x1="339.95" y1="231.70" x2="339.95" y2="234.30" stroke="#333" stroke-width="0.7"/>
<line x1="343.82" y1="231.70" x2="343.82" y2="233.40" stroke="#333" stroke-width="0.7"/>
<line x1="346.08" y1="231.70" x2="346.08" y2="233.40" stroke="#333" stroke-width="0.7"/>
<line x1="347.69" y1="231.70" x2="347.69" y2="233.40" stroke="#333" stroke-width="0.7"/>
<line x1="348.93" y1="231.70" x2="348.93" y2="233.40" stroke="#333" stroke-width="0.7"/>
<line x1="361.03" y1="231.70" x2="361.03" y2="233.40" stroke="#333" stroke-width="0.7"/>
<line x1="362.58" y1="231.70" x2="362.58" y2="233.40" stroke="#333" stroke-width="0.7"/>
<line x1="363.85" y1="231.70" x2="363.85" y2="233.40" stroke="#333" stroke-width="0.7"/>
<line x1="364.92" y1="231.70" x2="364.92" y2="233.40" stroke="#333" stroke-width="0.7"/>
<line x1="365.85" y1="231.70" x2="365.85" y2="233.40" stroke="#333" stroke-width="0.7"/>
<line x1="366.67" y1="231.70" x2="366.67" y2="233.40" stroke="#333" stroke-width="0.7"/>
<line x1="367.40" y1="231.70" x2="367.40" y2="234.30" stroke="#333" stroke-width="0.7"/>
<line x1="372.22" y1="231.70" x2="372.22" y2="233.40" stroke="#333" stroke-width="0.7"/>
<line x1="375.03" y1="231.70" x2="375.03" y2="233.40" stroke="#333" stroke-width="0.7"/>
<line x1="377.03" y1="231.70" x2="377.03" y2="233.40" stroke="#333" stroke-width="0.7"/>
<line x1="378.58" y1="231.70" x2="378.58" y2="233.40" stroke="#333" stroke-width="0.7"/>
<line x1="379.85" y1="231.70" x2="379.85" y2="233.40" stroke="#333" stroke-width="0.7"/>
<line x1="380.92" y1="231.70" x2="380.92" y2="233.40" stroke="#333" stroke-width="0.7"/>
<line x1="381.85" y1="231.70" x2="381.85" y2="233.40" stroke="#333" stroke-width="0.7"/>
<line x1="382.67" y1="231.70" x2="382.67" y2="233.40" stroke="#333" stroke-width="0.7"/>
<line x1="383.40" y1="231.70" x2="383.40" y2="234.30" stroke="#333" stroke-width="0.7"/>
<line x1="388.22" y1="231.70" x2="388.22" y2="233.40" stroke="#333" stroke-width="0.7"/>
<line x1="391.03" y1="231.70" x2="391.03" y2="233.40" stroke="#333" stroke-width="0.7"/>
<line x1="393.03" y1="231.70" x2="393.03" y2="233.40" stroke="#333" stroke-width="0.7"/>
<line x1="394.58" y1="231.70" x2="394.58" y2="233.40" stroke="#333" stroke-width="0.7"/>
<line x1="395.85" y1="231.70" x2="395.85" y2="233.40" stroke="#333" stroke-width="0.7"/>
<line x1="396.92" y1="231.70" x2="396.92" y2="233.40" stroke="#333" stroke-width="0.7"/>
<line x1="397.85" y1="231.70" x2="397.85" y2="233.40" stroke="#333" stroke-width="0.7"/>
<line x1="398.67" y1="231.70" x2="398.67" y2="233.40" stroke="#333" stroke-width="0.7"/>
<line x1="399.40" y1="231.70" x2="399.40" y2="234.30" stroke="#333" stroke-width="0.7"/>
<line x1="404.22" y1="231.70" x2="404.22" y2="233.40" stroke="#333" stroke-width="0.7"/>
<line x1="407.03" y1="231.70" x2="407.03" y2="233.40" stroke="#333" stroke-width="0.7"/>
<line x1="409.03" y1="231.70" x2="409.03" y2="233.40" stroke="#333" stroke-width="0.7"/>
<line x1="410.58" y1="231.70" x2="410.58" y2="233.40" stroke="#333" stroke-width="0.7"/>
<line x1="411.85" y1="231.70" x2="411.85" y2="233.40" stroke="#333" stroke-width="0.7"/>
<line x1="412.92" y1="231.70" x2="412.92" y2="233.40" stroke="#333" stroke-width="0.7"/>
<line x1="413.85" y1="231.70" x2="413.85" y2="233.40" stroke="#333" stroke-width="0.7"/>
<line x1="414.67" y1="231.70" x2="414.67" y2="233.40" stroke="#333" stroke-width="0.7"/>
<line x1="415.40" y1="231.70" x2="415.40" y2="234.30" stroke="#333" stroke-width="0.7"/>
<line x1="420.22" y1="231.70" x2="420.22" y2="233.40" stroke="#333" stroke-width="0.7"/>
<line x1="423.03" y1="231.70" x2="423.03" y2="233.40" stroke="#333" stroke-width="0.7"/>
<line x1="425.03" y1="231.70" x2="425.03" y2="233.40" stroke="#333" stroke-width="0.7"/>
<line x1="426.58" y1="231.70" x2="426.58" y2="233.40" stroke="#333" stroke-width="0.7"/>
<line x1="427.85" y1="231.70" x2="427.85" y2="233.40" stroke="#333" stroke-width="0.7"/>
<line x1="428.92" y1="231.70" x2="428.92" y2="233.40" stroke="#333" stroke-width="0.7"/>
<line x1="429.85" y1="231.70" x2="429.85" y2="233.40" stroke="#333" stroke-width="0.7"/>
<line x1="430.67" y1="231.70" x2="430.67" y2="233.40" stroke="#333" stroke-width="0.7"/>
<line x1="431.40" y1="231.70" x2="431.40" y2="234.30" stroke="#333" stroke-width="0.7"/>
<line x1="445.53" y1="231.70" x2="445.53" y2="233.40" stroke="#333" stroke-width="0.7"/>
<line x1="446.49" y1="231.70" x2="446.49" y2="233.40" stroke="#333" stroke-width="0.7"/>
<line x1="447.31" y1="231.70" x2="447.31" y2="233.40" stroke="#333" stroke-width="0.7"/>
<line x1="448.02" y1="231.70" x2="448.02" y2="233.40" stroke="#333" stroke-width="0.7"/>
<line x1="448.64" y1="231.70" x2="448.64" y2="233.40" stroke="#333" stroke-width="0.7"/>
<line x1="449.20" y1="231.70" x2="449.20" y2="234.30" stroke="#333" stroke-width="0.7"/>
<line x1="452.87" y1="231.70" x2="452.87" y2="233.40" stroke="#333" stroke-width="0.7"/>
<line x1="455.02" y1="231.70" x2="455.02" y2="233.40" stroke="#333" stroke-width="0.7"/>
<line x1="456.55" y1="231.70" x2="456.55" y2="233.40" stroke="#333" stroke-width="0.7"/>
<line x1="457.73" y1="231.70" x2="457.73" y2="233.40" stroke="#333" stroke-width="0.7"/>
<line x1="458.69" y1="231.70" x2="458.69" y2="233.40" stroke="#333" stroke-width="0.7"/>
<line x1="459.51" y1="231.70" x2="459.51" y2="233.40" stroke="#333" stroke-width="0.7"/>
<line x1="460.22" y1="231.70" x2="460.22" y2="233.40" stroke="#333" stroke-width="0.7"/>
<line x1="460.84" y1="231.70" x2="460.84" y2="233.40" stroke="#333" stroke-width="0.7"/>
<line x1="461.40" y1="231.70" x2="461.40" y2="234.30" stroke="#333" stroke-width="0.7"/>
<line x1="465.07" y1="231.70" x2="465.07" y2="233.40" stroke="#333" stroke-width="0.7"/>
<line x1="467.22" y1="231.70" x2="467.22" y2="233.40" stroke="#333" stroke-width="0.7"/>
<line x1="468.75" y1="231.70" x2="468.75" y2="233.40" stroke="#333" stroke-width="0.7"/>
<line x1="469.93" y1="231.70" x2="469.93" y2="233.40" stroke="#333" stroke-width="0.7"/>
<line x1="470.89" y1="231.70" x2="470.89" y2="233.40" stroke="#333" stroke-width="0.7"/>
<line x1="471.71" y1="231.70" x2="471.71" y2="233.40" stroke="#333" stroke-width="0.7"/>
<line x1="472.42" y1="231.70" x2="472.42" y2="233.40" stroke="#333" stroke-width="0.7"/>
<line x1="473.04" y1="231.70" x2="473.04" y2="233.40" stroke="#333" stroke-width="0.7"/>
<line x1="473.60" y1="231.70" x2="473.60" y2="234.30" stroke="#333" stroke-width="0.7"/>
<line x1="477.27" y1="231.70" x2="477.27" y2="233.40" stroke="#333" stroke-width="0.7"/>
<line x1="479.42" y1="231.70" x2="479.42" y2="233.40" stroke="#333" stroke-width="0.7"/>
<line x1="480.95" y1="231.70" x2="480.95" y2="233.40" stroke="#333" stroke-width="0.7"/>
<line x1="482.13" y1="231.70" x2="482.13" y2="233.40" stroke="#333" stroke-width="0.7"/>
<line x1="483.09" y1="231.70" x2="483.09" y2="233.40" stroke="#333" stroke-width="0.7"/>
<line x1="483.91" y1="231.70" x2="483.91" y2="233.40" stroke="#333" stroke-width="0.7"/>
<line x1="484.62" y1="231.70" x2="484.62" y2="233.40" stroke="#333" stroke-width="0.7"/>
<line x1="485.24" y1="231.70" x2="485.24" y2="233.40" stroke="#333" stroke-width="0.7"/>
<line x1="485.80" y1="231.70" x2="485.80" y2="234.30" stroke="#333" stroke-width="0.7"/>
<line x1="489.47" y1="231.70" x2="489.47" y2="233.40" stroke="#333" stroke-width="0.7"/>
<line x1="491.62" y1="231.70" x2="491.62" y2="233.40" stroke="#333" stroke-width="0.7"/>
<line x1="493.15" y1="231.70" x2="493.15" y2="233.40" stroke="#333" stroke-width="0.7"/>
<line x1="494.33" y1="231.70" x2="494.33" y2="233.40" stroke="#333" stroke-width="0.7"/>
<line x1="495.29" y1="231.70" x2="495.29" y2="233.40" stroke="#333" stroke-width="0.7"/>
<line x1="496.11" y1="231.70" x2="496.11" y2="233.40" stroke="#333" stroke-width="0.7"/>
<line x1="496.82" y1="231.70" x2="496.82" y2="233.40" stroke="#333" stroke-width="0.7"/>
<line x1="497.44" y1="231.70" x2="497.44" y2="233.40" stroke="#333" stroke-width="0.7"/>
<line x1="498.00" y1="231.70" x2="498.00" y2="234.30" stroke="#333" stroke-width="0.7"/>
<line x1="501.67" y1="231.70" x2="501.67" y2="233.40" stroke="#333" stroke-width="0.7"/>
<line x1="503.82" y1="231.70" x2="503.82" y2="233.40" stroke="#333" stroke-width="0.7"/>
<line x1="505.35" y1="231.70" x2="505.35" y2="233.40" stroke="#333" stroke-width="0.7"/>
<line x1="506.53" y1="231.70" x2="506.53" y2="233.40" stroke="#333" stroke-width="0.7"/>
<line x1="507.49" y1="231.70" x2="507.49" y2="233.40" stroke="#333" stroke-width="0.7"/>
<line x1="508.31" y1="231.70" x2="508.31" y2="233.40" stroke="#333" stroke-width="0.7"/>
<line x1="509.02" y1="231.70" x2="509.02" y2="233.40" stroke="#333" stroke-width="0.7"/>
<line x1="509.64" y1="231.70" x2="509.64" y2="233.40" stroke="#333" stroke-width="0.7"/>
<line x1="510.20" y1="231.70" x2="510.20" y2="234.30" stroke="#333" stroke-width="0.7"/>
<line x1="513.87" y1="231.70" x2="513.87" y2="233.40" stroke="#333" stroke-width="0.7"/>
<line x1="516.02" y1="231.70" x2="516.02" y2="233.40" stroke="#333" stroke-width="0.7"/>
<line x1="34.50" y1="283.10" x2="34.50" y2="368.60" stroke="#1a1a1a" stroke-width="1.1"/>
<line x1="34.00" y1="368.60" x2="107.50" y2="368.60" stroke="#1a1a1a" stroke-width="1.1"/>
<line x1="30.90" y1="368.00" x2="34.50" y2="368.00" stroke="#1a1a1a" stroke-width="1.0"/>
<text x="28.60" y="370.80" font-size="8.0" text-anchor="end" fill="#222">0.0</text>
<line x1="30.90" y1="347.65" x2="34.50" y2="347.65" stroke="#1a1a1a" stroke-width="1.0"/>
<text x="28.60" y="350.45" font-size="8.0" text-anchor="end" fill="#222">0.5</text>
<line x1="30.90" y1="327.30" x2="34.50" y2="327.30" stroke="#1a1a1a" stroke-width="1.0"/>
<text x="28.60" y="330.10" font-size="8.0" text-anchor="end" fill="#222">1.0</text>
<line x1="30.90" y1="306.95" x2="34.50" y2="306.95" stroke="#1a1a1a" stroke-width="1.0"/>
<text x="28.60" y="309.75" font-size="8.0" text-anchor="end" fill="#222">1.5</text>
<line x1="30.90" y1="286.60" x2="34.50" y2="286.60" stroke="#1a1a1a" stroke-width="1.0"/>
<text x="28.60" y="289.40" font-size="8.0" text-anchor="end" fill="#222">2.0</text>
<line x1="46.90" y1="368.60" x2="46.90" y2="371.40" stroke="#1a1a1a" stroke-width="1.0"/>
<text x="46.90" y="380.60" font-size="8.4" text-anchor="middle" fill="#222">0</text>
<line x1="65.80" y1="368.60" x2="65.80" y2="371.40" stroke="#1a1a1a" stroke-width="1.0"/>
<text x="65.80" y="380.60" font-size="8.4" text-anchor="middle" fill="#222">1</text>
<line x1="84.60" y1="368.60" x2="84.60" y2="371.40" stroke="#1a1a1a" stroke-width="1.0"/>
<text x="84.60" y="380.60" font-size="8.4" text-anchor="middle" fill="#222">3</text>
<line x1="103.50" y1="368.60" x2="103.50" y2="371.40" stroke="#1a1a1a" stroke-width="1.0"/>
<text x="103.50" y="380.60" font-size="8.4" text-anchor="middle" fill="#222">5</text>
<text x="75.80" y="392.90" font-size="8.8" text-anchor="middle" fill="#222" textLength="52.80" lengthAdjust="spacingAndGlyphs" class="th">Days in co-culture</text>
<text x="11.70" y="325.40" font-size="8.6" text-anchor="middle" fill="#222" textLength="58.60" lengthAdjust="spacingAndGlyphs" transform="rotate(-90 11.70 325.40)" class="th">Ratio of CD58<tspan font-size="5.6" dy="-2.8">KO</tspan><tspan dy="2.8">/WT</tspan></text>
<path d="M46.90,327.30 L65.80,326.49 L84.60,328.72 L103.50,329.74" fill="none" stroke="#c8193f" stroke-width="2.0" stroke-linejoin="round"/>
<rect x="44.80" y="325.20" width="4.20" height="4.20" fill="#c8193f"/>
<rect x="63.70" y="324.39" width="4.20" height="4.20" fill="#c8193f"/>
<line x1="84.60" y1="327.50" x2="84.60" y2="329.95" stroke="#c8193f" stroke-width="0.9"/>
<line x1="83.10" y1="327.50" x2="86.10" y2="327.50" stroke="#c8193f" stroke-width="0.9"/>
<line x1="83.10" y1="329.95" x2="86.10" y2="329.95" stroke="#c8193f" stroke-width="0.9"/>
<rect x="82.50" y="326.62" width="4.20" height="4.20" fill="#c8193f"/>
<line x1="103.50" y1="328.32" x2="103.50" y2="331.17" stroke="#c8193f" stroke-width="0.9"/>
<line x1="102.00" y1="328.32" x2="105.00" y2="328.32" stroke="#c8193f" stroke-width="0.9"/>
<line x1="102.00" y1="331.17" x2="105.00" y2="331.17" stroke="#c8193f" stroke-width="0.9"/>
<rect x="101.40" y="327.64" width="4.20" height="4.20" fill="#c8193f"/>
<path d="M46.90,327.30 L65.80,311.63 L84.60,299.01 L103.50,296.37" fill="none" stroke="#1f4e7a" stroke-width="1.7" stroke-linejoin="round"/>
<circle cx="46.90" cy="327.30" r="1.50" fill="#1f4e7a"/>
<line x1="65.80" y1="310.82" x2="65.80" y2="312.44" stroke="#1f4e7a" stroke-width="0.9"/>
<line x1="64.30" y1="310.82" x2="67.30" y2="310.82" stroke="#1f4e7a" stroke-width="0.9"/>
<line x1="64.30" y1="312.44" x2="67.30" y2="312.44" stroke="#1f4e7a" stroke-width="0.9"/>
<circle cx="65.80" cy="311.63" r="1.50" fill="#1f4e7a"/>
<line x1="84.60" y1="295.35" x2="84.60" y2="302.68" stroke="#1f4e7a" stroke-width="0.9"/>
<line x1="83.10" y1="295.35" x2="86.10" y2="295.35" stroke="#1f4e7a" stroke-width="0.9"/>
<line x1="83.10" y1="302.68" x2="86.10" y2="302.68" stroke="#1f4e7a" stroke-width="0.9"/>
<circle cx="84.60" cy="299.01" r="1.50" fill="#1f4e7a"/>
<line x1="103.50" y1="292.70" x2="103.50" y2="300.03" stroke="#1f4e7a" stroke-width="0.9"/>
<line x1="102.00" y1="292.70" x2="105.00" y2="292.70" stroke="#1f4e7a" stroke-width="0.9"/>
<line x1="102.00" y1="300.03" x2="105.00" y2="300.03" stroke="#1f4e7a" stroke-width="0.9"/>
<circle cx="103.50" cy="296.37" r="1.50" fill="#1f4e7a"/>
<text x="45.20" y="322.80" font-size="7.6" text-anchor="middle" fill="#333">ns</text>
<text x="65.80" y="308.00" font-size="6.0" text-anchor="middle" font-weight="bold" fill="#222">**</text>
<text x="84.60" y="293.60" font-size="6.0" text-anchor="middle" font-weight="bold" fill="#222">***</text>
<text x="103.50" y="290.60" font-size="6.0" text-anchor="middle" font-weight="bold" fill="#222">***</text>
<line x1="169.90" y1="282.80" x2="169.90" y2="368.90" stroke="#1a1a1a" stroke-width="1.1"/>
<line x1="169.40" y1="368.90" x2="245.50" y2="368.90" stroke="#1a1a1a" stroke-width="1.1"/>
<line x1="166.30" y1="368.30" x2="169.90" y2="368.30" stroke="#1a1a1a" stroke-width="1.0"/>
<text x="164.00" y="371.10" font-size="8.0" text-anchor="end" fill="#222">0</text>
<line x1="166.30" y1="327.30" x2="169.90" y2="327.30" stroke="#1a1a1a" stroke-width="1.0"/>
<text x="164.00" y="330.10" font-size="8.0" text-anchor="end" fill="#222">1</text>
<line x1="166.30" y1="286.30" x2="169.90" y2="286.30" stroke="#1a1a1a" stroke-width="1.0"/>
<text x="164.00" y="289.10" font-size="8.0" text-anchor="end" fill="#222">2</text>
<line x1="179.70" y1="368.90" x2="179.70" y2="371.70" stroke="#1a1a1a" stroke-width="1.0"/>
<text x="179.70" y="380.60" font-size="8.4" text-anchor="middle" fill="#222">0</text>
<line x1="200.10" y1="368.90" x2="200.10" y2="371.70" stroke="#1a1a1a" stroke-width="1.0"/>
<text x="200.10" y="380.60" font-size="8.4" text-anchor="middle" fill="#222">1</text>
<line x1="220.90" y1="368.90" x2="220.90" y2="371.70" stroke="#1a1a1a" stroke-width="1.0"/>
<text x="220.90" y="380.60" font-size="8.4" text-anchor="middle" fill="#222">2</text>
<line x1="241.50" y1="368.90" x2="241.50" y2="371.70" stroke="#1a1a1a" stroke-width="1.0"/>
<text x="241.50" y="380.60" font-size="8.4" text-anchor="middle" fill="#222">3</text>
<text x="211.20" y="392.90" font-size="8.8" text-anchor="middle" fill="#222" textLength="52.80" lengthAdjust="spacingAndGlyphs" class="th">Days in co-culture</text>
<text x="153.80" y="324.40" font-size="8.6" text-anchor="middle" fill="#222" textLength="60.60" lengthAdjust="spacingAndGlyphs" transform="rotate(-90 153.80 324.40)" class="th">Ratio of CD81<tspan font-size="5.6" dy="-2.8">KO</tspan><tspan dy="2.8">/WT</tspan></text>
<path d="M179.70,327.30 L200.10,326.07 L220.90,330.58 L241.50,330.58" fill="none" stroke="#c8193f" stroke-width="2.0" stroke-linejoin="round"/>
<rect x="177.60" y="325.20" width="4.20" height="4.20" fill="#c8193f"/>
<line x1="200.10" y1="321.15" x2="200.10" y2="330.99" stroke="#c8193f" stroke-width="0.9"/>
<line x1="198.60" y1="321.15" x2="201.60" y2="321.15" stroke="#c8193f" stroke-width="0.9"/>
<line x1="198.60" y1="330.99" x2="201.60" y2="330.99" stroke="#c8193f" stroke-width="0.9"/>
<rect x="198.00" y="323.97" width="4.20" height="4.20" fill="#c8193f"/>
<line x1="220.90" y1="329.35" x2="220.90" y2="331.81" stroke="#c8193f" stroke-width="0.9"/>
<line x1="219.40" y1="329.35" x2="222.40" y2="329.35" stroke="#c8193f" stroke-width="0.9"/>
<line x1="219.40" y1="331.81" x2="222.40" y2="331.81" stroke="#c8193f" stroke-width="0.9"/>
<rect x="218.80" y="328.48" width="4.20" height="4.20" fill="#c8193f"/>
<line x1="241.50" y1="329.35" x2="241.50" y2="331.81" stroke="#c8193f" stroke-width="0.9"/>
<line x1="240.00" y1="329.35" x2="243.00" y2="329.35" stroke="#c8193f" stroke-width="0.9"/>
<line x1="240.00" y1="331.81" x2="243.00" y2="331.81" stroke="#c8193f" stroke-width="0.9"/>
<rect x="239.40" y="328.48" width="4.20" height="4.20" fill="#c8193f"/>
<path d="M179.70,327.30 L200.10,312.13 L220.90,300.24 L241.50,294.50" fill="none" stroke="#1f4e7a" stroke-width="1.7" stroke-linejoin="round"/>
<circle cx="179.70" cy="327.30" r="1.50" fill="#1f4e7a"/>
<line x1="200.10" y1="305.57" x2="200.10" y2="318.69" stroke="#1f4e7a" stroke-width="0.9"/>
<line x1="198.60" y1="305.57" x2="201.60" y2="305.57" stroke="#1f4e7a" stroke-width="0.9"/>
<line x1="198.60" y1="318.69" x2="201.60" y2="318.69" stroke="#1f4e7a" stroke-width="0.9"/>
<circle cx="200.10" cy="312.13" r="1.50" fill="#1f4e7a"/>
<line x1="220.90" y1="294.91" x2="220.90" y2="305.57" stroke="#1f4e7a" stroke-width="0.9"/>
<line x1="219.40" y1="294.91" x2="222.40" y2="294.91" stroke="#1f4e7a" stroke-width="0.9"/>
<line x1="219.40" y1="305.57" x2="222.40" y2="305.57" stroke="#1f4e7a" stroke-width="0.9"/>
<circle cx="220.90" cy="300.24" r="1.50" fill="#1f4e7a"/>
<line x1="241.50" y1="287.94" x2="241.50" y2="301.06" stroke="#1f4e7a" stroke-width="0.9"/>
<line x1="240.00" y1="287.94" x2="243.00" y2="287.94" stroke="#1f4e7a" stroke-width="0.9"/>
<line x1="240.00" y1="301.06" x2="243.00" y2="301.06" stroke="#1f4e7a" stroke-width="0.9"/>
<circle cx="241.50" cy="294.50" r="1.50" fill="#1f4e7a"/>
<text x="178.50" y="323.40" font-size="7.6" text-anchor="middle" fill="#333">ns</text>
<text x="200.60" y="302.50" font-size="7.6" text-anchor="middle" fill="#333">ns</text>
<text x="220.90" y="293.30" font-size="6.0" text-anchor="middle" font-weight="bold" fill="#222">***</text>
<text x="241.40" y="286.60" font-size="6.0" text-anchor="middle" font-weight="bold" fill="#222">***</text>
<line x1="304.60" y1="283.80" x2="304.60" y2="369.10" stroke="#1a1a1a" stroke-width="1.1"/>
<line x1="304.10" y1="369.10" x2="376.50" y2="369.10" stroke="#1a1a1a" stroke-width="1.1"/>
<line x1="301.00" y1="368.50" x2="304.60" y2="368.50" stroke="#1a1a1a" stroke-width="1.0"/>
<text x="298.70" y="371.30" font-size="8.0" text-anchor="end" fill="#222">0</text>
<line x1="301.00" y1="327.90" x2="304.60" y2="327.90" stroke="#1a1a1a" stroke-width="1.0"/>
<text x="298.70" y="330.70" font-size="8.0" text-anchor="end" fill="#222">1</text>
<line x1="301.00" y1="287.30" x2="304.60" y2="287.30" stroke="#1a1a1a" stroke-width="1.0"/>
<text x="298.70" y="290.10" font-size="8.0" text-anchor="end" fill="#222">2</text>
<line x1="318.30" y1="369.10" x2="318.30" y2="371.90" stroke="#1a1a1a" stroke-width="1.0"/>
<text x="318.30" y="380.60" font-size="8.4" text-anchor="middle" fill="#222">0</text>
<line x1="345.40" y1="369.10" x2="345.40" y2="371.90" stroke="#1a1a1a" stroke-width="1.0"/>
<text x="345.40" y="380.60" font-size="8.4" text-anchor="middle" fill="#222">1</text>
<line x1="372.40" y1="369.10" x2="372.40" y2="371.90" stroke="#1a1a1a" stroke-width="1.0"/>
<text x="372.40" y="380.60" font-size="8.4" text-anchor="middle" fill="#222">2</text>
<text x="345.95" y="392.90" font-size="8.8" text-anchor="middle" fill="#222" textLength="52.80" lengthAdjust="spacingAndGlyphs" class="th">Days in co-culture</text>
<text x="290.60" y="325.40" font-size="8.6" text-anchor="middle" fill="#222" textLength="62.60" lengthAdjust="spacingAndGlyphs" transform="rotate(-90 290.60 325.40)" class="th">Ratio of ICAM1<tspan font-size="5.6" dy="-2.8">KO</tspan><tspan dy="2.8">/WT</tspan></text>
<path d="M318.30,332.57 L345.40,335.41 L372.40,336.02" fill="none" stroke="#c8193f" stroke-width="2.0" stroke-linejoin="round"/>
<rect x="316.20" y="330.47" width="4.20" height="4.20" fill="#c8193f"/>
<line x1="345.40" y1="333.99" x2="345.40" y2="336.83" stroke="#c8193f" stroke-width="0.9"/>
<line x1="343.90" y1="333.99" x2="346.90" y2="333.99" stroke="#c8193f" stroke-width="0.9"/>
<line x1="343.90" y1="336.83" x2="346.90" y2="336.83" stroke="#c8193f" stroke-width="0.9"/>
<rect x="343.30" y="333.31" width="4.20" height="4.20" fill="#c8193f"/>
<line x1="372.40" y1="335.21" x2="372.40" y2="336.83" stroke="#c8193f" stroke-width="0.9"/>
<line x1="370.90" y1="335.21" x2="373.90" y2="335.21" stroke="#c8193f" stroke-width="0.9"/>
<line x1="370.90" y1="336.83" x2="373.90" y2="336.83" stroke="#c8193f" stroke-width="0.9"/>
<rect x="370.30" y="333.92" width="4.20" height="4.20" fill="#c8193f"/>
<path d="M318.30,332.57 L345.40,345.15 L372.40,345.56" fill="none" stroke="#1f4e7a" stroke-width="1.7" stroke-linejoin="round"/>
<circle cx="318.30" cy="332.57" r="1.50" fill="#1f4e7a"/>
<line x1="345.40" y1="342.31" x2="345.40" y2="348.00" stroke="#1f4e7a" stroke-width="0.9"/>
<line x1="343.90" y1="342.31" x2="346.90" y2="342.31" stroke="#1f4e7a" stroke-width="0.9"/>
<line x1="343.90" y1="348.00" x2="346.90" y2="348.00" stroke="#1f4e7a" stroke-width="0.9"/>
<circle cx="345.40" cy="345.15" r="1.50" fill="#1f4e7a"/>
<line x1="372.40" y1="340.28" x2="372.40" y2="350.84" stroke="#1f4e7a" stroke-width="0.9"/>
<line x1="370.90" y1="340.28" x2="373.90" y2="340.28" stroke="#1f4e7a" stroke-width="0.9"/>
<line x1="370.90" y1="350.84" x2="373.90" y2="350.84" stroke="#1f4e7a" stroke-width="0.9"/>
<circle cx="372.40" cy="345.56" r="1.50" fill="#1f4e7a"/>
<text x="318.60" y="328.90" font-size="7.6" text-anchor="middle" fill="#333">ns</text>
<text x="345.40" y="332.60" font-size="6.0" text-anchor="middle" font-weight="bold" fill="#222">*</text>
<text x="372.40" y="334.00" font-size="6.0" text-anchor="middle" font-weight="bold" fill="#222">*</text>
<line x1="438.30" y1="283.40" x2="438.30" y2="369.10" stroke="#1a1a1a" stroke-width="1.1"/>
<line x1="437.80" y1="369.10" x2="510.50" y2="369.10" stroke="#1a1a1a" stroke-width="1.1"/>
<line x1="434.70" y1="368.50" x2="438.30" y2="368.50" stroke="#1a1a1a" stroke-width="1.0"/>
<text x="432.40" y="371.30" font-size="8.0" text-anchor="end" fill="#222">0</text>
<line x1="434.70" y1="327.70" x2="438.30" y2="327.70" stroke="#1a1a1a" stroke-width="1.0"/>
<text x="432.40" y="330.50" font-size="8.0" text-anchor="end" fill="#222">1</text>
<line x1="434.70" y1="286.90" x2="438.30" y2="286.90" stroke="#1a1a1a" stroke-width="1.0"/>
<text x="432.40" y="289.70" font-size="8.0" text-anchor="end" fill="#222">2</text>
<line x1="452.20" y1="369.10" x2="452.20" y2="371.90" stroke="#1a1a1a" stroke-width="1.0"/>
<text x="452.20" y="380.60" font-size="8.4" text-anchor="middle" fill="#222">0</text>
<line x1="478.80" y1="369.10" x2="478.80" y2="371.90" stroke="#1a1a1a" stroke-width="1.0"/>
<text x="478.80" y="380.60" font-size="8.4" text-anchor="middle" fill="#222">1</text>
<line x1="505.70" y1="369.10" x2="505.70" y2="371.90" stroke="#1a1a1a" stroke-width="1.0"/>
<text x="505.70" y="380.60" font-size="8.4" text-anchor="middle" fill="#222">2</text>
<text x="479.55" y="392.90" font-size="8.8" text-anchor="middle" fill="#222" textLength="52.80" lengthAdjust="spacingAndGlyphs" class="th">Days in co-culture</text>
<text x="424.30" y="324.90" font-size="8.6" text-anchor="middle" fill="#222" textLength="61.60" lengthAdjust="spacingAndGlyphs" transform="rotate(-90 424.30 324.90)" class="th">Ratio of ITGA4<tspan font-size="5.6" dy="-2.8">KO</tspan><tspan dy="2.8">/WT</tspan></text>
<path d="M452.20,322.40 L478.80,323.82 L505.70,323.01" fill="none" stroke="#c8193f" stroke-width="2.0" stroke-linejoin="round"/>
<rect x="450.10" y="320.30" width="4.20" height="4.20" fill="#c8193f"/>
<line x1="478.80" y1="321.38" x2="478.80" y2="326.27" stroke="#c8193f" stroke-width="0.9"/>
<line x1="477.30" y1="321.38" x2="480.30" y2="321.38" stroke="#c8193f" stroke-width="0.9"/>
<line x1="477.30" y1="326.27" x2="480.30" y2="326.27" stroke="#c8193f" stroke-width="0.9"/>
<rect x="476.70" y="321.72" width="4.20" height="4.20" fill="#c8193f"/>
<line x1="505.70" y1="321.99" x2="505.70" y2="324.03" stroke="#c8193f" stroke-width="0.9"/>
<line x1="504.20" y1="321.99" x2="507.20" y2="321.99" stroke="#c8193f" stroke-width="0.9"/>
<line x1="504.20" y1="324.03" x2="507.20" y2="324.03" stroke="#c8193f" stroke-width="0.9"/>
<rect x="503.60" y="320.91" width="4.20" height="4.20" fill="#c8193f"/>
<path d="M452.20,322.40 L478.80,330.15 L505.70,327.70" fill="none" stroke="#1f4e7a" stroke-width="1.7" stroke-linejoin="round"/>
<circle cx="452.20" cy="322.40" r="1.50" fill="#1f4e7a"/>
<circle cx="478.80" cy="330.15" r="1.50" fill="#1f4e7a"/>
<circle cx="505.70" cy="327.70" r="1.50" fill="#1f4e7a"/>
<text x="452.20" y="318.70" font-size="7.6" text-anchor="middle" fill="#333">ns</text>
<text x="479.00" y="321.60" font-size="6.0" text-anchor="middle" font-weight="bold" fill="#222">**</text>
<text x="505.60" y="321.60" font-size="6.0" text-anchor="middle" font-weight="bold" fill="#222">*</text>
<line x1="466.00" y1="286.80" x2="474.30" y2="286.80" stroke="#c8193f" stroke-width="1.8"/>
<rect x="468.20" y="284.90" width="3.80" height="3.80" fill="#c8193f"/>
<text x="477.20" y="289.70" font-size="8.3" text-anchor="start" textLength="29.80" lengthAdjust="spacingAndGlyphs">Control T</text>
<line x1="466.00" y1="297.00" x2="474.30" y2="297.00" stroke="#1f4e7a" stroke-width="1.6"/>
<circle cx="470.10" cy="297.00" r="1.30" fill="#1f4e7a"/>
<text x="477.20" y="300.00" font-size="8.3" text-anchor="start" textLength="40.20" lengthAdjust="spacingAndGlyphs">CD19 CAR T</text>
</svg>
</body></html>
